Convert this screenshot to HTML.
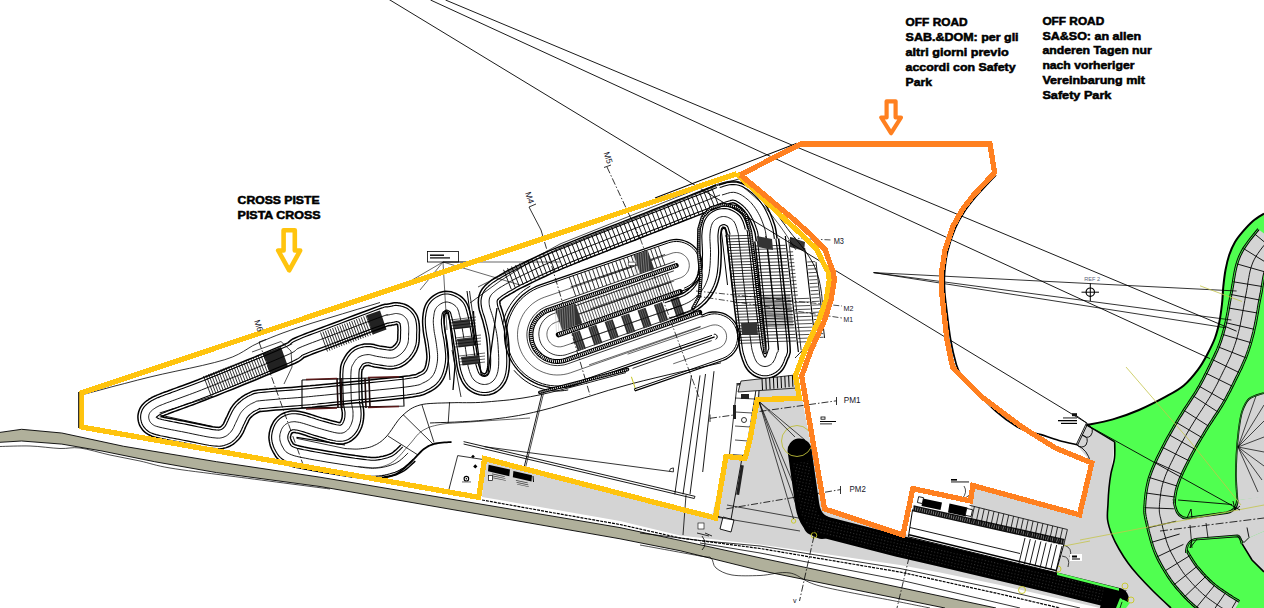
<!DOCTYPE html>
<html><head><meta charset="utf-8"><title>Safety Park - Cross / Off Road</title>
<style>
html,body{margin:0;padding:0;background:#fff;}
body{width:1264px;height:608px;overflow:hidden;position:relative;font-family:"Liberation Sans",sans-serif;}
svg{position:absolute;left:0;top:0;display:block}
.t{position:absolute;font-family:"Liberation Sans",sans-serif;font-weight:bold;color:#000;white-space:nowrap;transform-origin:0 0;line-height:15px;}
</style></head><body>
<svg width="1264" height="608" viewBox="0 0 1264 608">
<polygon points="0.0,432.4 21.6,429.3 61.8,433.0 123.7,446.3 216.5,461.7 320.0,477.2 560.0,517.4 620.0,527.6 680.0,540.4 760.0,557.8 940.0,596.0 996.0,608.0 945.0,608.0 940.0,607.0 760.0,570.5 680.0,550.7 620.0,538.8 560.0,528.3 320.0,486.5 216.5,472.6 154.6,461.7 102.0,451.0 61.8,444.1 21.6,441.0 0.0,442.3" fill="#B0B09B"/>
<polyline points="0.0,432.4 21.6,429.3 61.8,433.0 123.7,446.3 216.5,461.7 320.0,477.2 560.0,517.4 620.0,527.6 680.0,540.4 760.0,557.8 940.0,596.0 996.0,608.0" fill="none" stroke="#000" stroke-width="0.9"/>
<polyline points="945.0,608.0 940.0,607.0 760.0,570.5 680.0,550.7 620.0,538.8 560.0,528.3 320.0,486.5 216.5,472.6 154.6,461.7 102.0,451.0 61.8,444.1 21.6,441.0 0.0,442.3" fill="none" stroke="#000" stroke-width="0.9"/>
<path d="M0.0,446.5C5.0,446.4 20.0,445.7 30.0,446.0C40.0,446.3 51.7,448.2 60.0,448.5C68.3,448.8 71.7,446.9 80.0,448.0C88.3,449.1 100.0,452.8 110.0,455.0C120.0,457.2 130.0,458.8 140.0,461.0C150.0,463.2 155.0,465.5 170.0,468.0C185.0,470.5 203.3,472.5 230.0,476.0C256.7,479.5 313.3,486.8 330.0,489.0" fill="none" stroke="#000" stroke-width="0.7"/>
<path d="M640.0,545.0C650.0,546.8 688.2,553.8 700.0,556.0C711.8,558.2 708.3,556.0 711.0,558.0C713.7,560.0 712.5,565.2 716.0,568.0C719.5,570.8 724.7,573.8 732.0,575.0C739.3,576.2 750.3,575.8 760.0,575.5C769.7,575.2 780.0,571.2 790.0,573.0C800.0,574.8 801.7,581.2 820.0,586.0C838.3,590.8 881.7,598.3 900.0,602.0C918.3,605.7 925.0,607.0 930.0,608.0" fill="none" stroke="#000" stroke-width="0.7"/>
<polygon points="484.6,460.0 712.0,516.0 726.0,457.0 745.0,458.0 757.0,400.0 759.0,381.0 798.0,376.0 802.0,398.0 823.0,508.0 905.0,534.0 1119.0,589.5 1118.0,608.0 1100.0,608.0 1000.0,585.0 940.0,572.5 900.0,565.0 760.0,544.5 680.0,535.5 620.0,521.0 560.0,510.5 482.0,497.0" fill="#D4D4D4"/>
<polygon points="1076.5,444.7 1087.0,423.2 1114.7,441.9 1110.9,473.8 1108.0,503.8 1107.6,520.0 1119.0,549.0 1137.8,575.0 1171.0,608.0 1118.0,608.0 1119.0,589.5 1055.8,572.6 1064.2,543.2 969.5,522.0 972.6,485.3 1074.7,514.7 1079.0,514.5 1091.8,463.0" fill="#D4D4D4"/>
<path d="M1086.5,425.0C1090.9,424.1 1104.0,421.9 1112.8,419.4C1121.5,416.9 1130.2,413.8 1139.0,410.0C1147.8,406.2 1157.8,401.0 1165.3,396.9C1172.8,392.8 1178.3,390.1 1183.8,385.5C1189.2,380.9 1194.0,374.9 1198.0,369.6C1202.0,364.4 1204.7,359.3 1207.5,354.0C1210.3,348.7 1213.0,343.3 1215.0,338.0C1217.0,332.7 1218.1,328.0 1219.3,322.3C1220.5,316.6 1221.3,309.9 1222.0,304.0C1222.7,298.1 1222.7,292.4 1223.3,286.7C1223.9,281.0 1224.5,275.3 1225.5,270.0C1226.5,264.7 1227.6,259.7 1229.2,255.0C1230.8,250.3 1232.7,245.9 1235.0,242.0C1237.3,238.1 1240.0,234.9 1243.0,231.4C1246.0,227.9 1249.5,224.0 1253.0,221.0C1256.5,218.0 1262.2,214.8 1264.0,213.6 L1264,608 L1171,608 L1171.0,608.0C1168.0,605.2 1158.5,596.5 1153.0,591.0C1147.5,585.5 1142.0,579.7 1137.8,575.0C1133.6,570.3 1131.1,567.3 1128.0,563.0C1124.9,558.7 1121.7,553.7 1119.0,549.0C1116.3,544.3 1113.9,539.8 1112.0,535.0C1110.1,530.2 1108.3,525.2 1107.6,520.0C1106.9,514.8 1107.8,509.1 1108.0,503.8C1108.2,498.5 1108.5,493.0 1109.0,488.0C1109.5,483.0 1110.0,478.8 1110.9,473.8C1111.8,468.8 1113.9,463.3 1114.5,458.0C1115.1,452.7 1114.7,444.6 1114.7,441.9 Z" fill="#50FF50"/>
<path d="M1086.5,425.0C1090.9,424.1 1104.0,421.9 1112.8,419.4C1121.5,416.9 1130.2,413.8 1139.0,410.0C1147.8,406.2 1157.8,401.0 1165.3,396.9C1172.8,392.8 1178.3,390.1 1183.8,385.5C1189.2,380.9 1194.0,374.9 1198.0,369.6C1202.0,364.4 1204.7,359.3 1207.5,354.0C1210.3,348.7 1213.0,343.3 1215.0,338.0C1217.0,332.7 1218.1,328.0 1219.3,322.3C1220.5,316.6 1221.3,309.9 1222.0,304.0C1222.7,298.1 1222.7,292.4 1223.3,286.7C1223.9,281.0 1224.5,275.3 1225.5,270.0C1226.5,264.7 1227.6,259.7 1229.2,255.0C1230.8,250.3 1232.7,245.9 1235.0,242.0C1237.3,238.1 1240.0,234.9 1243.0,231.4C1246.0,227.9 1249.5,224.0 1253.0,221.0C1256.5,218.0 1262.2,214.8 1264.0,213.6" fill="none" stroke="#000" stroke-width="2"/>
<path d="M1171.0,608.0C1168.0,605.2 1158.5,596.5 1153.0,591.0C1147.5,585.5 1142.0,579.7 1137.8,575.0C1133.6,570.3 1131.1,567.3 1128.0,563.0C1124.9,558.7 1121.7,553.7 1119.0,549.0C1116.3,544.3 1113.9,539.8 1112.0,535.0C1110.1,530.2 1108.3,525.2 1107.6,520.0C1106.9,514.8 1107.8,509.1 1108.0,503.8C1108.2,498.5 1108.5,493.0 1109.0,488.0C1109.5,483.0 1110.0,478.8 1110.9,473.8C1111.8,468.8 1113.9,463.3 1114.5,458.0C1115.1,452.7 1114.7,444.6 1114.7,441.9" fill="none" stroke="#000" stroke-width="1.6"/>
<line x1="1114.7" y1="441.9" x2="1086.5" y2="425" stroke="#000" stroke-width="1.3"/>
<polygon points="1258.4,229.2 1257.5,230.4 1256.2,231.9 1254.6,233.9 1252.6,236.3 1250.4,239.0 1248.2,242.0 1245.9,245.2 1243.6,248.6 1241.5,252.3 1239.6,256.2 1238.1,260.1 1236.9,263.9 1235.9,267.6 1235.1,271.3 1234.4,274.9 1233.8,278.4 1233.3,281.8 1232.8,285.1 1232.2,288.2 1231.7,291.2 1231.0,294.5 1230.4,297.9 1229.8,301.3 1229.2,304.7 1228.6,308.0 1228.1,311.2 1227.5,314.3 1226.9,317.3 1226.4,320.1 1225.8,322.7 1225.2,325.3 1224.6,327.8 1224.0,330.1 1223.4,332.4 1222.8,334.5 1222.1,336.6 1221.5,338.7 1220.8,340.7 1220.1,342.8 1219.3,344.9 1218.5,347.0 1217.7,349.0 1216.8,351.1 1215.8,353.2 1214.8,355.4 1213.8,357.5 1212.7,359.7 1211.6,362.0 1210.5,364.3 1209.4,366.6 1208.3,368.9 1207.2,371.1 1206.1,373.3 1205.0,375.4 1204.0,377.5 1202.9,379.7 1201.7,381.8 1200.5,384.0 1199.3,386.3 1197.9,388.6 1196.5,391.0 1195.0,393.4 1193.3,396.0 1191.5,398.7 1189.7,401.5 1187.8,404.4 1185.9,407.3 1183.9,410.3 1182.0,413.4 1180.1,416.4 1178.3,419.4 1176.5,422.5 1174.7,425.5 1172.9,428.6 1171.1,431.8 1169.3,434.9 1167.5,438.0 1165.8,441.2 1164.2,444.3 1162.6,447.4 1161.1,450.3 1159.6,453.3 1158.2,456.2 1156.7,459.2 1155.4,462.2 1154.0,465.2 1152.7,468.2 1151.5,471.3 1150.4,474.4 1149.3,477.5 1148.4,480.7 1147.7,483.9 1147.0,487.0 1146.5,490.1 1146.0,493.0 1145.7,495.9 1145.4,498.6 1145.1,501.1 1145.0,503.5 1144.8,505.7 1144.7,507.7 1144.7,509.6 1144.7,511.6 1144.8,513.5 1145.1,515.3 1145.4,517.0 1145.7,518.5 1146.0,520.0 1146.4,521.5 1146.8,523.2 1147.2,525.3 1147.8,527.8 1148.4,530.5 1149.1,533.3 1149.9,536.2 1150.7,539.3 1151.6,542.3 1152.5,545.4 1153.5,548.4 1154.6,551.3 1155.8,554.1 1157.0,556.9 1158.3,559.5 1159.6,562.0 1160.9,564.4 1162.2,566.7 1163.5,568.9 1164.8,571.0 1166.0,572.9 1167.1,574.8 1168.3,576.6 1169.5,578.4 1170.6,580.0 1171.8,581.6 1172.9,583.2 1174.1,584.7 1175.3,586.1 1176.4,587.5 1177.7,589.0 1178.9,590.4 1180.3,591.9 1181.7,593.5 1183.1,595.1 1184.6,596.7 1186.2,598.3 1187.8,599.9 1189.4,601.4 1191.1,603.0 1192.8,604.6 1194.5,606.1 1196.4,607.6 1198.3,609.1 1200.1,610.6 1202.0,611.9 1203.9,613.3 1205.7,614.5 1207.5,615.7 1209.1,616.9 1210.7,617.9 1212.2,618.9 1213.7,619.9 1215.3,621.0 1216.8,621.9 1218.3,622.8 1219.7,623.7 1220.9,624.4 1222.1,625.1 1223.1,625.7 1223.8,626.1 1224.5,626.5 1239.5,601.5 1238.8,601.1 1237.9,600.5 1236.9,599.9 1235.8,599.3 1234.7,598.6 1233.5,597.9 1232.2,597.1 1231.0,596.3 1229.7,595.5 1228.4,594.7 1227.0,593.7 1225.5,592.7 1223.9,591.6 1222.3,590.5 1220.7,589.4 1219.1,588.3 1217.6,587.2 1216.1,586.0 1214.8,585.0 1213.5,583.9 1212.2,582.8 1210.9,581.6 1209.6,580.4 1208.3,579.1 1207.0,577.8 1205.7,576.5 1204.5,575.1 1203.2,573.8 1202.0,572.5 1200.9,571.2 1199.8,569.9 1198.8,568.7 1197.8,567.6 1196.9,566.5 1196.1,565.5 1195.3,564.4 1194.5,563.3 1193.7,562.1 1192.8,560.7 1191.9,559.2 1190.8,557.5 1189.7,555.7 1188.6,553.9 1187.5,552.0 1186.4,550.1 1185.3,548.2 1184.4,546.3 1183.4,544.4 1182.6,542.5 1181.8,540.7 1181.1,538.7 1180.3,536.5 1179.6,534.0 1178.8,531.4 1178.1,528.8 1177.4,526.2 1176.8,523.6 1176.2,521.2 1175.7,518.9 1175.2,516.8 1174.8,514.9 1174.5,513.4 1174.2,512.2 1174.0,511.5 1173.9,511.0 1173.9,510.7 1173.9,510.4 1173.9,509.8 1173.9,508.8 1174.0,507.3 1174.1,505.5 1174.2,503.5 1174.4,501.4 1174.7,499.3 1174.9,497.0 1175.3,494.8 1175.7,492.5 1176.1,490.3 1176.7,488.2 1177.3,486.1 1178.0,483.9 1178.8,481.7 1179.7,479.3 1180.8,476.8 1181.9,474.3 1183.1,471.7 1184.4,469.0 1185.8,466.2 1187.2,463.4 1188.6,460.6 1190.0,457.9 1191.5,455.0 1193.1,452.1 1194.7,449.2 1196.4,446.3 1198.1,443.3 1199.9,440.3 1201.6,437.4 1203.4,434.4 1205.1,431.6 1206.8,428.8 1208.5,426.1 1210.3,423.3 1212.2,420.4 1214.0,417.6 1215.9,414.8 1217.8,411.9 1219.6,409.1 1221.4,406.2 1223.1,403.4 1224.6,400.7 1226.1,398.1 1227.4,395.6 1228.7,393.2 1230.0,390.8 1231.1,388.5 1232.3,386.2 1233.4,384.0 1234.5,381.7 1235.6,379.4 1236.7,377.1 1237.9,374.8 1239.0,372.5 1240.1,370.2 1241.3,367.8 1242.4,365.3 1243.5,362.8 1244.6,360.3 1245.7,357.7 1246.7,355.1 1247.6,352.6 1248.5,350.1 1249.3,347.6 1250.1,345.1 1250.8,342.6 1251.5,340.1 1252.2,337.5 1252.9,334.9 1253.6,332.1 1254.2,329.3 1254.9,326.2 1255.6,322.9 1256.2,319.7 1256.8,316.3 1257.4,313.0 1258.0,309.7 1258.5,306.4 1259.1,303.1 1259.7,300.0 1260.3,296.8 1261.0,293.4 1261.6,289.9 1262.1,286.5 1262.7,283.2 1263.2,280.1 1263.7,277.1 1264.3,274.4 1265.0,271.9 1265.7,269.7 1266.4,267.8 1267.3,266.0 1268.5,264.0 1269.9,261.7 1271.6,259.4 1273.4,257.0 1275.3,254.7 1277.1,252.5 1278.8,250.4 1280.4,248.4 1281.6,246.8" fill="#D4D4D4"/>
<polygon points="1174.0,499.0 1175.6,511.0 1182.0,517.0 1186.5,518.3 1226.6,512.7 1235.0,509.6 1237.4,500.3 1264.0,496.3 1264.0,531.2 1249.8,537.4 1242.0,543.6 1237.4,535.9 1197.3,539.0 1188.0,543.6 1186.4,552.9 1170.0,530.0" fill="#D4D4D4"/>
<polygon points="1264.0,393.0 1249.0,399.0 1242.0,412.0 1238.5,432.0 1236.5,455.0 1236.0,478.0 1237.4,500.3 1264.0,497.0" fill="#D4D4D4"/>
<path d="M1264.0,393.0C1261.5,394.0 1252.7,395.8 1249.0,399.0C1245.3,402.2 1243.8,406.5 1242.0,412.0C1240.2,417.5 1239.4,424.8 1238.5,432.0C1237.6,439.2 1236.9,447.3 1236.5,455.0C1236.1,462.7 1235.8,470.4 1236.0,478.0C1236.2,485.6 1237.2,496.6 1237.4,500.3" fill="none" stroke="#000" stroke-width="1.8"/>
<path d="M1264.0,393.0C1261.5,394.0 1252.7,395.8 1249.0,399.0C1245.3,402.2 1243.8,406.5 1242.0,412.0C1240.2,417.5 1239.4,424.8 1238.5,432.0C1237.6,439.2 1236.9,447.3 1236.5,455.0C1236.1,462.7 1235.8,470.4 1236.0,478.0C1236.2,485.6 1237.2,496.6 1237.4,500.3" fill="none" stroke="#50FF50" stroke-width="0.5"/>
<line x1="1238" y1="447" x2="1264" y2="405" stroke="#000" stroke-width="0.7"/>
<line x1="1238" y1="447" x2="1264" y2="421" stroke="#000" stroke-width="0.7"/>
<line x1="1238" y1="447" x2="1264" y2="437" stroke="#000" stroke-width="0.7"/>
<line x1="1238" y1="447" x2="1264" y2="452" stroke="#000" stroke-width="0.7"/>
<line x1="1238" y1="447" x2="1264" y2="466" stroke="#000" stroke-width="0.7"/>
<line x1="1238" y1="447" x2="1262" y2="480" stroke="#000" stroke-width="0.7"/>
<line x1="1238" y1="447" x2="1256" y2="396" stroke="#000" stroke-width="0.7"/>
<line x1="1238" y1="447" x2="1258" y2="492" stroke="#000" stroke-width="0.7"/>
<polygon points="1264.0,531.2 1249.8,537.4 1242.0,543.6 1252.0,560.0 1264.0,572.0" fill="#D4D4D4"/>
<polyline points="1242.0,543.6 1252.0,560.0 1264.0,572.0" fill="none" stroke="#000" stroke-width="1.6"/>
<polyline points="1258.4,229.2 1257.5,230.4 1256.2,231.9 1254.6,233.9 1252.6,236.3 1250.4,239.0 1248.2,242.0 1245.9,245.2 1243.6,248.6 1241.5,252.3 1239.6,256.2 1238.1,260.1 1236.9,263.9 1235.9,267.6 1235.1,271.3 1234.4,274.9 1233.8,278.4 1233.3,281.8 1232.8,285.1 1232.2,288.2 1231.7,291.2 1231.0,294.5 1230.4,297.9 1229.8,301.3 1229.2,304.7 1228.6,308.0 1228.1,311.2 1227.5,314.3 1226.9,317.3 1226.4,320.1 1225.8,322.7 1225.2,325.3 1224.6,327.8 1224.0,330.1 1223.4,332.4 1222.8,334.5 1222.1,336.6 1221.5,338.7 1220.8,340.7 1220.1,342.8 1219.3,344.9 1218.5,347.0 1217.7,349.0 1216.8,351.1 1215.8,353.2 1214.8,355.4 1213.8,357.5 1212.7,359.7 1211.6,362.0 1210.5,364.3 1209.4,366.6 1208.3,368.9 1207.2,371.1 1206.1,373.3 1205.0,375.4 1204.0,377.5 1202.9,379.7 1201.7,381.8 1200.5,384.0 1199.3,386.3 1197.9,388.6 1196.5,391.0 1195.0,393.4 1193.3,396.0 1191.5,398.7 1189.7,401.5 1187.8,404.4 1185.9,407.3 1183.9,410.3 1182.0,413.4 1180.1,416.4 1178.3,419.4 1176.5,422.5 1174.7,425.5 1172.9,428.6 1171.1,431.8 1169.3,434.9 1167.5,438.0 1165.8,441.2 1164.2,444.3 1162.6,447.4 1161.1,450.3 1159.6,453.3 1158.2,456.2 1156.7,459.2 1155.4,462.2 1154.0,465.2 1152.7,468.2 1151.5,471.3 1150.4,474.4 1149.3,477.5 1148.4,480.7 1147.7,483.9 1147.0,487.0 1146.5,490.1 1146.0,493.0 1145.7,495.9 1145.4,498.6 1145.1,501.1 1145.0,503.5 1144.8,505.7 1144.7,507.7 1144.7,509.6 1144.7,511.6 1144.8,513.5 1145.1,515.3 1145.4,517.0 1145.7,518.5 1146.0,520.0 1146.4,521.5 1146.8,523.2 1147.2,525.3 1147.8,527.8 1148.4,530.5 1149.1,533.3 1149.9,536.2 1150.7,539.3 1151.6,542.3 1152.5,545.4 1153.5,548.4 1154.6,551.3 1155.8,554.1 1157.0,556.9 1158.3,559.5 1159.6,562.0 1160.9,564.4 1162.2,566.7 1163.5,568.9 1164.8,571.0 1166.0,572.9 1167.1,574.8 1168.3,576.6 1169.5,578.4 1170.6,580.0 1171.8,581.6 1172.9,583.2 1174.1,584.7 1175.3,586.1 1176.4,587.5 1177.7,589.0 1178.9,590.4 1180.3,591.9 1181.7,593.5 1183.1,595.1 1184.6,596.7 1186.2,598.3 1187.8,599.9 1189.4,601.4 1191.1,603.0 1192.8,604.6 1194.5,606.1 1196.4,607.6 1198.3,609.1 1200.1,610.6 1202.0,611.9 1203.9,613.3 1205.7,614.5 1207.5,615.7 1209.1,616.9 1210.7,617.9 1212.2,618.9 1213.7,619.9 1215.3,621.0 1216.8,621.9 1218.3,622.8 1219.7,623.7 1220.9,624.4 1222.1,625.1 1223.1,625.7 1223.8,626.1 1224.5,626.5" fill="none" stroke="#000" stroke-width="2.8"/>
<polyline points="1258.4,229.2 1257.5,230.4 1256.2,231.9 1254.6,233.9 1252.6,236.3 1250.4,239.0 1248.2,242.0 1245.9,245.2 1243.6,248.6 1241.5,252.3 1239.6,256.2 1238.1,260.1 1236.9,263.9 1235.9,267.6 1235.1,271.3 1234.4,274.9 1233.8,278.4 1233.3,281.8 1232.8,285.1 1232.2,288.2 1231.7,291.2 1231.0,294.5 1230.4,297.9 1229.8,301.3 1229.2,304.7 1228.6,308.0 1228.1,311.2 1227.5,314.3 1226.9,317.3 1226.4,320.1 1225.8,322.7 1225.2,325.3 1224.6,327.8 1224.0,330.1 1223.4,332.4 1222.8,334.5 1222.1,336.6 1221.5,338.7 1220.8,340.7 1220.1,342.8 1219.3,344.9 1218.5,347.0 1217.7,349.0 1216.8,351.1 1215.8,353.2 1214.8,355.4 1213.8,357.5 1212.7,359.7 1211.6,362.0 1210.5,364.3 1209.4,366.6 1208.3,368.9 1207.2,371.1 1206.1,373.3 1205.0,375.4 1204.0,377.5 1202.9,379.7 1201.7,381.8 1200.5,384.0 1199.3,386.3 1197.9,388.6 1196.5,391.0 1195.0,393.4 1193.3,396.0 1191.5,398.7 1189.7,401.5 1187.8,404.4 1185.9,407.3 1183.9,410.3 1182.0,413.4 1180.1,416.4 1178.3,419.4 1176.5,422.5 1174.7,425.5 1172.9,428.6 1171.1,431.8 1169.3,434.9 1167.5,438.0 1165.8,441.2 1164.2,444.3 1162.6,447.4 1161.1,450.3 1159.6,453.3 1158.2,456.2 1156.7,459.2 1155.4,462.2 1154.0,465.2 1152.7,468.2 1151.5,471.3 1150.4,474.4 1149.3,477.5 1148.4,480.7 1147.7,483.9 1147.0,487.0 1146.5,490.1 1146.0,493.0 1145.7,495.9 1145.4,498.6 1145.1,501.1 1145.0,503.5 1144.8,505.7 1144.7,507.7 1144.7,509.6 1144.7,511.6 1144.8,513.5 1145.1,515.3 1145.4,517.0 1145.7,518.5 1146.0,520.0 1146.4,521.5 1146.8,523.2 1147.2,525.3 1147.8,527.8 1148.4,530.5 1149.1,533.3 1149.9,536.2 1150.7,539.3 1151.6,542.3 1152.5,545.4 1153.5,548.4 1154.6,551.3 1155.8,554.1 1157.0,556.9 1158.3,559.5 1159.6,562.0 1160.9,564.4 1162.2,566.7 1163.5,568.9 1164.8,571.0 1166.0,572.9 1167.1,574.8 1168.3,576.6 1169.5,578.4 1170.6,580.0 1171.8,581.6 1172.9,583.2 1174.1,584.7 1175.3,586.1 1176.4,587.5 1177.7,589.0 1178.9,590.4 1180.3,591.9 1181.7,593.5 1183.1,595.1 1184.6,596.7 1186.2,598.3 1187.8,599.9 1189.4,601.4 1191.1,603.0 1192.8,604.6 1194.5,606.1 1196.4,607.6 1198.3,609.1 1200.1,610.6 1202.0,611.9 1203.9,613.3 1205.7,614.5 1207.5,615.7 1209.1,616.9 1210.7,617.9 1212.2,618.9 1213.7,619.9 1215.3,621.0 1216.8,621.9 1218.3,622.8 1219.7,623.7 1220.9,624.4 1222.1,625.1 1223.1,625.7 1223.8,626.1 1224.5,626.5" fill="none" stroke="#50FF50" stroke-width="0.9"/>
<polyline points="1281.6,246.8 1280.4,248.4 1278.8,250.4 1277.1,252.5 1275.3,254.7 1273.4,257.0 1271.6,259.4 1269.9,261.7 1268.5,264.0 1267.3,266.0 1266.4,267.8 1265.7,269.7 1265.0,271.9 1264.3,274.4 1263.7,277.1 1263.2,280.1 1262.7,283.2 1262.1,286.5 1261.6,289.9 1261.0,293.4 1260.3,296.8 1259.7,300.0 1259.1,303.1 1258.5,306.4 1258.0,309.7 1257.4,313.0 1256.8,316.3 1256.2,319.7 1255.6,322.9 1254.9,326.2 1254.2,329.3 1253.6,332.1 1252.9,334.9 1252.2,337.5 1251.5,340.1 1250.8,342.6 1250.1,345.1 1249.3,347.6 1248.5,350.1 1247.6,352.6 1246.7,355.1 1245.7,357.7 1244.6,360.3 1243.5,362.8 1242.4,365.3 1241.3,367.8 1240.1,370.2 1239.0,372.5 1237.9,374.8 1236.7,377.1 1235.6,379.4 1234.5,381.7 1233.4,384.0 1232.3,386.2 1231.1,388.5 1230.0,390.8 1228.7,393.2 1227.4,395.6 1226.1,398.1 1224.6,400.7 1223.1,403.4 1221.4,406.2 1219.6,409.1 1217.8,411.9 1215.9,414.8 1214.0,417.6 1212.2,420.4 1210.3,423.3 1208.5,426.1 1206.8,428.8 1205.1,431.6 1203.4,434.4 1201.6,437.4 1199.9,440.3 1198.1,443.3 1196.4,446.3 1194.7,449.2 1193.1,452.1 1191.5,455.0 1190.0,457.9 1188.6,460.6 1187.2,463.4 1185.8,466.2 1184.4,469.0 1183.1,471.7 1181.9,474.3 1180.8,476.8 1179.7,479.3 1178.8,481.7 1178.0,483.9 1177.3,486.1 1176.7,488.2 1176.1,490.3 1175.7,492.5 1175.3,494.8 1174.9,497.0 1174.7,499.3 1174.4,501.4 1174.2,503.5" fill="none" stroke="#000" stroke-width="2.8"/>
<polyline points="1281.6,246.8 1280.4,248.4 1278.8,250.4 1277.1,252.5 1275.3,254.7 1273.4,257.0 1271.6,259.4 1269.9,261.7 1268.5,264.0 1267.3,266.0 1266.4,267.8 1265.7,269.7 1265.0,271.9 1264.3,274.4 1263.7,277.1 1263.2,280.1 1262.7,283.2 1262.1,286.5 1261.6,289.9 1261.0,293.4 1260.3,296.8 1259.7,300.0 1259.1,303.1 1258.5,306.4 1258.0,309.7 1257.4,313.0 1256.8,316.3 1256.2,319.7 1255.6,322.9 1254.9,326.2 1254.2,329.3 1253.6,332.1 1252.9,334.9 1252.2,337.5 1251.5,340.1 1250.8,342.6 1250.1,345.1 1249.3,347.6 1248.5,350.1 1247.6,352.6 1246.7,355.1 1245.7,357.7 1244.6,360.3 1243.5,362.8 1242.4,365.3 1241.3,367.8 1240.1,370.2 1239.0,372.5 1237.9,374.8 1236.7,377.1 1235.6,379.4 1234.5,381.7 1233.4,384.0 1232.3,386.2 1231.1,388.5 1230.0,390.8 1228.7,393.2 1227.4,395.6 1226.1,398.1 1224.6,400.7 1223.1,403.4 1221.4,406.2 1219.6,409.1 1217.8,411.9 1215.9,414.8 1214.0,417.6 1212.2,420.4 1210.3,423.3 1208.5,426.1 1206.8,428.8 1205.1,431.6 1203.4,434.4 1201.6,437.4 1199.9,440.3 1198.1,443.3 1196.4,446.3 1194.7,449.2 1193.1,452.1 1191.5,455.0 1190.0,457.9 1188.6,460.6 1187.2,463.4 1185.8,466.2 1184.4,469.0 1183.1,471.7 1181.9,474.3 1180.8,476.8 1179.7,479.3 1178.8,481.7 1178.0,483.9 1177.3,486.1 1176.7,488.2 1176.1,490.3 1175.7,492.5 1175.3,494.8 1174.9,497.0 1174.7,499.3 1174.4,501.4 1174.2,503.5" fill="none" stroke="#50FF50" stroke-width="0.9"/>
<polyline points="1186.4,550.1 1187.5,552.0 1188.6,553.9 1189.7,555.7 1190.8,557.5 1191.9,559.2 1192.8,560.7 1193.7,562.1 1194.5,563.3 1195.3,564.4 1196.1,565.5 1196.9,566.5 1197.8,567.6 1198.8,568.7 1199.8,569.9 1200.9,571.2 1202.0,572.5 1203.2,573.8 1204.5,575.1 1205.7,576.5 1207.0,577.8 1208.3,579.1 1209.6,580.4 1210.9,581.6 1212.2,582.8 1213.5,583.9 1214.8,585.0 1216.1,586.0 1217.6,587.2 1219.1,588.3 1220.7,589.4 1222.3,590.5 1223.9,591.6 1225.5,592.7 1227.0,593.7 1228.4,594.7 1229.7,595.5 1231.0,596.3 1232.2,597.1 1233.5,597.9 1234.7,598.6 1235.8,599.3 1236.9,599.9 1237.9,600.5 1238.8,601.1 1239.5,601.5" fill="none" stroke="#000" stroke-width="2.8"/>
<polyline points="1186.4,550.1 1187.5,552.0 1188.6,553.9 1189.7,555.7 1190.8,557.5 1191.9,559.2 1192.8,560.7 1193.7,562.1 1194.5,563.3 1195.3,564.4 1196.1,565.5 1196.9,566.5 1197.8,567.6 1198.8,568.7 1199.8,569.9 1200.9,571.2 1202.0,572.5 1203.2,573.8 1204.5,575.1 1205.7,576.5 1207.0,577.8 1208.3,579.1 1209.6,580.4 1210.9,581.6 1212.2,582.8 1213.5,583.9 1214.8,585.0 1216.1,586.0 1217.6,587.2 1219.1,588.3 1220.7,589.4 1222.3,590.5 1223.9,591.6 1225.5,592.7 1227.0,593.7 1228.4,594.7 1229.7,595.5 1231.0,596.3 1232.2,597.1 1233.5,597.9 1234.7,598.6 1235.8,599.3 1236.9,599.9 1237.9,600.5 1238.8,601.1 1239.5,601.5" fill="none" stroke="#50FF50" stroke-width="0.9"/>
<path d="M1174,499 C1174.5,508 1177,517.5 1186.5,518.3 L1226.6,512.7 C1233,511.5 1237,507 1237.4,500.3" fill="none" stroke="#000" stroke-width="2.6"/><path d="M1174,499 C1174.5,508 1177,517.5 1186.5,518.3 L1226.6,512.7 C1233,511.5 1237,507 1237.4,500.3" fill="none" stroke="#50FF50" stroke-width="0.8"/>
<path d="M1186.4,552.9 C1186,545 1190,539.5 1197.3,539 L1237.4,535.9 C1240,536 1241,540 1242,543.6" fill="none" stroke="#000" stroke-width="2.6"/><path d="M1186.4,552.9 C1186,545 1190,539.5 1197.3,539 L1237.4,535.9 C1240,536 1241,540 1242,543.6" fill="none" stroke="#50FF50" stroke-width="0.8"/>
<path d="M1178,500 L1232,504.5" fill="none" stroke="#000" stroke-width="0.9"/>
<path d="M1187,518 l4,-9 l1,9 M1237,535.5 l7,7 l5,-5 l-2,-10 M1233,501 l2,9 l5,-4 M1197,539 l-7,9 l2,-9" fill="none" stroke="#000" stroke-width="0.9"/>
<polyline points="1270.0,238.0 1268.9,239.4 1267.5,241.1 1265.8,243.2 1263.9,245.5 1261.9,248.0 1259.9,250.7 1257.9,253.5 1256.0,256.3 1254.4,259.2 1253.0,262.0 1251.9,264.9 1250.9,267.9 1250.1,271.0 1249.4,274.2 1248.8,277.5 1248.2,280.8 1247.7,284.1 1247.2,287.5 1246.6,290.8 1246.0,294.0 1245.4,297.2 1244.8,300.5 1244.2,303.9 1243.6,307.2 1243.0,310.5 1242.4,313.8 1241.8,317.0 1241.2,320.1 1240.6,323.1 1240.0,326.0 1239.4,328.7 1238.7,331.3 1238.1,333.8 1237.4,336.2 1236.8,338.6 1236.1,340.9 1235.4,343.1 1234.6,345.4 1233.8,347.7 1233.0,350.0 1232.1,352.3 1231.1,354.7 1230.2,357.0 1229.1,359.3 1228.1,361.6 1227.0,363.8 1225.9,366.1 1224.8,368.4 1223.6,370.7 1222.5,373.0 1221.4,375.3 1220.3,377.5 1219.2,379.7 1218.1,382.0 1217.0,384.2 1215.8,386.4 1214.6,388.7 1213.3,391.1 1211.9,393.5 1210.5,396.0 1208.9,398.6 1207.3,401.2 1205.5,404.0 1203.7,406.7 1201.9,409.6 1200.0,412.4 1198.1,415.3 1196.2,418.2 1194.4,421.1 1192.6,424.0 1190.8,426.9 1189.1,429.9 1187.3,432.9 1185.5,436.0 1183.8,439.0 1182.0,442.1 1180.3,445.1 1178.7,448.1 1177.1,451.1 1175.6,454.0 1174.1,456.9 1172.7,459.8 1171.3,462.6 1169.9,465.4 1168.6,468.2 1167.4,471.0 1166.2,473.8 1165.1,476.5 1164.2,479.2 1163.3,481.8 1162.5,484.4 1161.9,487.1 1161.3,489.8 1160.9,492.4 1160.5,495.0 1160.2,497.6 1159.9,500.0 1159.7,502.3 1159.5,504.5 1159.4,506.5 1159.3,508.2 1159.3,509.7 1159.3,511.0 1159.4,512.1 1159.5,513.2 1159.7,514.2 1159.9,515.4 1160.2,516.7 1160.6,518.2 1161.0,520.0 1161.5,522.1 1162.0,524.5 1162.6,527.0 1163.3,529.7 1164.0,532.5 1164.8,535.4 1165.6,538.2 1166.4,540.9 1167.3,543.5 1168.2,546.0 1169.2,548.3 1170.2,550.6 1171.3,552.9 1172.5,555.1 1173.7,557.3 1174.8,559.4 1176.0,561.4 1177.2,563.3 1178.4,565.2 1179.5,567.0 1180.6,568.7 1181.6,570.2 1182.6,571.7 1183.5,573.0 1184.5,574.3 1185.5,575.6 1186.5,576.9 1187.6,578.1 1188.7,579.4 1189.9,580.8 1191.2,582.2 1192.4,583.7 1193.8,585.1 1195.2,586.6 1196.6,588.0 1198.0,589.5 1199.5,590.9 1201.0,592.3 1202.5,593.7 1204.0,595.0 1205.6,596.3 1207.2,597.6 1208.9,598.9 1210.6,600.1 1212.3,601.3 1214.0,602.5 1215.7,603.7 1217.3,604.8 1218.8,605.8 1220.3,606.8 1221.7,607.7 1223.1,608.6 1224.5,609.5 1225.9,610.4 1227.2,611.1 1228.4,611.9 1229.5,612.5 1230.5,613.1 1231.3,613.6 1232.0,614.0" fill="none" stroke="#000" stroke-width="0.9"/>
<line x1="1254.6" y1="233.9" x2="1277.1" y2="252.5" stroke="#000" stroke-width="0.9"/>
<line x1="1243.6" y1="248.6" x2="1268.5" y2="264.0" stroke="#000" stroke-width="0.9"/>
<line x1="1236.9" y1="263.9" x2="1265.0" y2="271.9" stroke="#000" stroke-width="0.9"/>
<line x1="1233.3" y1="281.8" x2="1262.1" y2="286.5" stroke="#000" stroke-width="0.9"/>
<line x1="1231.0" y1="294.5" x2="1259.7" y2="300.0" stroke="#000" stroke-width="0.9"/>
<line x1="1228.6" y1="308.0" x2="1257.4" y2="313.0" stroke="#000" stroke-width="0.9"/>
<line x1="1225.8" y1="322.7" x2="1254.2" y2="329.3" stroke="#000" stroke-width="0.9"/>
<line x1="1222.8" y1="334.5" x2="1250.8" y2="342.6" stroke="#000" stroke-width="0.9"/>
<line x1="1218.5" y1="347.0" x2="1245.7" y2="357.7" stroke="#000" stroke-width="0.9"/>
<line x1="1212.7" y1="359.7" x2="1239.0" y2="372.5" stroke="#000" stroke-width="0.9"/>
<line x1="1206.1" y1="373.3" x2="1232.3" y2="386.2" stroke="#000" stroke-width="0.9"/>
<line x1="1199.3" y1="386.3" x2="1224.6" y2="400.7" stroke="#000" stroke-width="0.9"/>
<line x1="1193.3" y1="396.0" x2="1217.8" y2="411.9" stroke="#000" stroke-width="0.9"/>
<line x1="1183.9" y1="410.3" x2="1208.5" y2="426.1" stroke="#000" stroke-width="0.9"/>
<line x1="1176.5" y1="422.5" x2="1201.6" y2="437.4" stroke="#000" stroke-width="0.9"/>
<line x1="1169.3" y1="434.9" x2="1194.7" y2="449.2" stroke="#000" stroke-width="0.9"/>
<line x1="1162.6" y1="447.4" x2="1188.6" y2="460.6" stroke="#000" stroke-width="0.9"/>
<line x1="1155.4" y1="462.2" x2="1181.9" y2="474.3" stroke="#000" stroke-width="0.9"/>
<line x1="1149.3" y1="477.5" x2="1177.3" y2="486.1" stroke="#000" stroke-width="0.9"/>
<line x1="1146.0" y1="493.0" x2="1174.9" y2="497.0" stroke="#000" stroke-width="0.9"/>
<line x1="1144.7" y1="507.7" x2="1173.9" y2="508.8" stroke="#000" stroke-width="0.9"/>
<line x1="1147.8" y1="527.8" x2="1176.2" y2="521.2" stroke="#000" stroke-width="0.9"/>
<line x1="1151.6" y1="542.3" x2="1179.6" y2="534.0" stroke="#000" stroke-width="0.9"/>
<line x1="1157.0" y1="556.9" x2="1183.4" y2="544.4" stroke="#000" stroke-width="0.9"/>
<line x1="1164.8" y1="571.0" x2="1189.7" y2="555.7" stroke="#000" stroke-width="0.9"/>
<line x1="1174.1" y1="584.7" x2="1196.9" y2="566.5" stroke="#000" stroke-width="0.9"/>
<line x1="1184.6" y1="596.7" x2="1205.7" y2="576.5" stroke="#000" stroke-width="0.9"/>
<line x1="1196.4" y1="607.6" x2="1214.8" y2="585.0" stroke="#000" stroke-width="0.9"/>
<line x1="1209.1" y1="616.9" x2="1225.5" y2="592.7" stroke="#000" stroke-width="0.9"/>
<line x1="1222.1" y1="625.1" x2="1236.9" y2="599.9" stroke="#000" stroke-width="0.9"/>
<line x1="1160" y1="531" x2="1264" y2="518" stroke="#000" stroke-width="0.8" stroke-dasharray="8 2 2 2"/>
<line x1="1190" y1="525" x2="1192" y2="548" stroke="#000" stroke-width="0.8"/><line x1="1206" y1="523" x2="1208" y2="538" stroke="#000" stroke-width="0.8"/>
<path d="M799.6,450.5 L807.3,505 Q810,522 822,527" fill="none" stroke="#000" stroke-width="24" stroke-linecap="round" stroke-linejoin="round"/><path d="M814,524.5 L830,528.5 L900,546.5 L940,555.8 L1055.8,583.2 L1118,598.7" fill="none" stroke="#000" stroke-width="21.5" stroke-linecap="round" stroke-linejoin="round"/><defs><pattern id="dots" width="3.2" height="3.2" patternUnits="userSpaceOnUse" patternTransform="rotate(13)"><rect width="3.2" height="3.2" fill="#000"/><rect x="1" y="1" width="0.8" height="0.8" fill="#555"/></pattern></defs><path d="M801,462 L807.3,505 Q810,522 822,527 L830,528.5 L900,546.5 L940,555.8 L1055.8,583.2 L1112,597.2" fill="none" stroke="url(#dots)" stroke-width="16" stroke-linejoin="round"/>
<polygon points="1105,585 1122,589 1119,608 1100,608" fill="#000"/>
<circle cx="797" cy="441" r="15.5" fill="none" stroke="#BDBD3A" stroke-width="0.9"/>
<circle cx="793.6" cy="521" r="2.2" fill="none" stroke="#C8C820" stroke-width="0.9"/>
<circle cx="814" cy="535.3" r="2.8" fill="none" stroke="#C8C820" stroke-width="0.9"/>
<circle cx="1022" cy="590" r="3.5" fill="none" stroke="#C8C820" stroke-width="0.9"/>
<circle cx="1058" cy="569" r="3" fill="none" stroke="#C8C820" stroke-width="0.9"/>
<circle cx="1125" cy="586" r="3" fill="none" stroke="#C8C820" stroke-width="0.9"/>
<circle cx="1131" cy="600" r="3" fill="none" stroke="#C8C820" stroke-width="0.9"/>
<polygon points="1057,572.6 1119,588.3 1119,590.8 1057,575" fill="#50FF50"/>
<polygon points="1120,598 1130,603 1126,608 1116,608" fill="#50FF50"/>
<polygon points="912.6,509.5 1064.2,543.2 1055.8,572.6 908.4,536.8" fill="#fff" stroke="#000" stroke-width="1"/>
<line x1="910" y1="527.5" x2="1020" y2="553.5" stroke="#000" stroke-width="0.9"/>
<line x1="909" y1="534.8" x2="1056" y2="570.5" stroke="#000" stroke-width="1.4"/>
<polygon points="912.6,488.4 971,500 969.5,522 912.6,509.5" fill="#fff"/>
<polygon points="923,498.5 942,502.5 940.5,510 921.5,506" fill="#000"/><polygon points="949.5,503.5 967.4,507.5 966,516.5 948,512.5" fill="#000"/>
<rect x="918" y="497" width="5" height="6" fill="#fff" stroke="#000" stroke-width="0.8" transform="rotate(12 920 500)"/>
<rect x="966" y="509" width="6" height="7" fill="#fff" stroke="#000" stroke-width="0.8" transform="rotate(12 969 512)"/>
<line x1="913" y1="508.3" x2="1064" y2="542" stroke="#111" stroke-width="6.2"/>
<line x1="913" y1="508.3" x2="1064" y2="542" stroke="#fff" stroke-width="3.6" stroke-dasharray="0.7 1.6" opacity="0.55"/>
<line x1="969.5" y1="505.3" x2="1067.4" y2="529.5" stroke="#000" stroke-width="0.8"/>
<line x1="1067.4" y1="529.5" x2="1064.2" y2="543.2" stroke="#000" stroke-width="0.8"/>
<line x1="974.4" y1="506.5" x2="970.8" y2="522.8" stroke="#000" stroke-width="0.8"/>
<line x1="979.3" y1="507.7" x2="975.7" y2="524.0" stroke="#000" stroke-width="0.8"/>
<line x1="984.2" y1="508.9" x2="980.6" y2="525.2" stroke="#000" stroke-width="0.8"/>
<line x1="989.1" y1="510.1" x2="985.5" y2="526.4" stroke="#000" stroke-width="0.8"/>
<line x1="994.0" y1="511.4" x2="990.4" y2="527.6" stroke="#000" stroke-width="0.8"/>
<line x1="998.9" y1="512.6" x2="995.3" y2="528.9" stroke="#000" stroke-width="0.8"/>
<line x1="1003.8" y1="513.8" x2="1000.2" y2="530.1" stroke="#000" stroke-width="0.8"/>
<line x1="1008.7" y1="515.0" x2="1005.1" y2="531.3" stroke="#000" stroke-width="0.8"/>
<line x1="1013.6" y1="516.2" x2="1010.0" y2="532.5" stroke="#000" stroke-width="0.8"/>
<line x1="1018.5" y1="517.4" x2="1014.9" y2="533.7" stroke="#000" stroke-width="0.8"/>
<line x1="1023.3" y1="518.6" x2="1019.7" y2="534.9" stroke="#000" stroke-width="0.8"/>
<line x1="1028.2" y1="519.8" x2="1024.6" y2="536.1" stroke="#000" stroke-width="0.8"/>
<line x1="1033.1" y1="521.0" x2="1029.5" y2="537.3" stroke="#000" stroke-width="0.8"/>
<line x1="1038.0" y1="522.2" x2="1034.4" y2="538.5" stroke="#000" stroke-width="0.8"/>
<line x1="1042.9" y1="523.5" x2="1039.3" y2="539.8" stroke="#000" stroke-width="0.8"/>
<line x1="1047.8" y1="524.7" x2="1044.2" y2="541.0" stroke="#000" stroke-width="0.8"/>
<line x1="1052.7" y1="525.9" x2="1049.1" y2="542.2" stroke="#000" stroke-width="0.8"/>
<line x1="1057.6" y1="527.1" x2="1054.0" y2="543.4" stroke="#000" stroke-width="0.8"/>
<line x1="1062.5" y1="528.3" x2="1058.9" y2="544.6" stroke="#000" stroke-width="0.8"/>
<line x1="1025.0" y1="538.0" x2="1019.0" y2="563.0" stroke="#000" stroke-width="0.9"/>
<line x1="1030.3" y1="539.1" x2="1024.3" y2="564.1" stroke="#000" stroke-width="0.9"/>
<line x1="1035.6" y1="540.3" x2="1029.6" y2="565.3" stroke="#000" stroke-width="0.9"/>
<line x1="1040.9" y1="541.4" x2="1034.9" y2="566.4" stroke="#000" stroke-width="0.9"/>
<line x1="1046.1" y1="542.6" x2="1040.1" y2="567.6" stroke="#000" stroke-width="0.9"/>
<line x1="1051.4" y1="543.7" x2="1045.4" y2="568.7" stroke="#000" stroke-width="0.9"/>
<line x1="1056.7" y1="544.9" x2="1050.7" y2="569.9" stroke="#000" stroke-width="0.9"/>
<line x1="1062.0" y1="546.0" x2="1056.0" y2="571.0" stroke="#000" stroke-width="0.9"/>
<path d="M1064,545 q9,3 6,12 M1062,556 q9,1 6,11" fill="none" stroke="#000" stroke-width="0.7"/>
<path d="M964,486 q4,6 -2,13 q8,-2 10,-9" fill="none" stroke="#000" stroke-width="0.7"/>
<rect x="1070" y="554" width="12" height="7" fill="#fff"/><rect x="1072" y="555.5" width="5" height="2" fill="#000"/><rect x="1072" y="558.5" width="8" height="1" fill="#000"/>
<rect x="951" y="479" width="6" height="1.6" fill="#000"/><rect x="951" y="481.5" width="18" height="0.9" fill="#000"/>
<line x1="759.0" y1="401.5" x2="793.6" y2="519.0" stroke="#000" stroke-width="0.7" />
<line x1="759.0" y1="401.5" x2="803.0" y2="524.0" stroke="#000" stroke-width="0.7" />
<line x1="759.0" y1="401.5" x2="814.0" y2="533.0" stroke="#000" stroke-width="0.7" />
<line x1="759.0" y1="401.5" x2="795.0" y2="437.0" stroke="#000" stroke-width="0.7" />
<line x1="759.0" y1="401.5" x2="805.0" y2="440.0" stroke="#000" stroke-width="0.7" />
<line x1="710.0" y1="418.3" x2="836.5" y2="400.8" stroke="#000" stroke-width="0.8" stroke-dasharray="7 2 1.5 2"/>
<line x1="836.5" y1="397.0" x2="836.5" y2="405.0" stroke="#000" stroke-width="0.8" />
<line x1="710.0" y1="414.5" x2="710.0" y2="422.0" stroke="#000" stroke-width="0.8" />
<line x1="726.4" y1="508.8" x2="840.5" y2="489.6" stroke="#000" stroke-width="0.8" stroke-dasharray="7 2 1.5 2"/>
<line x1="840.5" y1="486.0" x2="840.5" y2="494.0" stroke="#000" stroke-width="0.8" />
<line x1="814.0" y1="536.0" x2="799.5" y2="601.0" stroke="#000" stroke-width="0.8" stroke-dasharray="7 2 1.5 2"/>
<line x1="912.0" y1="545.0" x2="897.0" y2="608.0" stroke="#000" stroke-width="0.8" stroke-dasharray="7 2 1.5 2"/>
<line x1="1126.0" y1="590.0" x2="1120.0" y2="608.0" stroke="#000" stroke-width="0.8" stroke-dasharray="7 2 1.5 2"/>
<polygon points="736.5,384 757,382 745,456 726,455 716,516 731,519.5 742,458 747,459 758.5,399 759.5,383" fill="none" stroke="#000" stroke-width="0.9"/>
<polygon points="737,385 757,383.5 745.5,455.5 729.5,454.5" fill="#fff" stroke="#000" stroke-width="0.8"/>
<line x1="735.0" y1="398.0" x2="754.3" y2="399.0" stroke="#000" stroke-width="0.7" />
<line x1="735.0" y1="412.0" x2="752.2" y2="413.0" stroke="#000" stroke-width="0.7" />
<line x1="735.0" y1="426.0" x2="750.1" y2="427.0" stroke="#000" stroke-width="0.7" />
<line x1="735.0" y1="440.0" x2="748.0" y2="441.0" stroke="#000" stroke-width="0.7" />
<rect x="741" y="394" width="8" height="5" fill="#222"/><circle cx="744" cy="420" r="2.5" fill="none" stroke="#000" stroke-width="0.8"/><rect x="733" y="405" width="3" height="14" fill="#222"/><rect x="738.5" y="465" width="3" height="30" fill="#222" transform="rotate(9 740 480)"/>
<polygon points="723,517 734,520 731,532 720,529" fill="#fff" stroke="#000" stroke-width="0.9"/>
<path d="M697,533 l12,3 M702,536 q6,8 0,14" fill="none" stroke="#000" stroke-width="0.8"/><rect x="698" y="523" width="6" height="6" fill="#fff" stroke="#000" stroke-width="0.6"/>
<line x1="686.0" y1="495.0" x2="683.0" y2="535.0" stroke="#000" stroke-width="0.8" />
<line x1="705.0" y1="533.0" x2="712.0" y2="536.0" stroke="#000" stroke-width="0.8" />
<polyline points="482.0,500.0 560.0,514.0 620.0,524.5 680.0,538.0 760.0,548.5 900.0,572.0 1000.0,594.0 1060.0,608.0" fill="none" stroke="#000" stroke-width="1.2" stroke-dasharray="3 1"/>
<polyline points="700.0,543.0 760.0,553.0 900.0,580.0 1020.0,608.0" fill="none" stroke="#000" stroke-width="0.8"/>
<polyline points="640.0,533.0 700.0,540.5 760.0,546.0 900.0,568.5 1000.0,589.5 1080.0,608.0" fill="none" stroke="#000" stroke-width="0.8"/>
<line x1="727.0" y1="505.0" x2="815.0" y2="521.0" stroke="#000" stroke-width="0.7" />
<line x1="716.0" y1="517.0" x2="800.0" y2="531.0" stroke="#000" stroke-width="0.7" />
<rect x="821" y="417" width="4" height="2.2" fill="none" stroke="#000" stroke-width="0.8"/><rect x="820" y="421" width="16" height="1" fill="#000"/><rect x="820" y="423.5" width="12" height="0.8" fill="#000"/>
<polyline points="83.0,394.5 90.2,392.6 100.1,390.0 111.8,386.8 124.6,383.5 137.6,380.1 150.0,377.0 162.5,374.1 175.9,371.2 189.5,368.3 202.6,365.4 214.6,362.5 224.8,359.7 232.7,356.9 238.7,354.1 243.6,351.3 248.1,348.5 252.7,345.7 258.3,343.0 264.3,340.4 270.2,337.9 276.2,335.5 283.0,332.9 290.7,330.2 300.0,327.0 312.0,323.1 326.8,318.6 342.6,313.8 357.8,309.2 370.9,305.3 380.0,302.5" fill="none" stroke="#000" stroke-width="0.8" />
<line x1="159.6" y1="415.0" x2="213.0" y2="426.5" stroke="#000" stroke-width="0.9" />
<line x1="159.6" y1="413.0" x2="213.0" y2="396.0" stroke="#000" stroke-width="0.9" />
<line x1="203.5" y1="376.0" x2="211.0" y2="395.5" stroke="#000" stroke-width="0.8" />
<line x1="206.0" y1="375.1" x2="213.5" y2="394.6" stroke="#000" stroke-width="0.8" />
<line x1="208.5" y1="374.1" x2="216.0" y2="393.6" stroke="#000" stroke-width="0.8" />
<line x1="210.9" y1="373.2" x2="218.4" y2="392.7" stroke="#000" stroke-width="0.8" />
<line x1="213.4" y1="372.2" x2="220.9" y2="391.8" stroke="#000" stroke-width="0.8" />
<line x1="215.9" y1="371.3" x2="223.4" y2="390.8" stroke="#000" stroke-width="0.8" />
<line x1="218.4" y1="370.4" x2="225.9" y2="389.9" stroke="#000" stroke-width="0.8" />
<line x1="220.9" y1="369.4" x2="228.4" y2="388.9" stroke="#000" stroke-width="0.8" />
<line x1="223.3" y1="368.5" x2="230.8" y2="388.0" stroke="#000" stroke-width="0.8" />
<line x1="225.8" y1="367.6" x2="233.3" y2="387.1" stroke="#000" stroke-width="0.8" />
<line x1="228.3" y1="366.6" x2="235.8" y2="386.1" stroke="#000" stroke-width="0.8" />
<line x1="230.8" y1="365.7" x2="238.3" y2="385.2" stroke="#000" stroke-width="0.8" />
<line x1="233.2" y1="364.8" x2="240.8" y2="384.2" stroke="#000" stroke-width="0.8" />
<line x1="235.7" y1="363.8" x2="243.2" y2="383.3" stroke="#000" stroke-width="0.8" />
<line x1="238.2" y1="362.9" x2="245.7" y2="382.4" stroke="#000" stroke-width="0.8" />
<line x1="240.7" y1="361.9" x2="248.2" y2="381.4" stroke="#000" stroke-width="0.8" />
<line x1="243.2" y1="361.0" x2="250.7" y2="380.5" stroke="#000" stroke-width="0.8" />
<line x1="245.6" y1="360.1" x2="253.1" y2="379.6" stroke="#000" stroke-width="0.8" />
<line x1="248.1" y1="359.1" x2="255.6" y2="378.6" stroke="#000" stroke-width="0.8" />
<line x1="250.6" y1="358.2" x2="258.1" y2="377.7" stroke="#000" stroke-width="0.8" />
<line x1="253.1" y1="357.2" x2="260.6" y2="376.8" stroke="#000" stroke-width="0.8" />
<line x1="255.6" y1="356.3" x2="263.1" y2="375.8" stroke="#000" stroke-width="0.8" />
<line x1="258.0" y1="355.4" x2="265.5" y2="374.9" stroke="#000" stroke-width="0.8" />
<line x1="260.5" y1="354.4" x2="268.0" y2="373.9" stroke="#000" stroke-width="0.8" />
<line x1="263.0" y1="353.5" x2="270.5" y2="373.0" stroke="#000" stroke-width="0.8" />
<polygon points="263.5,353.5 281,347 288,366.5 270.5,373" fill="#222"/>
<line x1="320.5" y1="332.5" x2="327.5" y2="351.5" stroke="#000" stroke-width="0.8" />
<line x1="322.9" y1="331.6" x2="329.9" y2="350.6" stroke="#000" stroke-width="0.8" />
<line x1="325.3" y1="330.7" x2="332.3" y2="349.7" stroke="#000" stroke-width="0.8" />
<line x1="327.7" y1="329.8" x2="334.7" y2="348.8" stroke="#000" stroke-width="0.8" />
<line x1="330.1" y1="328.9" x2="337.1" y2="347.9" stroke="#000" stroke-width="0.8" />
<line x1="332.5" y1="328.0" x2="339.5" y2="347.0" stroke="#000" stroke-width="0.8" />
<line x1="334.9" y1="327.1" x2="341.9" y2="346.1" stroke="#000" stroke-width="0.8" />
<line x1="337.3" y1="326.2" x2="344.3" y2="345.2" stroke="#000" stroke-width="0.8" />
<line x1="339.7" y1="325.3" x2="346.7" y2="344.3" stroke="#000" stroke-width="0.8" />
<line x1="342.1" y1="324.4" x2="349.1" y2="343.4" stroke="#000" stroke-width="0.8" />
<line x1="344.4" y1="323.6" x2="351.4" y2="342.6" stroke="#000" stroke-width="0.8" />
<line x1="346.8" y1="322.7" x2="353.8" y2="341.7" stroke="#000" stroke-width="0.8" />
<line x1="349.2" y1="321.8" x2="356.2" y2="340.8" stroke="#000" stroke-width="0.8" />
<line x1="351.6" y1="320.9" x2="358.6" y2="339.9" stroke="#000" stroke-width="0.8" />
<line x1="354.0" y1="320.0" x2="361.0" y2="339.0" stroke="#000" stroke-width="0.8" />
<line x1="356.4" y1="319.1" x2="363.4" y2="338.1" stroke="#000" stroke-width="0.8" />
<line x1="358.8" y1="318.2" x2="365.8" y2="337.2" stroke="#000" stroke-width="0.8" />
<line x1="361.2" y1="317.3" x2="368.2" y2="336.3" stroke="#000" stroke-width="0.8" />
<line x1="363.6" y1="316.4" x2="370.6" y2="335.4" stroke="#000" stroke-width="0.8" />
<line x1="366.0" y1="315.5" x2="373.0" y2="334.5" stroke="#000" stroke-width="0.8" />
<polygon points="366.5,315.3 380,310.5 386.5,329.5 373,334.5" fill="#222"/>
<polyline points="252.0,352.0 281.0,341.5 291.0,351.0 292.0,367.0 284.0,384.0" fill="none" stroke="#000" stroke-width="0.7" />
<line x1="259.0" y1="342.0" x2="305.0" y2="470.0" stroke="#000" stroke-width="0.8" stroke-dasharray="7 2 1.5 2"/>
<line x1="259.0" y1="342.0" x2="266.0" y2="339.5" stroke="#000" stroke-width="0.8" />
<polyline points="415.3,461.0 414.6,461.6 413.6,462.6 412.2,463.9 410.5,465.5 408.6,467.3 406.4,469.1 403.9,470.9 401.2,472.4 398.6,473.6 396.1,474.7 393.4,475.6 390.8,476.4 388.0,477.1 385.3,477.7 382.5,478.2 379.7,478.6 377.2,478.8 374.8,479.0 372.4,479.0 370.0,478.9 367.4,478.8 364.6,478.5 361.3,478.1 357.3,477.6 352.2,476.9 346.2,476.0 339.4,474.9 332.3,473.8 325.3,472.7 318.5,471.5 312.5,470.5 307.5,469.6 303.4,468.8 299.9,468.1 296.9,467.5 294.3,466.9 291.8,466.2 289.5,465.5 287.3,464.7 285.1,463.8 282.8,462.6 280.6,461.2 278.6,459.6 277.0,457.9 275.6,456.2 274.7,454.7 274.0,453.5 273.3,452.4 272.6,451.0 271.7,449.3 271.0,447.5 270.3,445.7 269.8,443.7 269.4,441.7 269.1,439.6 268.9,437.3 269.1,435.1 269.3,432.9 269.8,430.9 270.3,428.9 271.0,426.9 271.8,425.1 272.7,423.3 273.7,421.5 275.0,419.8 276.4,418.2 277.9,416.8 279.5,415.5 281.1,414.4 282.9,413.5 284.7,412.7 286.4,412.1 288.1,411.7 289.8,411.3 291.7,411.1 293.6,411.0 295.6,411.0 297.5,411.2 299.5,411.5 301.7,411.9 304.2,412.5 306.8,413.2 309.4,414.0 312.1,414.9 314.7,415.8 317.3,416.6 319.8,417.4 322.1,418.1 324.7,418.8 327.4,419.5 330.0,420.3 332.6,421.0 334.9,421.6 337.0,422.1 338.6,422.4 339.7,422.5 340.2,422.5 340.3,422.5 340.0,422.5 339.7,422.7 339.4,422.8 339.4,422.8 339.8,422.4 340.2,422.1 340.4,422.0 340.4,421.9 340.5,421.7 340.7,421.4 341.0,420.9 341.2,420.3 341.5,419.6 341.7,418.9 341.9,418.3 342.0,417.7 342.1,417.1 342.2,416.3 342.2,415.4 342.3,414.5 342.3,413.4 342.3,412.5 342.2,411.9 342.1,411.4 342.0,410.6 341.7,409.3 341.4,407.7 341.0,405.7 340.1,381.8 340.1,377.9 340.1,374.4 340.3,371.4 340.5,368.9 340.7,366.7 341.2,364.6 341.9,362.6 342.7,360.8 343.4,359.5 343.8,358.9 344.1,358.2 344.7,357.2 345.5,355.9 346.4,354.5 347.5,353.1 348.7,351.7 350.0,350.4 351.6,349.0 353.4,347.8 355.2,346.8 357.0,346.0 358.8,345.4 360.6,344.9 362.4,344.4 364.2,344.1 366.0,343.9 368.0,343.9 370.2,343.9 372.3,344.2 374.1,344.6 375.5,345.0 376.7,345.3 377.7,345.6 378.6,345.8 379.7,346.0 381.3,346.2 383.2,346.5 385.0,346.8 386.8,347.1 388.5,347.3 389.9,347.4 390.8,347.4 391.3,347.4 391.6,347.3 391.9,347.2 392.2,347.1 392.5,346.9 392.9,346.6 393.4,346.2 394.0,345.7 394.6,345.2 395.0,344.8 395.4,344.3 395.8,343.8 396.2,343.2 396.6,342.6 396.9,341.9 397.2,341.3 397.4,340.8 397.5,340.5 397.6,340.0 397.7,339.4 397.7,338.5 397.8,337.4 397.8,336.2 397.8,334.9 397.9,333.6 397.9,332.4 397.9,331.4 398.0,330.5 398.0,329.6 397.9,328.7 397.9,328.0 397.9,327.3 397.8,326.7 397.7,326.0 397.7,325.5 397.6,325.1 397.5,324.8 397.5,324.7 397.5,324.7 397.5,324.8 397.6,324.9 397.6,324.9 397.6,324.8 397.5,324.7 397.4,324.6 397.3,324.5 397.2,324.4 397.1,324.4 397.2,324.5 397.4,324.5 397.4,324.6 397.2,324.5 397.0,324.4 396.6,324.4 396.2,324.3 395.9,324.2 395.7,324.2 396.0,324.2 396.5,324.2 396.9,324.1 397.0,324.1 396.8,324.2 396.3,324.3 395.4,324.6 394.4,324.8 393.6,324.9 393.0,325.0 392.3,325.1 391.6,325.2 391.0,325.4 390.4,325.5 389.8,325.6 388.8,325.8 388.5,325.6 385.7,326.6 381.3,328.2 375.5,330.4 368.7,332.9 361.3,335.7 353.7,338.5 346.3,341.3 339.6,343.9 333.8,346.1 328.8,347.9 324.3,349.6 320.2,351.1 316.4,352.5 313.0,353.8 309.8,355.1 307.0,356.2 304.4,357.3 303.0,358.0 303.2,357.9 303.9,357.2 303.2,358.1 301.0,359.8 298.5,361.5 295.1,363.2 290.3,365.3 283.6,368.2 275.1,371.8 265.2,375.8 254.7,380.2 244.0,384.5 233.8,388.7 224.5,392.4 216.9,395.5 210.7,397.9 205.3,400.0 200.6,401.8 196.6,403.4 193.0,404.7 189.7,405.9 186.7,407.0 183.7,408.1 181.0,409.1 178.5,410.0 176.4,410.8 174.6,411.4 173.0,412.0 171.6,412.5 170.3,413.0 168.9,413.5 167.5,414.1 166.2,414.6 165.1,415.0 164.2,415.4 163.4,415.8 162.7,416.1 162.1,416.4 161.5,416.7 162.6,416.9 164.6,417.4 167.2,417.9 170.1,418.5 173.3,419.1 176.7,419.8 180.2,420.4 183.7,421.1 187.1,421.8 190.6,422.5 194.4,423.2 198.2,424.0 202.0,424.8 205.6,425.6 209.0,426.2 211.9,426.7 214.3,427.0 216.1,427.2 217.5,427.3 218.4,427.4 218.8,427.3 219.0,427.3 219.2,427.3 219.6,427.2 220.2,427.0 220.5,426.8 220.7,426.7 220.9,426.6 221.2,426.3 221.6,426.0 222.0,425.6 222.5,425.0 222.9,424.5 223.2,424.1 223.6,423.5 224.0,422.7 224.5,421.7 225.0,420.4 225.6,419.1 226.3,417.6 227.0,416.3 227.5,415.2 228.0,414.1 228.5,413.0 229.0,411.9 229.7,410.6 230.4,409.2 231.3,407.7 232.2,406.3 233.2,404.9 234.2,403.7 235.3,402.6 236.3,401.5 237.4,400.6 238.4,399.6 239.4,398.8 240.5,398.0 241.6,397.2 242.7,396.4 243.9,395.6 245.0,394.9 246.3,394.3 247.5,393.6 248.7,393.1 249.7,392.7 249.8,392.6 249.4,392.8 250.2,392.3 252.2,391.4 254.2,390.8 256.0,390.4 258.1,390.1 260.9,389.8 264.6,389.4 269.1,389.1 274.3,388.6 279.8,388.2 285.5,387.8 291.1,387.4 296.3,387.0 300.9,386.6 304.6,386.3 307.6,386.0 310.1,385.8 312.6,385.5 315.4,385.3 318.8,384.9 323.2,384.5 329.0,383.9 336.6,383.2 367.5,380.2 378.5,379.1 388.8,378.1 397.7,377.2 404.6,376.3 409.5,375.7 412.9,375.1 415.0,374.7 416.0,374.5 416.2,374.4 416.6,374.2 417.7,373.6 419.3,372.8 420.7,372.2 421.6,371.7 422.3,371.2 422.7,370.9 423.1,370.5 423.5,370.1 423.8,369.6 424.2,369.1 424.6,368.4 425.0,367.5 425.4,366.3 425.8,365.0 426.1,363.5 426.4,362.0 426.6,360.4 426.8,359.0 426.9,357.7 426.9,356.4 426.8,355.0 426.7,353.4 426.5,351.7 426.3,349.9 426.1,348.0 425.8,346.2 425.6,344.5 425.3,342.8 425.0,341.1 424.7,339.2 424.3,337.3 423.9,335.3 423.6,333.3 423.3,331.3 423.1,329.5 423.0,327.8 422.8,326.1 422.7,324.3 422.6,322.5 422.6,320.7 422.7,318.8 422.8,316.9 423.0,315.3 423.2,313.6 423.5,311.8 423.9,309.8 424.5,307.7 425.3,305.5 426.5,303.2 428.0,300.9 429.7,299.0 431.4,297.4 433.3,295.9 435.3,294.6 437.5,293.4 439.8,292.4 442.5,291.7 445.4,291.3 448.4,291.4 451.1,291.8 453.6,292.6 455.8,293.5 458.0,294.6 460.1,295.9 462.0,297.4 463.9,299.2 465.7,301.5 467.0,303.8 468.0,306.0 468.7,308.0 469.2,309.8 469.7,311.4 470.0,312.9 470.4,314.3 470.8,315.9 471.2,317.6 471.6,319.2 471.9,320.9 472.2,322.5 472.4,324.3 472.8,326.2 473.1,328.2 473.5,330.6 473.9,333.3 474.4,336.2 474.9,339.1 475.3,342.1 475.8,345.1 476.2,347.8 476.6,350.4 477.0,352.8 477.3,355.2 477.6,357.3 477.8,359.3 478.0,361.0 478.3,362.5 478.5,363.9 478.9,365.2 479.3,366.6 479.8,368.1 480.2,369.4 480.6,370.5 481.1,371.4 481.4,372.1 481.6,372.4 481.8,372.6 481.9,372.7 482.2,372.9 482.6,373.1 483.1,373.4 483.6,373.6 484.1,373.7 484.4,373.7 484.4,373.8 484.5,373.7 484.7,373.7 484.9,373.6 485.2,373.5 485.4,373.4 485.5,373.3 485.6,373.3 485.7,373.2 486.0,372.8 486.3,372.3 486.5,371.8 486.8,371.2 487.1,370.3 487.3,369.2 487.6,367.7 487.8,365.9 487.9,363.6 488.0,360.7 487.9,357.4 487.8,353.9 487.6,350.2 487.4,346.7 487.1,343.3 486.8,340.4 486.5,337.8 486.1,335.4 485.7,333.0 485.2,330.7 484.7,328.5 484.1,326.3 483.6,324.1 483.1,322.1 482.6,320.3 482.1,318.7 481.6,317.2 481.1,315.5 480.5,313.8 479.9,311.9 479.3,309.9 478.9,307.8 478.6,306.0 478.5,304.3 478.3,302.6 478.4,300.7 478.5,298.7 478.8,296.7 479.4,294.7 480.2,292.6 481.2,290.6 482.4,288.8 483.7,287.2 485.0,285.8 486.2,284.6 487.5,283.5 488.7,282.5 489.9,281.5 491.3,280.4 492.8,279.4 494.3,278.4 495.8,277.5 497.3,276.7 498.8,275.8 500.2,275.0 501.6,274.2 502.8,273.5 503.9,272.8 505.0,272.2 506.4,271.4 508.0,270.5 509.9,269.5 512.3,268.3 515.3,266.8 518.7,265.2 522.4,263.3 526.6,261.3 531.2,259.1 536.4,256.6 542.2,254.0 548.6,251.1 555.9,248.1 564.2,244.7 573.7,240.9 584.0,236.8 594.8,232.5 605.8,228.3 616.6,224.1 626.8,220.1 636.1,216.5 644.8,213.1 653.4,209.7 661.8,206.4 669.8,203.3 677.4,200.3 684.4,197.6 690.6,195.1 696.1,193.0 700.6,191.2 704.3,189.7 707.3,188.5 709.7,187.6 711.7,186.8 713.3,186.1 714.7,185.5 716.0,185.0" fill="none" stroke="#000" stroke-width="1.5" />
<polyline points="413.5,459.0 412.8,459.6 411.7,460.6 410.4,462.0 408.7,463.6 406.8,465.2 404.7,466.9 402.4,468.6 399.9,470.0 397.5,471.2 395.1,472.2 392.6,473.0 390.0,473.8 387.4,474.5 384.8,475.1 382.1,475.6 379.4,475.9 377.0,476.1 374.7,476.3 372.5,476.3 370.1,476.2 367.7,476.1 364.9,475.8 361.6,475.4 357.6,474.9 352.6,474.2 346.6,473.3 339.8,472.3 332.8,471.1 325.7,470.0 319.0,468.9 313.0,467.8 307.9,466.9 303.9,466.2 300.5,465.5 297.5,464.9 294.9,464.2 292.6,463.6 290.4,462.9 288.3,462.2 286.2,461.3 284.2,460.3 282.2,459.0 280.5,457.6 279.0,456.1 277.9,454.6 277.0,453.3 276.3,452.2 275.7,451.1 275.0,449.7 274.2,448.2 273.5,446.5 272.9,444.8 272.4,443.1 272.0,441.2 271.7,439.3 271.6,437.3 271.7,435.3 272.0,433.4 272.4,431.5 272.9,429.7 273.5,427.9 274.2,426.2 275.0,424.5 276.0,423.0 277.1,421.5 278.3,420.1 279.6,418.8 281.0,417.7 282.5,416.8 284.1,415.9 285.7,415.2 287.2,414.7 288.7,414.3 290.3,414.0 291.9,413.8 293.6,413.7 295.4,413.7 297.2,413.9 299.1,414.1 301.2,414.5 303.5,415.1 306.0,415.8 308.6,416.6 311.2,417.5 313.9,418.3 316.5,419.2 319.0,420.0 321.4,420.7 323.9,421.4 326.6,422.1 329.3,422.9 331.9,423.6 334.3,424.2 336.5,424.7 338.2,425.0 339.5,425.2 340.3,425.2 340.7,425.1 340.8,425.1 340.8,425.1 340.8,425.1 341.1,424.9 341.5,424.5 342.1,424.1 342.4,423.8 342.6,423.5 342.8,423.2 343.1,422.6 343.4,422.0 343.7,421.3 344.0,420.5 344.3,419.7 344.5,419.0 344.6,418.2 344.8,417.4 344.9,416.5 344.9,415.6 345.0,414.5 345.0,413.4 345.0,412.4 344.9,411.6 344.8,410.9 344.6,410.0 344.4,408.8 344.0,407.2 343.7,405.3 343.4,403.0 343.3,400.4 342.8,385.9 342.8,381.8 342.8,377.9 342.8,374.5 343.0,371.5 343.1,369.2 343.4,367.2 343.8,365.3 344.4,363.5 345.1,362.0 345.7,360.9 346.1,360.2 346.5,359.6 347.1,358.5 347.8,357.3 348.6,356.1 349.6,354.8 350.6,353.6 351.9,352.4 353.3,351.2 354.8,350.1 356.4,349.3 358.0,348.5 359.6,348.0 361.3,347.5 362.9,347.1 364.6,346.8 366.3,346.6 368.0,346.6 370.0,346.6 371.8,346.9 373.4,347.2 374.8,347.6 376.0,347.9 377.1,348.2 378.1,348.5 379.3,348.7 380.9,348.9 382.8,349.2 384.6,349.5 386.5,349.8 388.2,350.0 389.7,350.1 390.9,350.1 391.7,350.0 392.2,349.9 392.8,349.7 393.3,349.5 393.9,349.2 394.5,348.8 395.1,348.4 395.8,347.8 396.4,347.2 397.0,346.6 397.5,346.0 398.0,345.4 398.5,344.6 399.0,343.9 399.4,343.1 399.7,342.3 400.0,341.6 400.1,341.1 400.2,340.5 400.3,339.6 400.4,338.6 400.5,337.5 400.5,336.3 400.5,335.0 400.6,333.7 400.6,332.5 400.6,331.5 400.7,330.5 400.7,329.5 400.6,328.6 400.6,327.8 400.6,327.1 400.5,326.4 400.4,325.7 400.3,325.1 400.2,324.5 400.2,324.2 400.1,323.9 400.0,323.7 400.0,323.6 399.9,323.5 399.8,323.4 399.7,323.2 399.5,322.9 399.3,322.7 399.1,322.5 398.8,322.3 398.6,322.2 398.5,322.1 398.5,322.1 398.3,322.0 398.0,321.9 397.6,321.8 397.1,321.7 396.7,321.6 396.2,321.6 395.9,321.5 396.0,321.5 396.2,321.5 396.4,321.5 396.4,321.5 396.1,321.6 395.6,321.7 394.8,321.9 393.9,322.1 393.2,322.2 392.5,322.4 391.8,322.5 391.2,322.6 390.5,322.7 389.9,322.8 389.3,322.9 388.3,323.1 387.6,323.1 384.8,324.1 380.4,325.7 374.6,327.8 367.8,330.4 360.4,333.1 352.8,336.0 345.4,338.8 338.6,341.4 332.8,343.5 327.9,345.4 323.4,347.1 319.2,348.6 315.4,350.0 312.0,351.3 308.8,352.5 305.9,353.7 303.3,354.8 301.7,355.6 301.6,355.7 302.0,355.4 301.3,356.1 299.5,357.6 297.2,359.1 293.9,360.7 289.2,362.9 282.5,365.7 274.0,369.3 264.2,373.4 253.7,377.7 243.0,382.0 232.8,386.2 223.5,389.9 215.9,393.0 209.7,395.4 204.3,397.5 199.7,399.3 195.6,400.8 192.0,402.2 188.8,403.3 185.8,404.4 182.8,405.5 180.0,406.6 177.6,407.5 175.5,408.2 173.7,408.9 172.1,409.4 170.7,410.0 169.3,410.5 167.9,411.0 166.5,411.6 165.2,412.1 164.1,412.5 163.1,412.9 162.2,413.3 161.5,413.7 160.8,414.0 160.1,414.4 159.4,414.9 158.7,415.3 158.1,415.8 157.6,416.1 157.2,416.5 156.9,416.7 156.7,416.9 156.7,416.9 156.8,416.9 156.8,416.9 156.7,416.9 156.7,416.9 156.7,417.0 156.7,417.1 156.7,417.1 156.7,417.1 156.8,417.2 156.8,417.3 156.8,417.4 156.9,417.5 156.9,417.6 156.9,417.6 157.0,417.7 157.1,417.8 157.5,418.0 157.7,418.2 157.7,418.2 157.8,418.3 158.2,418.4 159.0,418.7 160.3,419.0 161.9,419.5 164.1,420.0 166.6,420.5 169.6,421.1 172.8,421.8 176.2,422.4 179.7,423.1 183.1,423.7 186.6,424.4 190.1,425.1 193.8,425.9 197.6,426.7 201.4,427.5 205.1,428.2 208.5,428.8 211.5,429.4 213.9,429.7 215.9,429.9 217.4,430.0 218.4,430.1 219.1,430.0 219.5,430.0 219.8,429.9 220.4,429.7 221.1,429.5 221.7,429.3 222.1,429.0 222.5,428.8 223.0,428.4 223.5,428.0 224.0,427.4 224.6,426.8 225.1,426.1 225.5,425.6 225.9,424.8 226.4,423.9 226.9,422.8 227.5,421.5 228.1,420.2 228.7,418.8 229.4,417.4 229.9,416.3 230.4,415.3 230.9,414.2 231.5,413.0 232.1,411.8 232.8,410.5 233.6,409.2 234.4,407.8 235.4,406.6 236.3,405.5 237.2,404.4 238.2,403.5 239.2,402.5 240.2,401.7 241.1,400.9 242.1,400.1 243.1,399.3 244.2,398.6 245.3,397.9 246.4,397.3 247.5,396.6 248.7,396.1 249.8,395.5 250.8,395.1 251.0,395.0 250.9,395.1 251.5,394.7 253.2,393.9 254.8,393.4 256.5,393.1 258.5,392.8 261.2,392.5 264.8,392.1 269.3,391.7 274.5,391.3 280.0,390.9 285.7,390.5 291.3,390.1 296.5,389.7 301.1,389.3 304.8,389.0 307.8,388.7 310.4,388.5 312.9,388.2 315.6,387.9 319.1,387.6 323.5,387.2 329.2,386.6 336.8,385.9 367.8,382.9 378.8,381.8 389.0,380.8 398.0,379.8 404.9,379.0 409.8,378.3 413.3,377.8 415.6,377.4 416.8,377.1 417.3,376.9 417.8,376.6 418.9,376.0 420.5,375.3 421.9,374.6 423.0,374.0 423.8,373.5 424.5,373.0 425.0,372.4 425.5,371.9 426.1,371.2 426.6,370.4 427.0,369.5 427.5,368.5 427.9,367.1 428.4,365.7 428.7,364.1 429.0,362.5 429.3,360.8 429.5,359.3 429.6,357.8 429.6,356.4 429.5,354.8 429.4,353.2 429.2,351.4 429.0,349.6 428.7,347.7 428.5,345.8 428.3,344.1 428.0,342.4 427.7,340.6 427.3,338.7 426.9,336.8 426.6,334.9 426.3,332.9 426.0,331.0 425.8,329.2 425.6,327.6 425.5,325.9 425.4,324.2 425.3,322.5 425.3,320.7 425.3,318.9 425.5,317.2 425.7,315.6 425.9,314.0 426.2,312.3 426.6,310.4 427.1,308.5 427.8,306.6 428.8,304.5 430.1,302.6 431.6,300.9 433.2,299.4 434.9,298.1 436.7,296.9 438.6,295.9 440.7,295.0 443.0,294.3 445.6,294.0 448.1,294.0 450.5,294.5 452.7,295.1 454.7,295.9 456.7,296.9 458.5,298.1 460.3,299.5 461.9,301.1 463.5,303.0 464.6,305.0 465.5,306.9 466.1,308.8 466.6,310.5 467.0,312.1 467.4,313.5 467.8,315.0 468.2,316.5 468.6,318.1 468.9,319.7 469.2,321.4 469.5,323.0 469.8,324.7 470.1,326.6 470.4,328.7 470.8,331.0 471.3,333.7 471.7,336.6 472.2,339.6 472.7,342.6 473.1,345.5 473.6,348.2 474.0,350.8 474.3,353.2 474.6,355.5 474.9,357.6 475.1,359.6 475.3,361.4 475.6,363.0 475.9,364.4 476.3,365.9 476.7,367.4 477.2,368.9 477.7,370.3 478.2,371.6 478.6,372.6 479.1,373.5 479.5,374.0 479.8,374.4 480.2,374.8 480.7,375.1 481.4,375.5 482.1,375.9 482.8,376.1 483.5,376.3 484.1,376.4 484.4,376.5 484.8,376.4 485.2,376.3 485.8,376.2 486.3,376.0 486.7,375.8 487.1,375.5 487.5,375.2 487.8,374.9 488.2,374.3 488.6,373.6 489.0,372.9 489.3,372.1 489.7,371.1 490.0,369.7 490.3,368.1 490.5,366.1 490.6,363.7 490.7,360.7 490.6,357.4 490.5,353.8 490.3,350.1 490.1,346.5 489.8,343.1 489.5,340.1 489.2,337.4 488.8,334.9 488.3,332.5 487.8,330.2 487.3,327.9 486.8,325.6 486.2,323.5 485.7,321.4 485.2,319.6 484.7,317.9 484.2,316.3 483.6,314.6 483.0,312.9 482.5,311.2 482.0,309.3 481.6,307.4 481.3,305.7 481.1,304.1 481.0,302.5 481.0,300.8 481.2,299.1 481.5,297.3 482.0,295.5 482.6,293.7 483.5,292.0 484.6,290.4 485.7,288.9 486.9,287.7 488.1,286.6 489.2,285.5 490.4,284.6 491.6,283.6 492.9,282.6 494.3,281.7 495.8,280.7 497.2,279.8 498.7,279.0 500.1,278.2 501.6,277.3 503.0,276.5 504.2,275.8 505.3,275.2 506.4,274.5 507.7,273.7 509.2,272.9 511.1,271.9 513.5,270.7 516.5,269.3 519.9,267.6 523.6,265.8 527.7,263.7 532.4,261.5 537.5,259.1 543.3,256.5 549.7,253.6 556.9,250.6 565.2,247.2 574.7,243.4 585.0,239.3 595.8,235.1 606.8,230.8 617.6,226.6 627.8,222.6 637.1,219.0 645.8,215.6 654.4,212.2 662.8,208.9 670.8,205.8 678.4,202.8 685.3,200.1 691.6,197.6 697.1,195.5 701.6,193.7 705.3,192.2 708.3,191.0 710.7,190.1 712.7,189.3 714.3,188.6 715.7,188.0 717.0,187.5" fill="none" stroke="#000" stroke-width="1.125" />
<polyline points="400.9,445.0 399.8,446.0 398.6,447.2 397.3,448.5 396.0,449.7 394.6,450.9 393.3,452.0 392.2,452.8 391.2,453.4 390.0,454.0 388.4,454.6 386.7,455.2 384.9,455.7 383.1,456.2 381.1,456.6 379.2,457.0 377.3,457.2 375.5,457.4 373.9,457.5 372.6,457.5 371.2,457.5 369.3,457.3 367.0,457.1 363.9,456.7 360.1,456.2 355.3,455.6 349.4,454.7 342.7,453.7 335.8,452.6 328.8,451.4 322.1,450.3 316.2,449.3 311.3,448.4 307.5,447.7 304.2,447.1 301.6,446.5 299.4,446.0 297.8,445.6 296.4,445.1 295.2,444.7 294.1,444.2 293.3,443.9 293.1,443.7 293.2,443.8 293.2,443.8 293.2,443.8 293.0,443.4 292.6,442.7 292.1,441.8 291.6,441.1 291.3,440.4 291.1,439.8 290.8,439.1 290.6,438.5 290.5,438.0 290.5,437.5 290.4,437.3 290.5,437.0 290.5,436.5 290.7,435.9 290.9,435.2 291.1,434.6 291.3,434.0 291.5,433.6 291.7,433.3 291.7,433.3 291.8,433.2 291.9,433.1 292.0,433.0 292.1,432.9 292.3,432.9 292.4,432.8 292.8,432.7 293.2,432.6 293.5,432.5 293.7,432.5 293.9,432.5 294.3,432.5 295.0,432.5 296.0,432.7 297.3,432.9 298.8,433.3 300.7,433.8 302.9,434.5 305.4,435.3 308.0,436.2 310.8,437.1 313.6,438.0 316.3,438.7 318.8,439.5 321.5,440.2 324.2,441.0 327.0,441.8 329.9,442.5 332.7,443.1 335.5,443.6 338.3,443.9 341.1,444.0 343.7,443.7 346.4,443.1 348.8,442.1 350.8,441.0 352.4,439.9 353.6,438.9 354.8,437.9 356.2,436.5 357.6,434.8 358.7,433.2 359.7,431.5 360.5,429.8 361.2,428.2 361.8,426.7 362.3,425.1 362.8,423.4 363.1,421.6 363.4,419.9 363.6,418.2 363.7,416.5 363.8,414.9 363.8,413.3 363.7,411.5 363.6,409.6 363.3,407.7 363.0,406.1 362.8,404.9 362.5,403.8 362.3,402.7 362.2,401.3 361.6,381.7 361.6,378.1 361.6,375.0 361.7,372.6 361.9,371.1 362.0,370.2 362.0,370.0 361.9,370.3 361.8,370.6 361.8,370.5 362.3,369.8 362.9,368.8 363.3,368.0 363.6,367.4 363.9,367.0 364.2,366.6 364.4,366.4 364.6,366.2 364.6,366.2 364.6,366.2 364.7,366.1 365.0,366.0 365.4,365.8 366.0,365.7 366.5,365.5 367.2,365.4 367.8,365.4 368.2,365.3 368.3,365.4 368.5,365.4 369.0,365.5 369.8,365.7 371.1,366.1 372.6,366.5 374.4,366.9 376.3,367.2 378.0,367.5 379.8,367.8 381.8,368.1 384.1,368.4 386.4,368.7 388.9,368.9 391.5,368.9 394.3,368.6 396.9,368.1 399.3,367.4 401.5,366.5 403.4,365.4 405.2,364.3 406.8,363.1 408.1,362.0 409.4,360.8 410.8,359.4 412.1,357.9 413.3,356.3 414.4,354.7 415.4,353.0 416.3,351.3 417.1,349.5 417.8,347.6 418.4,345.5 418.8,343.4 419.1,341.4 419.2,339.7 419.3,338.1 419.3,336.7 419.3,335.5 419.3,334.4 419.4,333.2 419.4,332.0 419.5,330.7 419.5,329.4 419.4,328.1 419.4,326.9 419.3,325.6 419.2,324.3 419.0,323.2 418.9,322.1 418.7,320.9 418.4,319.7 418.0,318.4 417.6,317.0 417.0,315.5 416.2,314.1 415.4,312.8 414.5,311.6 413.6,310.5 412.6,309.4 411.5,308.4 410.4,307.5 409.2,306.6 407.8,305.7 406.3,305.0 404.7,304.3 403.3,303.9 402.0,303.5 400.7,303.3 399.6,303.1 398.5,302.9 397.3,302.8 395.8,302.7 394.3,302.8 392.9,303.0 391.8,303.3 391.1,303.5 390.7,303.6 390.5,303.6 390.4,303.6 389.9,303.7 389.3,303.8 388.6,304.0 387.9,304.1 387.1,304.2 384.9,304.2 383.2,304.7 381.3,305.3 378.3,306.4 373.9,308.0 368.0,310.2 361.2,312.8 353.8,315.5 346.2,318.4 338.8,321.2 332.0,323.8 326.2,325.9 321.3,327.8 316.8,329.4 312.7,331.0 308.9,332.4 305.3,333.8 301.9,335.1 298.7,336.4 295.6,337.7 292.8,339.0 290.4,340.6 288.4,342.4 288.2,342.6 288.7,342.2 288.1,342.6 285.8,343.8 281.7,345.7 275.2,348.4 266.8,351.9 257.1,356.0 246.6,360.3 235.9,364.6 225.7,368.8 216.5,372.5 208.9,375.5 202.8,377.9 197.6,380.0 193.0,381.7 189.1,383.2 185.6,384.5 182.3,385.7 179.3,386.8 176.3,387.9 173.5,388.9 171.2,389.8 169.2,390.5 167.4,391.2 165.8,391.7 164.2,392.3 162.6,392.9 161.1,393.5 159.6,394.1 158.3,394.6 157.0,395.1 155.7,395.7 154.4,396.2 153.1,396.8 151.8,397.5 150.5,398.3 149.3,399.0 148.2,399.8 147.0,400.6 145.8,401.5 144.6,402.5 143.4,403.7 142.2,405.0 141.0,406.6 140.0,408.3 139.3,410.0 138.7,411.8 138.3,413.5 138.0,415.2 137.9,416.9 138.0,418.6 138.2,420.3 138.5,421.9 139.0,423.5 139.6,425.1 140.4,426.6 141.4,428.2 142.5,429.7 143.8,431.1 145.2,432.3 146.2,433.1 147.4,433.9 148.8,434.8 150.4,435.5 152.0,436.2 153.6,436.7 155.4,437.2 157.4,437.7 159.9,438.3 162.8,438.9 165.9,439.6 169.2,440.2 172.7,440.9 176.1,441.5 179.6,442.2 182.9,442.8 186.3,443.5 190.0,444.3 193.8,445.1 197.7,445.9 201.5,446.7 205.1,447.3 208.5,447.9 211.5,448.4 214.1,448.6 216.4,448.8 218.5,448.9 220.6,448.8 222.7,448.5 224.6,448.1 226.2,447.6 227.8,447.0 229.7,446.2 231.7,445.2 233.4,444.1 235.0,442.8 236.4,441.5 237.7,440.2 238.9,438.9 240.1,437.5 241.3,435.8 242.4,434.0 243.3,432.3 244.0,430.7 244.7,429.2 245.2,427.9 245.7,426.8 246.2,425.7 246.8,424.5 247.4,423.3 248.0,422.1 248.4,421.1 248.8,420.3 249.2,419.6 249.5,419.1 249.8,418.7 250.1,418.3 250.5,417.8 250.9,417.4 251.4,416.9 251.9,416.4 252.4,416.0 253.0,415.5 253.5,415.0 254.1,414.6 254.6,414.3 255.2,413.9 255.7,413.6 256.3,413.3 256.8,413.0 257.4,412.7 258.3,412.3 259.7,411.7 259.7,411.5 259.0,411.7 259.4,411.7 260.8,411.5 263.1,411.2 266.5,410.9 270.9,410.5 275.9,410.1 281.4,409.7 287.1,409.2 292.7,408.8 298.0,408.4 302.7,408.0 306.5,407.7 309.5,407.4 312.1,407.2 314.7,406.9 317.5,406.6 320.9,406.3 325.3,405.9 331.0,405.3 338.6,404.6 369.6,401.6 380.6,400.5 391.0,399.5 400.0,398.5 407.2,397.7 412.5,397.0 416.5,396.3 419.6,395.7 422.2,395.1 424.5,394.2 426.3,393.4 427.4,392.8 428.7,392.2 430.6,391.3 432.6,390.1 434.6,388.8 436.5,387.4 438.3,385.7 440.0,383.9 441.4,382.0 442.8,379.9 444.0,377.6 445.0,375.2 445.9,372.8 446.6,370.4 447.1,368.0 447.6,365.7 447.9,363.3 448.2,361.0 448.4,358.5 448.4,356.0 448.3,353.7 448.1,351.4 447.9,349.3 447.6,347.3 447.4,345.4 447.2,343.4 446.9,341.3 446.5,339.2 446.1,337.1 445.8,335.2 445.4,333.3 445.1,331.6 444.9,330.1 444.7,328.7 444.5,327.2 444.4,325.7 444.2,324.4 444.1,323.1 444.1,322.0 444.1,321.0 444.1,320.0 444.2,319.1 444.3,317.9 444.5,316.7 444.7,315.7 444.8,314.9 445.0,314.3 445.1,314.0 445.1,313.9 445.0,314.1 445.1,314.0 445.4,313.7 445.8,313.4 446.3,313.0 446.8,312.8 446.6,312.7 446.4,312.8 446.8,313.0 447.3,313.3 447.8,313.5 448.1,313.8 448.1,313.8 447.9,313.5 447.9,313.5 448.0,313.8 448.2,314.5 448.5,315.5 448.8,316.7 449.2,318.2 449.6,319.7 449.9,321.0 450.2,322.2 450.5,323.4 450.7,324.7 451.0,326.2 451.2,327.8 451.5,329.7 451.9,331.8 452.3,334.1 452.7,336.7 453.2,339.5 453.6,342.5 454.1,345.5 454.6,348.4 455.0,351.1 455.4,353.6 455.7,355.8 456.0,357.9 456.2,359.9 456.5,362.0 456.8,364.1 457.1,366.3 457.6,368.6 458.1,370.8 458.7,372.9 459.3,374.8 460.0,376.9 460.9,378.9 461.8,381.0 463.0,383.2 464.5,385.3 466.2,387.4 468.3,389.3 470.4,390.8 472.5,392.1 474.8,393.2 477.0,394.0 479.4,394.7 481.8,395.1 484.4,395.2 486.9,395.1 489.3,394.7 491.7,394.1 494.0,393.2 496.2,392.0 498.4,390.5 500.5,388.8 502.3,386.8 503.7,384.9 504.9,383.0 506.1,380.8 507.0,378.5 507.8,376.0 508.4,373.4 508.9,370.7 509.2,367.7 509.4,364.4 509.5,360.7 509.4,356.9 509.3,353.0 509.1,349.0 508.8,345.1 508.5,341.4 508.2,338.0 507.8,334.8 507.3,331.7 506.8,328.8 506.2,326.1 505.6,323.5 505.0,321.1 504.5,318.9 503.9,316.7 503.3,314.5 502.6,312.2 502.0,310.3 501.4,308.5 500.9,307.1 500.5,305.8 500.2,304.9 500.1,304.2 500.0,303.3 499.9,302.5 499.8,301.9 499.8,301.5 499.8,301.3 499.9,301.3 499.8,301.3 499.8,301.4 499.8,301.4 499.8,301.4 500.0,301.2 500.3,300.9 500.8,300.4 501.4,299.8 502.2,299.2 503.1,298.5 503.9,297.9 504.7,297.3 505.7,296.7 506.9,296.0 508.1,295.3 509.4,294.5 510.9,293.7 512.4,292.8 513.8,292.0 515.0,291.3 516.0,290.7 516.9,290.1 518.1,289.5 519.7,288.6 521.8,287.6 524.7,286.2 528.2,284.5 531.9,282.6 536.0,280.6 540.4,278.5 545.4,276.2 550.9,273.6 557.2,270.9 564.1,267.9 572.3,264.6 581.6,260.8 591.9,256.8 602.7,252.6 613.6,248.3 624.4,244.1 634.6,240.2 643.9,236.5 652.7,233.1 661.3,229.7 669.6,226.4 677.7,223.3 685.2,220.3 692.2,217.6 698.5,215.1 703.9,213.0 708.5,211.2 712.3,209.7 715.3,208.5 717.8,207.5 719.8,206.7 721.4,206.0 722.8,205.5 724.0,205.0" fill="none" stroke="#000" stroke-width="1.5" />
<polyline points="402.7,447.0 401.7,447.9 400.5,449.1 399.2,450.4 397.8,451.7 396.4,453.0 395.0,454.1 393.7,455.1 392.5,455.8 391.1,456.4 389.4,457.1 387.6,457.8 385.7,458.3 383.7,458.8 381.7,459.3 379.6,459.6 377.6,459.9 375.7,460.1 374.1,460.2 372.6,460.2 371.0,460.2 369.1,460.0 366.7,459.8 363.6,459.4 359.8,458.9 354.9,458.3 349.0,457.4 342.3,456.4 335.3,455.3 328.3,454.1 321.7,453.0 315.8,452.0 310.9,451.1 306.9,450.3 303.7,449.7 301.0,449.1 298.8,448.6 297.0,448.2 295.5,447.7 294.2,447.2 293.0,446.7 292.0,446.2 291.6,445.9 291.3,445.7 291.2,445.6 291.0,445.3 290.7,444.9 290.2,444.1 289.7,443.1 289.2,442.3 288.9,441.5 288.5,440.7 288.2,439.9 288.0,439.1 287.9,438.4 287.8,437.8 287.8,437.3 287.8,436.8 287.9,436.1 288.0,435.3 288.3,434.4 288.6,433.6 288.9,432.9 289.2,432.3 289.4,431.8 289.6,431.6 289.9,431.3 290.1,431.1 290.4,430.8 290.7,430.6 291.1,430.4 291.5,430.3 292.0,430.1 292.5,429.9 293.0,429.8 293.4,429.8 293.9,429.8 294.5,429.8 295.3,429.9 296.4,430.0 297.8,430.3 299.5,430.7 301.4,431.2 303.7,431.9 306.2,432.7 308.9,433.6 311.6,434.5 314.3,435.4 317.0,436.1 319.6,436.9 322.2,437.6 325.0,438.4 327.7,439.2 330.5,439.9 333.2,440.5 335.9,441.0 338.5,441.2 341.0,441.3 343.3,441.0 345.6,440.5 347.6,439.7 349.4,438.7 350.8,437.7 351.9,436.9 352.9,435.9 354.2,434.7 355.4,433.2 356.5,431.7 357.3,430.2 358.1,428.7 358.7,427.2 359.2,425.8 359.7,424.3 360.1,422.8 360.5,421.2 360.7,419.6 360.9,418.0 361.0,416.4 361.1,414.8 361.1,413.3 361.0,411.6 360.9,409.8 360.7,408.1 360.4,406.7 360.1,405.5 359.9,404.3 359.7,403.1 359.5,401.5 359.3,399.6 358.9,381.7 358.9,378.1 358.9,374.9 359.0,372.5 359.2,370.8 359.3,369.8 359.4,369.3 359.4,369.3 359.4,369.4 359.5,369.1 360.0,368.4 360.5,367.4 361.0,366.6 361.4,366.0 361.7,365.4 362.1,364.9 362.4,364.5 362.7,364.2 363.0,364.0 363.2,363.9 363.5,363.7 364.0,363.5 364.6,363.3 365.3,363.1 366.0,362.9 366.8,362.8 367.5,362.7 368.2,362.6 368.6,362.7 369.0,362.7 369.6,362.9 370.6,363.1 371.8,363.5 373.2,363.9 375.0,364.2 376.7,364.5 378.4,364.8 380.2,365.1 382.2,365.4 384.4,365.7 386.7,366.0 389.0,366.2 391.5,366.2 393.9,366.0 396.2,365.5 398.4,364.8 400.3,364.0 402.1,363.1 403.7,362.0 405.1,361.0 406.3,359.9 407.6,358.8 408.8,357.6 410.0,356.2 411.1,354.7 412.1,353.2 413.0,351.7 413.9,350.1 414.6,348.5 415.2,346.8 415.8,344.9 416.2,343.0 416.4,341.2 416.5,339.5 416.6,338.0 416.6,336.6 416.6,335.4 416.6,334.3 416.7,333.1 416.7,331.9 416.8,330.7 416.8,329.4 416.7,328.2 416.7,327.0 416.6,325.8 416.5,324.6 416.4,323.6 416.2,322.5 416.0,321.4 415.8,320.3 415.5,319.1 415.0,317.9 414.5,316.7 413.9,315.5 413.2,314.3 412.4,313.3 411.6,312.3 410.7,311.3 409.7,310.4 408.7,309.6 407.7,308.8 406.5,308.1 405.1,307.4 403.8,306.9 402.6,306.5 401.4,306.2 400.2,305.9 399.2,305.7 398.2,305.6 397.1,305.5 395.9,305.4 394.5,305.5 393.4,305.7 392.5,305.9 391.8,306.1 391.4,306.2 391.1,306.2 390.9,306.3 390.4,306.4 389.8,306.5 389.1,306.6 388.3,306.7 387.6,306.9 385.5,306.8 384.0,307.2 382.2,307.9 379.2,308.9 374.8,310.6 369.0,312.7 362.2,315.3 354.7,318.1 347.1,320.9 339.7,323.7 332.9,326.3 327.2,328.5 322.3,330.3 317.8,332.0 313.6,333.5 309.8,334.9 306.2,336.3 302.9,337.6 299.7,338.9 296.7,340.2 294.1,341.4 292.0,342.8 290.4,344.2 290.1,344.5 290.3,344.5 289.4,345.0 287.0,346.2 282.8,348.1 276.3,350.9 267.8,354.4 258.1,358.5 247.6,362.8 236.9,367.1 226.7,371.3 217.5,375.0 209.9,378.0 203.8,380.5 198.5,382.5 194.0,384.2 190.0,385.7 186.5,387.0 183.3,388.2 180.2,389.3 177.2,390.5 174.4,391.5 172.1,392.3 170.1,393.1 168.3,393.7 166.7,394.3 165.1,394.8 163.6,395.4 162.1,396.0 160.6,396.6 159.3,397.1 158.0,397.6 156.8,398.1 155.5,398.7 154.3,399.3 153.1,399.9 151.9,400.6 150.8,401.3 149.7,402.0 148.6,402.8 147.5,403.6 146.4,404.5 145.3,405.6 144.3,406.7 143.3,408.1 142.4,409.5 141.8,411.0 141.3,412.5 140.9,414.0 140.7,415.5 140.6,417.0 140.7,418.4 140.9,419.9 141.2,421.2 141.6,422.6 142.1,424.0 142.8,425.3 143.6,426.7 144.6,427.9 145.7,429.2 146.9,430.2 147.9,431.0 148.9,431.7 150.1,432.4 151.4,433.1 152.9,433.6 154.4,434.1 156.1,434.6 158.1,435.1 160.5,435.7 163.3,436.3 166.4,436.9 169.7,437.6 173.2,438.2 176.6,438.9 180.1,439.5 183.4,440.2 186.9,440.9 190.5,441.6 194.3,442.4 198.2,443.2 202.0,444.0 205.6,444.7 208.9,445.3 211.9,445.7 214.4,446.0 216.5,446.1 218.5,446.2 220.4,446.1 222.2,445.9 223.9,445.5 225.4,445.0 226.9,444.5 228.6,443.8 230.3,442.9 231.9,441.9 233.3,440.8 234.6,439.6 235.8,438.4 236.8,437.2 237.9,435.9 239.0,434.3 240.0,432.7 240.8,431.1 241.6,429.5 242.2,428.1 242.8,426.8 243.3,425.6 243.8,424.6 244.4,423.4 245.0,422.1 245.5,421.0 246.0,420.0 246.4,419.1 246.8,418.3 247.2,417.7 247.6,417.2 248.0,416.6 248.4,416.1 248.9,415.5 249.5,415.0 250.0,414.4 250.6,413.9 251.3,413.4 251.9,412.9 252.5,412.4 253.1,412.0 253.7,411.6 254.4,411.2 255.0,410.9 255.7,410.6 256.3,410.3 257.2,409.9 258.4,409.3 259.5,408.7 259.5,408.6 258.7,409.0 258.4,409.1 259.0,409.0 260.5,408.8 262.8,408.5 266.3,408.2 270.6,407.8 275.7,407.4 281.2,407.0 286.9,406.5 292.5,406.1 297.8,405.7 302.5,405.3 306.3,405.0 309.3,404.7 311.9,404.5 314.4,404.2 317.2,404.0 320.7,403.6 325.1,403.2 330.8,402.6 338.4,401.9 369.4,398.9 380.4,397.8 390.7,396.8 399.7,395.8 406.9,395.0 412.1,394.3 416.0,393.7 419.0,393.1 421.4,392.5 423.5,391.7 425.1,391.0 426.2,390.4 427.5,389.7 429.3,388.9 431.2,387.8 433.1,386.6 434.8,385.3 436.4,383.8 437.9,382.2 439.2,380.5 440.4,378.6 441.6,376.5 442.5,374.2 443.3,372.0 443.9,369.7 444.5,367.4 444.9,365.2 445.3,363.0 445.5,360.7 445.7,358.4 445.7,356.1 445.6,353.8 445.4,351.7 445.2,349.6 445.0,347.6 444.7,345.7 444.5,343.8 444.2,341.7 443.9,339.6 443.5,337.6 443.1,335.7 442.8,333.8 442.4,332.1 442.2,330.5 442.0,329.0 441.8,327.5 441.7,326.0 441.5,324.6 441.4,323.3 441.4,322.1 441.4,320.9 441.4,319.9 441.5,318.8 441.7,317.6 441.8,316.3 442.0,315.2 442.2,314.2 442.4,313.5 442.6,312.9 442.8,312.6 442.9,312.4 443.1,312.1 443.6,311.7 444.3,311.2 444.9,310.7 445.6,310.4 446.1,310.1 446.4,310.0 446.4,310.0 446.4,310.0 446.7,310.1 447.3,310.3 448.0,310.6 448.7,310.9 449.3,311.3 449.8,311.7 450.1,311.9 450.1,312.0 450.3,312.3 450.5,312.8 450.8,313.7 451.1,314.7 451.4,316.0 451.8,317.5 452.2,319.0 452.6,320.4 452.8,321.6 453.1,322.9 453.4,324.2 453.6,325.7 453.9,327.4 454.2,329.3 454.6,331.3 455.0,333.7 455.4,336.3 455.8,339.1 456.3,342.1 456.8,345.0 457.2,348.0 457.7,350.7 458.0,353.2 458.4,355.4 458.6,357.5 458.9,359.6 459.1,361.7 459.4,363.7 459.8,365.9 460.2,368.0 460.7,370.1 461.3,372.1 461.9,374.0 462.6,375.9 463.3,377.9 464.2,379.8 465.3,381.8 466.6,383.7 468.2,385.6 470.0,387.2 471.8,388.6 473.8,389.7 475.8,390.7 477.9,391.5 480.0,392.0 482.2,392.4 484.4,392.5 486.6,392.4 488.7,392.1 490.8,391.5 492.9,390.7 494.9,389.7 496.8,388.4 498.6,386.8 500.2,385.1 501.5,383.4 502.6,381.7 503.6,379.7 504.5,377.6 505.2,375.3 505.8,372.9 506.2,370.3 506.5,367.5 506.7,364.3 506.8,360.7 506.7,357.0 506.6,353.1 506.4,349.1 506.1,345.3 505.8,341.7 505.5,338.3 505.1,335.2 504.6,332.2 504.1,329.4 503.5,326.7 503.0,324.2 502.4,321.8 501.8,319.6 501.3,317.4 500.7,315.2 500.1,313.1 499.4,311.1 498.8,309.4 498.3,307.9 497.9,306.6 497.6,305.6 497.4,304.6 497.3,303.6 497.2,302.7 497.1,302.0 497.1,301.4 497.2,301.0 497.2,300.7 497.3,300.5 497.4,300.3 497.5,300.1 497.6,299.8 497.9,299.5 498.4,299.0 498.9,298.4 499.7,297.8 500.5,297.1 501.4,296.4 502.3,295.7 503.2,295.1 504.3,294.4 505.5,293.7 506.7,292.9 508.1,292.1 509.5,291.3 511.0,290.5 512.4,289.7 513.6,289.0 514.6,288.4 515.6,287.8 516.8,287.1 518.5,286.2 520.6,285.1 523.5,283.7 527.0,282.1 530.7,280.2 534.8,278.2 539.3,276.0 544.3,273.7 549.8,271.2 556.1,268.4 563.1,265.4 571.2,262.1 580.6,258.3 590.9,254.3 601.7,250.1 612.6,245.8 623.4,241.6 633.6,237.6 642.9,234.0 651.7,230.6 660.3,227.2 668.7,223.9 676.7,220.8 684.2,217.8 691.2,215.1 697.5,212.6 702.9,210.5 707.5,208.7 711.3,207.2 714.3,206.0 716.8,205.0 718.7,204.2 720.4,203.5 721.7,203.0 723.0,202.5" fill="none" stroke="#000" stroke-width="1.125" />
<polyline points="408.1,453.0 407.2,453.8 406.1,454.9 404.8,456.2 403.3,457.6 401.6,459.1 399.9,460.5 398.0,461.8 396.2,462.9 394.3,463.8 392.2,464.6 390.1,465.4 387.8,466.1 385.5,466.7 383.2,467.2 380.9,467.6 378.5,467.9 376.3,468.1 374.4,468.2 372.5,468.3 370.6,468.2 368.4,468.0 365.8,467.8 362.6,467.4 358.7,466.9 353.7,466.2 347.8,465.3 341.1,464.3 334.0,463.2 327.0,462.1 320.3,460.9 314.4,459.9 309.4,459.0 305.4,458.2 302.1,457.6 299.2,457.0 296.8,456.4 294.8,455.9 293.0,455.3 291.3,454.7 289.6,454.0 288.1,453.2 286.9,452.5 285.9,451.7 285.1,450.8 284.4,450.0 283.8,449.1 283.3,448.1 282.7,447.1 282.1,446.0 281.5,444.9 281.0,443.6 280.6,442.4 280.2,441.1 279.9,439.8 279.8,438.5 279.7,437.3 279.8,436.0 279.9,434.7 280.2,433.4 280.6,432.1 281.0,430.8 281.5,429.5 282.1,428.4 282.7,427.4 283.4,426.5 284.1,425.7 284.9,424.9 285.7,424.3 286.6,423.7 287.6,423.2 288.6,422.8 289.6,422.4 290.6,422.1 291.6,421.9 292.7,421.8 293.8,421.7 294.9,421.7 296.3,421.9 297.8,422.1 299.5,422.4 301.5,422.9 303.7,423.5 306.2,424.3 308.7,425.1 311.4,426.0 314.0,426.8 316.7,427.7 319.2,428.4 321.7,429.1 324.4,429.9 327.1,430.6 329.8,431.4 332.4,432.0 334.8,432.6 337.1,433.0 339.0,433.2 340.6,433.2 342.0,433.1 343.2,432.8 344.2,432.4 345.1,431.9 345.9,431.3 346.7,430.7 347.5,430.0 348.3,429.2 349.0,428.4 349.6,427.4 350.2,426.4 350.7,425.4 351.2,424.3 351.6,423.1 352.0,422.0 352.3,420.9 352.6,419.7 352.8,418.5 352.9,417.2 353.0,416.0 353.0,414.7 353.0,413.4 353.0,412.0 352.9,410.7 352.7,409.5 352.5,408.3 352.2,407.1 352.0,405.8 351.7,404.2 351.5,402.3 351.3,400.0 351.2,397.1 351.1,393.7 351.0,389.8 350.9,385.8 350.8,381.8 350.8,378.0 350.9,374.7 351.0,372.0 351.2,370.0 351.4,368.5 351.6,367.3 351.9,366.4 352.2,365.7 352.6,365.0 353.0,364.3 353.5,363.5 354.0,362.6 354.6,361.6 355.2,360.7 355.8,359.9 356.5,359.0 357.3,358.3 358.1,357.6 359.0,357.0 360.0,356.5 361.0,356.0 362.1,355.6 363.3,355.3 364.5,355.0 365.7,354.8 366.9,354.7 368.1,354.6 369.3,354.6 370.4,354.8 371.5,355.1 372.7,355.4 373.9,355.7 375.2,356.0 376.5,356.3 378.0,356.6 379.7,356.8 381.5,357.1 383.4,357.5 385.4,357.7 387.4,358.0 389.4,358.1 391.2,358.1 392.8,358.0 394.2,357.7 395.6,357.3 396.8,356.8 398.0,356.1 399.1,355.4 400.1,354.7 401.1,353.9 402.0,353.0 402.9,352.1 403.8,351.1 404.6,350.0 405.3,348.9 406.0,347.8 406.6,346.6 407.1,345.4 407.6,344.2 408.0,343.0 408.2,341.7 408.4,340.4 408.5,339.1 408.5,337.8 408.5,336.5 408.6,335.2 408.6,334.0 408.7,332.8 408.7,331.7 408.7,330.6 408.7,329.5 408.7,328.4 408.7,327.4 408.6,326.4 408.5,325.5 408.4,324.6 408.3,323.8 408.1,323.0 408.0,322.2 407.8,321.5 407.5,320.8 407.2,320.2 406.9,319.5 406.5,318.9 406.0,318.2 405.5,317.6 405.0,317.0 404.4,316.5 403.8,316.0 403.1,315.5 402.5,315.1 401.8,314.8 401.1,314.4 400.3,314.2 399.5,314.0 398.7,313.8 397.9,313.7 397.2,313.6 396.5,313.5 395.9,313.5 395.4,313.5 394.9,313.6 394.4,313.7 393.9,313.8 393.5,313.9 393.0,314.1 392.4,314.2 391.8,314.3 391.1,314.4 390.5,314.5 389.8,314.7 389.1,314.8 388.4,314.9 387.7,315.1 387.0,315.2 386.7,315.2 386.8,315.1 387.2,314.9 387.4,314.7 387.3,314.7 386.5,314.9 384.9,315.5 382.0,316.5 377.6,318.1 371.8,320.3 365.0,322.8 357.6,325.6 350.0,328.5 342.6,331.3 335.8,333.8 330.0,336.0 325.1,337.8 320.6,339.5 316.4,341.1 312.6,342.5 309.1,343.8 305.9,345.1 302.8,346.3 300.0,347.5 297.9,348.5 296.8,349.2 296.2,349.8 295.7,350.3 294.9,351.0 293.3,352.0 290.5,353.5 286.0,355.5 279.4,358.3 270.9,361.9 261.1,365.9 250.6,370.2 240.0,374.6 229.7,378.7 220.5,382.4 212.9,385.5 206.7,387.9 201.4,390.0 196.8,391.8 192.8,393.3 189.3,394.6 186.0,395.8 183.0,396.9 180.0,398.0 177.2,399.0 174.9,399.9 172.8,400.6 171.0,401.3 169.4,401.9 167.9,402.4 166.5,402.9 165.0,403.5 163.6,404.1 162.3,404.6 161.1,405.1 159.9,405.5 158.9,406.0 157.9,406.5 156.9,407.0 156.0,407.5 155.1,408.1 154.2,408.7 153.3,409.3 152.5,409.9 151.8,410.5 151.1,411.2 150.5,411.8 150.0,412.5 149.6,413.2 149.3,413.9 149.0,414.7 148.8,415.5 148.7,416.2 148.7,417.0 148.7,417.8 148.8,418.5 149.0,419.2 149.2,420.0 149.5,420.7 149.8,421.4 150.3,422.1 150.8,422.8 151.3,423.4 152.0,424.0 152.7,424.5 153.3,424.9 153.9,425.3 154.6,425.7 155.5,426.0 156.7,426.4 158.2,426.8 160.0,427.3 162.3,427.8 165.0,428.4 168.0,429.0 171.3,429.7 174.7,430.3 178.1,431.0 181.6,431.6 185.0,432.3 188.5,433.0 192.2,433.8 196.0,434.6 199.8,435.4 203.5,436.1 207.0,436.8 210.2,437.3 212.9,437.7 215.1,437.9 216.9,438.1 218.5,438.1 219.7,438.1 220.8,437.9 221.9,437.7 222.9,437.4 224.0,437.0 225.1,436.5 226.2,436.0 227.2,435.3 228.1,434.6 229.0,433.8 229.9,432.9 230.7,432.0 231.5,431.0 232.3,429.9 233.0,428.7 233.6,427.5 234.2,426.2 234.8,424.8 235.4,423.5 236.0,422.2 236.6,421.0 237.2,419.8 237.7,418.7 238.2,417.6 238.7,416.5 239.3,415.4 239.8,414.4 240.4,413.4 241.0,412.5 241.7,411.6 242.4,410.8 243.1,410.0 243.8,409.2 244.6,408.5 245.4,407.8 246.2,407.1 247.0,406.5 247.8,405.9 248.7,405.3 249.5,404.8 250.4,404.2 251.3,403.8 252.2,403.3 253.1,402.9 254.0,402.5 254.7,402.2 255.2,401.9 255.5,401.7 256.0,401.4 256.6,401.2 257.7,401.0 259.5,400.8 262.0,400.5 265.5,400.2 270.0,399.8 275.1,399.4 280.6,398.9 286.3,398.5 291.9,398.1 297.2,397.7 301.8,397.3 305.6,397.0 308.5,396.7 311.1,396.5 313.6,396.2 316.4,395.9 319.9,395.6 324.3,395.2 330.0,394.6 337.6,393.9 347.0,393.0 357.5,392.0 368.6,390.9 379.6,389.8 389.9,388.8 398.9,387.8 405.9,387.0 411.0,386.3 414.7,385.7 417.3,385.2 419.1,384.8 420.4,384.3 421.4,383.8 422.5,383.2 424.0,382.5 425.6,381.7 427.1,380.9 428.4,380.0 429.6,379.1 430.7,378.1 431.7,377.0 432.6,375.8 433.5,374.5 434.3,373.0 435.0,371.3 435.6,369.6 436.2,367.7 436.6,365.8 437.0,363.8 437.3,361.9 437.5,360.0 437.6,358.1 437.6,356.2 437.6,354.3 437.4,352.4 437.2,350.5 437.0,348.6 436.7,346.7 436.5,344.8 436.2,342.9 435.9,341.0 435.6,339.1 435.2,337.2 434.9,335.3 434.5,333.5 434.2,331.7 434.0,330.0 433.8,328.4 433.7,326.8 433.5,325.2 433.4,323.7 433.3,322.3 433.3,320.8 433.4,319.4 433.5,318.0 433.7,316.6 433.9,315.2 434.1,313.7 434.4,312.3 434.7,311.0 435.2,309.7 435.8,308.6 436.5,307.5 437.4,306.5 438.4,305.5 439.6,304.6 440.8,303.8 442.1,303.1 443.4,302.6 444.7,302.2 446.0,302.0 447.3,302.0 448.6,302.3 450.0,302.7 451.3,303.2 452.7,303.9 453.9,304.7 455.0,305.6 456.0,306.5 456.8,307.5 457.5,308.6 458.0,309.9 458.5,311.2 458.9,312.6 459.2,314.1 459.6,315.5 460.0,317.0 460.4,318.4 460.7,319.9 461.0,321.3 461.3,322.8 461.6,324.4 461.8,326.1 462.1,327.9 462.5,330.0 462.9,332.4 463.3,335.0 463.8,337.9 464.2,340.8 464.7,343.8 465.2,346.7 465.6,349.5 466.0,352.0 466.3,354.3 466.6,356.5 466.9,358.6 467.1,360.6 467.4,362.6 467.7,364.4 468.1,366.2 468.5,368.0 469.0,369.7 469.5,371.5 470.1,373.1 470.8,374.7 471.4,376.2 472.2,377.6 473.1,378.9 474.0,380.0 475.1,381.0 476.3,381.9 477.6,382.6 478.9,383.3 480.3,383.8 481.7,384.2 483.1,384.4 484.4,384.5 485.7,384.4 487.0,384.2 488.3,383.9 489.6,383.4 490.8,382.7 492.0,381.9 493.0,381.0 494.0,380.0 494.8,378.9 495.6,377.6 496.3,376.3 496.9,374.8 497.4,373.2 497.9,371.3 498.2,369.2 498.5,366.8 498.7,364.0 498.7,360.7 498.7,357.2 498.5,353.4 498.3,349.6 498.1,345.9 497.8,342.4 497.5,339.2 497.1,336.3 496.7,333.6 496.2,330.9 495.7,328.4 495.1,326.0 494.6,323.7 494.0,321.5 493.5,319.4 493.0,317.4 492.4,315.5 491.8,313.7 491.2,312.0 490.7,310.4 490.2,308.9 489.8,307.4 489.5,306.0 489.3,304.7 489.2,303.4 489.1,302.2 489.1,301.1 489.2,300.0 489.3,299.0 489.6,298.0 490.0,297.0 490.5,296.0 491.1,295.1 491.8,294.2 492.6,293.3 493.5,292.5 494.5,291.7 495.5,290.8 496.5,290.0 497.6,289.2 498.8,288.4 500.0,287.5 501.3,286.8 502.7,286.0 504.1,285.1 505.5,284.3 507.0,283.5 508.3,282.7 509.4,282.1 510.5,281.4 511.7,280.8 513.0,280.0 514.8,279.1 517.1,277.9 520.0,276.5 523.4,274.8 527.2,273.0 531.3,271.0 535.8,268.8 540.9,266.4 546.6,263.8 552.9,261.0 560.0,258.0 568.2,254.6 577.7,250.9 587.9,246.8 598.8,242.6 609.7,238.3 620.5,234.1 630.7,230.1 640.0,226.5 648.7,223.1 657.3,219.7 665.7,216.4 673.8,213.3 681.3,210.3 688.3,207.6 694.6,205.1 700.0,203.0 704.6,201.2 708.3,199.7 711.3,198.5 713.8,197.5 715.7,196.7 717.3,196.1 718.7,195.5 720.0,195.0" fill="none" stroke="#000" stroke-width="0.9" />
<line x1="296.5" y1="437.3" x2="345.0" y2="445.0" stroke="#000" stroke-width="1.2" />
<line x1="296.5" y1="438.3" x2="345.0" y2="448.5" stroke="#000" stroke-width="0.8" />
<polyline points="345.0,448.5 346.1,448.6 347.4,448.7 349.1,448.8 351.0,448.9 352.9,449.0 354.9,449.1 356.9,449.1 358.7,449.0 360.5,448.8 362.3,448.6 364.1,448.4 365.9,448.1 367.7,447.7 369.5,447.3 371.3,446.7 373.0,446.0 374.7,445.2 376.3,444.5 377.8,443.6 379.4,442.6 381.0,441.5 382.6,440.2 384.2,438.7 386.0,437.0 387.8,434.9 389.7,432.4 391.7,429.6 393.7,426.6 395.7,423.7 397.8,420.8 399.9,418.2 402.0,416.0 404.1,414.1 406.1,412.3 408.1,410.8 410.1,409.3 412.3,408.0 414.6,406.9 417.2,405.9 420.0,405.0 423.1,404.3 426.5,403.8 430.1,403.5 433.9,403.3 437.8,403.1 441.8,403.0 445.9,402.9 450.0,402.8 454.1,402.7 458.2,402.6 462.3,402.7 466.6,402.7 471.0,402.7 475.7,402.6 480.6,402.4 486.0,402.0 491.6,401.5 497.3,401.0 503.1,400.5 509.3,399.9 515.9,399.0 523.0,398.0 530.6,396.7 539.0,395.0 548.8,392.8 560.4,390.0 573.0,386.7 585.8,383.4 598.3,380.0 609.6,377.0 619.1,374.4 626.0,372.6" fill="none" stroke="#000" stroke-width="0.9" />
<polyline points="378.5,478.0 379.9,477.7 381.7,477.4 383.9,477.1 386.4,476.7 388.9,476.2 391.5,475.6 393.9,474.9 396.0,474.0 397.9,473.0 399.7,471.8 401.5,470.5 403.2,469.1 404.9,467.7 406.6,466.1 408.3,464.6 410.0,463.0 411.8,461.3 413.5,459.5 415.3,457.6 417.1,455.7 418.8,453.8 420.6,452.0 422.2,450.4 423.9,449.0 425.5,447.9 427.0,446.9 428.4,446.1 429.8,445.5 431.3,444.9 432.8,444.4 434.3,443.9 436.0,443.5 437.9,443.1 440.0,442.8 442.2,442.6 444.5,442.4 446.7,442.3 448.6,442.2 450.3,442.1 451.5,442.0" fill="none" stroke="#000" stroke-width="1.8" />
<polyline points="358.0,466.5 359.6,466.6 361.7,466.9 364.2,467.1 367.0,467.4 369.9,467.6 372.8,467.8 375.6,467.7 378.0,467.5 380.2,467.1 382.3,466.6 384.3,466.0 386.3,465.3 388.2,464.5 390.2,463.5 392.1,462.3 394.0,461.0 395.9,459.4 397.9,457.6 399.8,455.6 401.7,453.5 403.6,451.3 405.4,449.1 407.2,447.0 409.0,445.0 410.7,443.1 412.3,441.2 413.8,439.3 415.3,437.4 416.8,435.6 418.4,433.9 420.1,432.4 422.0,431.0 423.9,429.8 425.9,428.8 427.9,427.8 429.9,427.0 432.2,426.3 434.5,425.7 437.1,425.1 440.0,424.5 443.0,424.0 446.0,423.6 449.1,423.3 452.4,423.1 456.0,422.9 460.1,422.6 464.7,422.4 470.0,422.0 476.5,421.5 484.3,421.0 492.9,420.4 501.9,419.8 510.6,419.3 518.5,418.8 525.2,418.3 530.0,418.0" fill="none" stroke="#000" stroke-width="0.6" />
<line x1="388.0" y1="436.0" x2="418.0" y2="455.0" stroke="#000" stroke-width="0.8" />
<line x1="403.0" y1="414.5" x2="433.0" y2="444.0" stroke="#000" stroke-width="0.8" />
<line x1="422.0" y1="405.0" x2="434.0" y2="442.5" stroke="#000" stroke-width="0.8" />
<line x1="449.6" y1="402.0" x2="448.2" y2="423.0" stroke="#000" stroke-width="0.8" />
<polyline points="302.0,380.0 403.0,377.0 404.0,406.0 302.0,408.0 302.0,380.0" fill="none" stroke="#000" stroke-width="1.1" />
<line x1="337.0" y1="378.0" x2="338.0" y2="408.0" stroke="#1a0808" stroke-width="1.6" />
<line x1="341.0" y1="378.0" x2="342.0" y2="408.0" stroke="#1a0808" stroke-width="1.6" />
<line x1="365.0" y1="378.0" x2="366.0" y2="408.0" stroke="#1a0808" stroke-width="1.6" />
<line x1="369.0" y1="378.0" x2="370.0" y2="408.0" stroke="#1a0808" stroke-width="1.6" />
<line x1="306.0" y1="379.5" x2="337.0" y2="378.5" stroke="#5a1a1a" stroke-width="1.6" />
<line x1="306.0" y1="409.0" x2="337.0" y2="408.0" stroke="#5a1a1a" stroke-width="1.6" />
<line x1="368.0" y1="377.5" x2="399.0" y2="376.8" stroke="#5a1a1a" stroke-width="1.6" />
<line x1="368.0" y1="407.5" x2="399.0" y2="406.5" stroke="#5a1a1a" stroke-width="1.6" />
<line x1="463.6" y1="444.0" x2="694.3" y2="498.5" stroke="#000" stroke-width="0.9" />
<line x1="463.6" y1="441.6" x2="694.8" y2="496.3" stroke="#000" stroke-width="0.9" />
<line x1="694.3" y1="498.5" x2="695.0" y2="496.0" stroke="#000" stroke-width="0.8" />
<line x1="484.5" y1="446.7" x2="673.4" y2="471.9" stroke="#000" stroke-width="0.8" />
<path d="M673.4,471.9 l0,-4 q-4,0 -4,3.5" fill="none" stroke="#000" stroke-width="0.8"/>
<polyline points="430.0,423.0 434.3,422.8 440.1,422.6 446.9,422.4 454.5,422.1 462.5,421.7 470.7,421.3 478.6,420.7 486.0,420.0 492.8,419.2 499.2,418.4 505.5,417.6 511.9,416.6 518.6,415.5 525.7,414.1 533.4,412.4 542.0,410.3 551.6,407.8 562.0,404.7 573.1,401.4 584.6,397.8 596.4,394.1 608.3,390.4 620.0,387.0 631.4,383.8 643.2,380.8 655.9,377.7 668.9,374.6 681.8,371.6 694.0,368.9 704.9,366.4 714.1,364.4 721.0,362.8" fill="none" stroke="#000" stroke-width="0.9" />
<line x1="631.4" y1="376.8" x2="635.6" y2="389.4" stroke="#C4C420" stroke-width="1.0" />
<line x1="542.0" y1="393.5" x2="523.7" y2="469.0" stroke="#000" stroke-width="0.9" />
<line x1="543.5" y1="393.5" x2="525.2" y2="469.0" stroke="#000" stroke-width="0.7" />
<polyline points="483.0,459.5 457.7,455.6 448.4,491.5" fill="none" stroke="#000" stroke-width="0.8" />
<circle cx="466.4" cy="478.7" r="2.3" fill="none" stroke="#000" stroke-width="1.1"/><circle cx="466.4" cy="478.7" r="0.8" fill="#000"/><rect x="473.8" y="464.9" width="3" height="3" fill="#000" transform="rotate(45 475.3 466.4)"/><rect x="471.7" y="455.2" width="2.6" height="2.6" fill="#000" transform="rotate(45 473 456.5)"/><rect x="462" y="481.5" width="9" height="0.9" fill="#555"/>
<polygon points="488.6,464.8 510,469.5 509.3,476.3 488,471.3" fill="#000"/><polygon points="513.4,471 532,475.3 531.5,481.5 512.8,477.2" fill="#000"/>
<rect x="488.5" y="475.5" width="4" height="5" fill="#fff" stroke="#000" stroke-width="0.7"/>
<rect x="492" y="473.5" width="13" height="0.7" fill="#444" transform="rotate(12 492 474)"/><rect x="516" y="480.0" width="12" height="0.7" fill="#444" transform="rotate(12 516 480)"/>
<rect x="493" y="475.3" width="13" height="0.7" fill="#444" transform="rotate(12 492 474)"/><rect x="517" y="481.8" width="12" height="0.7" fill="#444" transform="rotate(12 516 480)"/>
<rect x="494" y="477.1" width="13" height="0.7" fill="#444" transform="rotate(12 492 474)"/><rect x="518" y="483.6" width="12" height="0.7" fill="#444" transform="rotate(12 516 480)"/>
<line x1="533.0" y1="476.0" x2="533.5" y2="482.0" stroke="#000" stroke-width="1.0" />
<rect x="427.5" y="251.5" width="31" height="10.5" fill="#fff" stroke="#000" stroke-width="0.8"/><rect x="430" y="254.5" width="14" height="1.4" fill="#000"/><rect x="430" y="257.3" width="20" height="1.2" fill="#000"/>
<line x1="443.0" y1="262.0" x2="395.0" y2="290.0" stroke="#000" stroke-width="0.6" />
<line x1="443.0" y1="262.0" x2="420.0" y2="290.0" stroke="#000" stroke-width="0.6" />
<line x1="443.0" y1="262.0" x2="470.0" y2="262.0" stroke="#000" stroke-width="0.6" />
<line x1="443.0" y1="262.0" x2="520.0" y2="285.0" stroke="#000" stroke-width="0.6" />
<line x1="443.0" y1="262.0" x2="560.0" y2="262.0" stroke="#000" stroke-width="0.6" />
<line x1="443.0" y1="262.0" x2="447.0" y2="330.0" stroke="#000" stroke-width="0.6" />
<polyline points="443.5,316.0 444.0,312.5 446.0,311.0 448.5,312.5 449.0,316.0 455.0,366.0 453.0,390.0" fill="none" stroke="#000" stroke-width="1.3" />
<polyline points="443.5,316.0 449.0,366.0 450.0,380.0" fill="none" stroke="#000" stroke-width="1.0" />
<polyline points="480.5,369.0 481.0,374.0 484.4,376.0 488.0,374.0 488.5,369.0 497.0,308.0" fill="none" stroke="#000" stroke-width="1.3" />
<polyline points="480.5,369.0 474.0,320.0 473.5,311.0" fill="none" stroke="#000" stroke-width="1.2" />
<polygon points="452,321 469,319 470.5,327.5 453.5,329.5" fill="#3a3a3a"/>
<line x1="450.0" y1="320.0" x2="476.0" y2="317.0" stroke="#000" stroke-width="0.6" />
<line x1="450.0" y1="323.0" x2="476.0" y2="320.0" stroke="#000" stroke-width="0.6" />
<line x1="450.0" y1="326.0" x2="476.0" y2="323.0" stroke="#000" stroke-width="0.6" />
<line x1="450.0" y1="329.0" x2="476.0" y2="326.0" stroke="#000" stroke-width="0.6" />
<polygon points="457,339 474,337 475.5,345.5 458.5,347.5" fill="#3a3a3a"/>
<line x1="455.0" y1="338.0" x2="481.0" y2="335.0" stroke="#000" stroke-width="0.6" />
<line x1="455.0" y1="341.0" x2="481.0" y2="338.0" stroke="#000" stroke-width="0.6" />
<line x1="455.0" y1="344.0" x2="481.0" y2="341.0" stroke="#000" stroke-width="0.6" />
<line x1="455.0" y1="347.0" x2="481.0" y2="344.0" stroke="#000" stroke-width="0.6" />
<polygon points="461,357 478,355 479.5,363.5 462.5,365.5" fill="#3a3a3a"/>
<line x1="459.0" y1="356.0" x2="485.0" y2="353.0" stroke="#000" stroke-width="0.6" />
<line x1="459.0" y1="359.0" x2="485.0" y2="356.0" stroke="#000" stroke-width="0.6" />
<line x1="459.0" y1="362.0" x2="485.0" y2="359.0" stroke="#000" stroke-width="0.6" />
<line x1="459.0" y1="365.0" x2="485.0" y2="362.0" stroke="#000" stroke-width="0.6" />
<line x1="467.0" y1="291.0" x2="474.5" y2="345.0" stroke="#000" stroke-width="1.0" />
<line x1="469.5" y1="291.0" x2="477.0" y2="345.0" stroke="#000" stroke-width="0.8" />
<line x1="452.0" y1="350.0" x2="461.0" y2="397.0" stroke="#000" stroke-width="0.8" />
<line x1="529.0" y1="207.0" x2="541.0" y2="230.0" stroke="#000" stroke-width="0.8" />
<line x1="529.0" y1="207.0" x2="536.0" y2="204.0" stroke="#000" stroke-width="0.8" />
<line x1="541.0" y1="230.0" x2="590.0" y2="395.0" stroke="#000" stroke-width="0.8" stroke-dasharray="7 2 1.5 2"/>
<line x1="607.0" y1="167.0" x2="640.0" y2="238.0" stroke="#000" stroke-width="0.8" stroke-dasharray="7 2 1.5 2"/>
<line x1="604.0" y1="167.5" x2="611.0" y2="165.0" stroke="#000" stroke-width="0.8" />
<line x1="640.0" y1="238.0" x2="700.0" y2="400.0" stroke="#000" stroke-width="0.7" stroke-dasharray="7 2 1.5 2"/>
<polyline points="558.4,334.7 680.0,291.7" fill="none" stroke="#000" stroke-width="5.2" stroke-linecap="round" stroke-linejoin="round"/>
<polyline points="558.4,334.7 680.0,291.7" fill="none" stroke="#fff" stroke-width="3.2" stroke-dasharray="0.9 1.1" stroke-linejoin="round"/>
<polyline points="676.3,265.5 548.9,310.0 546.1,311.1 543.5,312.5 541.1,314.2 538.9,316.2 536.9,318.4 535.1,320.8 533.7,323.4 532.5,326.1 531.7,329.0 531.2,331.9 531.0,334.9 531.2,337.8 531.6,340.8 532.5,343.6 533.6,346.4 535.0,349.0 536.7,351.4 538.7,353.6 540.9,355.6 543.3,357.4 545.9,358.8 548.6,360.0 551.5,360.8 554.4,361.3 557.4,361.5 560.3,361.3 563.3,360.9 566.1,360.0 699.8,312.3" fill="none" stroke="#000" stroke-width="4.8" stroke-linecap="round" stroke-linejoin="round"/>
<polyline points="676.3,265.5 548.9,310.0 546.1,311.1 543.5,312.5 541.1,314.2 538.9,316.2 536.9,318.4 535.1,320.8 533.7,323.4 532.5,326.1 531.7,329.0 531.2,331.9 531.0,334.9 531.2,337.8 531.6,340.8 532.5,343.6 533.6,346.4 535.0,349.0 536.7,351.4 538.7,353.6 540.9,355.6 543.3,357.4 545.9,358.8 548.6,360.0 551.5,360.8 554.4,361.3 557.4,361.5 560.3,361.3 563.3,360.9 566.1,360.0 699.8,312.3" fill="none" stroke="#fff" stroke-width="2.8" stroke-dasharray="0.9 1.1" stroke-linejoin="round"/>
<polyline points="673.9,270.8 553.3,313.7 551.1,314.6 549.0,315.8 547.0,317.2 545.2,318.8 543.6,320.5 542.2,322.5 541.0,324.6 540.1,326.8 539.4,329.1 539.0,331.5 538.8,333.9 539.0,336.3 539.4,338.7 540.0,341.0 540.9,343.3 542.1,345.4 543.5,347.3 545.1,349.2 546.9,350.8 548.8,352.2 550.9,353.3 553.1,354.3 555.5,355.0 557.8,355.4 560.2,355.5 562.6,355.4 565.0,355.0 567.3,354.3 694.8,309.9" fill="none" stroke="#000" stroke-width="0.8" />
<polyline points="674.9,261.5 547.5,306.1 544.3,307.4 541.3,309.0 538.5,311.0 536.0,313.3 533.7,315.8 531.7,318.6 530.0,321.6 528.7,324.8 527.7,328.1 527.1,331.4 526.9,334.9 527.1,338.3 527.6,341.7 528.6,345.0 529.9,348.2 531.5,351.2 533.5,354.0 535.8,356.5 538.3,358.8 541.1,360.8 544.1,362.5 547.3,363.8 550.6,364.8 553.9,365.4 557.4,365.6 560.8,365.4 564.2,364.9 567.5,363.9 702.3,316.3" fill="none" stroke="#000" stroke-width="0.8" />
<polyline points="674.2,281.0 555.3,322.5 554.0,323.1 552.8,323.7 551.6,324.5 550.6,325.5 549.7,326.5 548.8,327.7 548.2,328.9 547.6,330.2 547.2,331.5 547.0,332.9 546.9,334.3 547.0,335.7 547.2,337.1 547.6,338.4 548.1,339.7 548.8,340.9 549.6,342.1 550.5,343.1 551.6,344.1 552.7,344.9 553.9,345.6 555.2,346.1 556.6,346.5 557.9,346.8 559.3,346.8 560.7,346.8 562.1,346.5 563.5,346.2 673.1,308.3" fill="none" stroke="#000" stroke-width="0.6" />
<polyline points="667.8,240.9 670.6,240.1 673.5,239.6 676.4,239.5 679.3,239.7 682.2,240.2 685.0,241.0 687.7,242.1 690.2,243.5 692.6,245.2 694.7,247.2 696.7,249.4 698.3,251.7 699.7,254.3 700.8,257.0 701.6,259.8 702.1,262.7 702.3,265.6 702.1,268.5 701.6,271.4 700.8,274.2 699.6,276.9 698.2,279.4 696.5,281.8 694.6,283.9 692.4,285.9 690.0,287.5 687.4,288.9 684.7,290.0 680.0,291.7" fill="none" stroke="#000" stroke-width="1.3" />
<polyline points="668.4,242.8 671.0,242.1 673.7,241.6 676.4,241.5 679.1,241.6 681.7,242.1 684.3,242.9 686.8,243.9 689.1,245.2 691.3,246.8 693.3,248.6 695.1,250.6 696.6,252.8 697.9,255.2 699.0,257.7 699.7,260.2 700.1,262.9 700.3,265.6 700.1,268.3 699.6,270.9 698.9,273.5 697.8,276.0 696.5,278.3 695.0,280.5 693.2,282.5 691.1,284.3 688.9,285.8 686.6,287.1 684.1,288.2" fill="none" stroke="#000" stroke-width="1.0" />
<polyline points="601.2,277.6 672.0,253.2 673.4,252.8 674.9,252.6 676.3,252.5 677.8,252.6 679.2,252.8 680.6,253.2 682.0,253.8 683.2,254.5 684.4,255.4 685.5,256.3 686.5,257.4 687.3,258.6 688.0,259.9 688.6,261.2 689.0,262.6 689.2,264.1 689.3,265.5 689.2,267.0 688.9,268.4 688.5,269.8 688.0,271.2 687.2,272.4 686.4,273.6 685.4,274.7 684.3,275.7 683.1,276.5 681.9,277.2 680.5,277.8 590.7,308.7" fill="none" stroke="#000" stroke-width="0.6" />
<polyline points="667.8,240.9 540.2,284.9 536.3,286.4 532.6,288.2 529.0,290.3 525.6,292.7 522.4,295.3 519.4,298.2 516.6,301.3 514.1,304.6 511.8,308.1 509.9,311.8 508.2,315.6 506.8,319.5 505.8,323.6 505.0,327.7 504.6,331.8 504.5,336.0 504.8,340.1 505.3,344.2 506.2,348.3 507.4,352.3 508.9,356.2 510.7,359.9 512.8,363.5 515.2,366.9 517.8,370.1 520.7,373.1 523.8,375.9 527.1,378.4 530.6,380.7 534.3,382.6 538.1,384.3 542.0,385.7 546.1,386.7 550.2,387.5 554.3,387.9 558.5,388.0 562.6,387.7 566.7,387.2 570.8,386.3 574.8,385.1 714.6,336.8" fill="none" stroke="#000" stroke-width="1.3" />
<polyline points="668.4,242.8 540.9,286.8 537.1,288.3 533.5,290.0 530.1,292.0 526.8,294.3 523.7,296.8 520.8,299.6 518.1,302.6 515.7,305.8 513.6,309.1 511.7,312.7 510.1,316.3 508.7,320.1 507.7,324.0 507.0,327.9 506.6,331.9 506.5,335.9 506.8,339.9 507.3,343.9 508.1,347.8 509.3,351.6 510.8,355.4 512.5,359.0 514.5,362.4 516.8,365.7 519.3,368.8 522.1,371.7 525.1,374.4 528.3,376.8 531.6,378.9 535.2,380.8 538.8,382.4 542.6,383.8 546.5,384.8 550.4,385.5 554.4,385.9 558.4,386.0 562.4,385.7 566.4,385.2 570.3,384.4 574.1,383.2 712.0,335.3" fill="none" stroke="#000" stroke-width="1.0" />
<polyline points="711.7,340.6 632.5,368.4" fill="none" stroke="#000" stroke-width="0.8" />
<polyline points="713.8,334.4 714.8,334.2 715.8,334.5 716.6,335.1 717.1,336.0 717.2,337.0 717.0,338.0 716.4,338.8 715.5,339.3" fill="none" stroke="#000" stroke-width="1.0" />
<polyline points="653.1,259.7 544.5,297.2 541.2,298.5 538.1,300.0 535.1,301.9 532.3,303.9 529.7,306.3 527.3,308.8 525.1,311.5 523.2,314.4 521.6,317.5 520.2,320.7 519.1,324.0 518.2,327.4 517.7,330.8 517.5,334.3 517.6,337.8 518.0,341.3 518.7,344.7 519.7,348.0 521.0,351.3 522.5,354.4 524.4,357.4 526.4,360.2 528.8,362.8 531.3,365.2 534.0,367.4 536.9,369.3 540.0,370.9 543.2,372.3 546.5,373.4 549.9,374.3 553.3,374.8 556.8,375.0 560.3,374.9 563.8,374.5 567.2,373.8 570.5,372.8 700.6,326.9" fill="none" stroke="#000" stroke-width="0.6" />
<polyline points="700.5,314.2 702.5,315.0 705.6,313.5 708.9,312.5 712.3,312.0 715.8,311.9 719.2,312.3 722.6,313.1 725.7,314.4 728.7,316.2 731.4,318.3 733.8,320.8 735.8,323.6 737.5,326.7 738.6,329.9 739.4,333.3 739.6,336.7 739.4,340.2 738.7,343.5 737.6,346.8 736.0,349.9 734.0,352.7 731.6,355.2 728.9,357.3 726.0,359.1 722.8,360.5 634.9,390.8" fill="none" stroke="#000" stroke-width="1.3" />
<polyline points="701.5,317.1 705.3,315.8 708.2,314.8 711.2,314.1 714.3,313.8 717.4,314.0 720.4,314.6 723.3,315.6 726.1,316.9 728.7,318.6 731.0,320.7 733.0,323.0 734.7,325.6 736.0,328.4 737.0,331.3 737.5,334.4 737.6,337.5 737.3,340.6 736.6,343.6 735.5,346.5 734.0,349.2 732.2,351.7 730.1,353.9 727.6,355.8 725.0,357.4 722.1,358.6 634.3,388.9" fill="none" stroke="#000" stroke-width="1.0" />
<polyline points="634.9,390.8 634.3,388.9" fill="none" stroke="#000" stroke-width="0.8" />
<polyline points="673.2,363.8 718.6,348.2 720.7,347.2 722.6,345.8 724.2,344.1 725.4,342.1 726.2,339.9 726.6,337.6 726.5,335.2 726.0,332.9 725.0,330.8 723.6,328.9 721.9,327.3 719.9,326.1 717.7,325.2 715.4,324.9 713.0,325.0 710.7,325.5 627.6,354.2" fill="none" stroke="#000" stroke-width="0.6" />
<polyline points="530.3,286.1 526.8,288.2 523.5,290.5 520.4,293.1 517.4,295.9 514.7,298.9 512.2,302.1 509.9,305.5 507.9,309.0 506.1,312.7 504.7,316.5 503.5,320.4 502.5,324.4" fill="none" stroke="#000" stroke-width="1.0" />
<polyline points="514.0,370.3 516.5,373.1 519.2,375.8 522.0,378.3 525.0,380.6 528.2,382.7 531.5,384.6 534.9,386.2 538.4,387.6 542.0,388.8 545.7,389.7 549.4,390.4 553.1,390.8 556.9,391.0 560.7,390.9 564.5,390.5 568.2,389.9" fill="none" stroke="#000" stroke-width="1.0" />
<polyline points="539.7,392.4 627.6,369.5" fill="none" stroke="#000" stroke-width="3.4" stroke-linecap="round" stroke-linejoin="round"/>
<polyline points="539.7,392.4 627.6,369.5" fill="none" stroke="#fff" stroke-width="1.4" stroke-dasharray="0.9 1.1" stroke-linejoin="round"/>
<polygon points="571.7,333.3 579.7,330.5 585.9,348.5 577.9,351.2" fill="#2a2a2a"/>
<line x1="573.7" y1="332.6" x2="579.9" y2="350.5" stroke="#999" stroke-width="0.5" />
<line x1="575.7" y1="331.9" x2="581.9" y2="349.9" stroke="#999" stroke-width="0.5" />
<line x1="577.7" y1="331.2" x2="583.9" y2="349.2" stroke="#999" stroke-width="0.5" />
<polygon points="588.2,327.6 596.2,324.8 602.4,342.8 594.3,345.6" fill="#2a2a2a"/>
<line x1="590.1" y1="326.9" x2="596.3" y2="344.9" stroke="#999" stroke-width="0.5" />
<line x1="592.1" y1="326.2" x2="598.3" y2="344.2" stroke="#999" stroke-width="0.5" />
<line x1="594.1" y1="325.5" x2="600.3" y2="343.5" stroke="#999" stroke-width="0.5" />
<polygon points="604.6,321.9 612.6,319.2 618.8,337.1 610.8,339.9" fill="#2a2a2a"/>
<line x1="606.6" y1="321.2" x2="612.8" y2="339.2" stroke="#999" stroke-width="0.5" />
<line x1="608.6" y1="320.6" x2="614.8" y2="338.5" stroke="#999" stroke-width="0.5" />
<line x1="610.5" y1="319.9" x2="616.7" y2="337.8" stroke="#999" stroke-width="0.5" />
<polygon points="621.0,316.3 629.1,313.5 635.3,331.4 627.2,334.2" fill="#2a2a2a"/>
<line x1="623.0" y1="315.6" x2="629.2" y2="333.5" stroke="#999" stroke-width="0.5" />
<line x1="625.0" y1="314.9" x2="631.2" y2="332.8" stroke="#999" stroke-width="0.5" />
<line x1="627.0" y1="314.2" x2="633.2" y2="332.2" stroke="#999" stroke-width="0.5" />
<polygon points="637.5,310.6 645.5,307.8 651.7,325.8 643.7,328.5" fill="#2a2a2a"/>
<line x1="639.5" y1="309.9" x2="645.7" y2="327.9" stroke="#999" stroke-width="0.5" />
<line x1="641.4" y1="309.2" x2="647.6" y2="327.2" stroke="#999" stroke-width="0.5" />
<line x1="643.4" y1="308.5" x2="649.6" y2="326.5" stroke="#999" stroke-width="0.5" />
<polygon points="653.9,304.9 662.0,302.1 668.1,320.1 660.1,322.9" fill="#2a2a2a"/>
<line x1="655.9" y1="304.2" x2="662.1" y2="322.2" stroke="#999" stroke-width="0.5" />
<line x1="657.9" y1="303.5" x2="664.1" y2="321.5" stroke="#999" stroke-width="0.5" />
<line x1="659.9" y1="302.9" x2="666.1" y2="320.8" stroke="#999" stroke-width="0.5" />
<polygon points="670.4,299.2 678.4,296.5 684.6,314.4 676.6,317.2" fill="#2a2a2a"/>
<line x1="672.4" y1="298.6" x2="678.5" y2="316.5" stroke="#999" stroke-width="0.5" />
<line x1="674.3" y1="297.9" x2="680.5" y2="315.8" stroke="#999" stroke-width="0.5" />
<line x1="676.3" y1="297.2" x2="682.5" y2="315.1" stroke="#999" stroke-width="0.5" />
<line x1="571.0" y1="343.6" x2="682.5" y2="305.1" stroke="#000" stroke-width="0.6" />
<line x1="557.4" y1="310.2" x2="564.1" y2="329.6" stroke="#000" stroke-width="0.65" />
<line x1="560.0" y1="309.3" x2="566.6" y2="328.7" stroke="#000" stroke-width="0.65" />
<line x1="562.5" y1="308.4" x2="569.2" y2="327.8" stroke="#000" stroke-width="0.65" />
<line x1="565.1" y1="307.5" x2="571.7" y2="326.9" stroke="#000" stroke-width="0.65" />
<line x1="567.6" y1="306.7" x2="574.3" y2="326.0" stroke="#000" stroke-width="0.65" />
<line x1="570.2" y1="305.8" x2="576.8" y2="325.2" stroke="#000" stroke-width="0.65" />
<line x1="572.7" y1="304.9" x2="579.4" y2="324.3" stroke="#000" stroke-width="0.65" />
<line x1="575.3" y1="304.0" x2="581.9" y2="323.4" stroke="#000" stroke-width="0.65" />
<line x1="577.8" y1="303.1" x2="584.5" y2="322.5" stroke="#000" stroke-width="0.65" />
<line x1="580.4" y1="302.3" x2="587.0" y2="321.6" stroke="#000" stroke-width="0.65" />
<line x1="582.9" y1="301.4" x2="589.6" y2="320.8" stroke="#000" stroke-width="0.65" />
<line x1="585.5" y1="300.5" x2="592.1" y2="319.9" stroke="#000" stroke-width="0.65" />
<line x1="588.0" y1="299.6" x2="594.7" y2="319.0" stroke="#000" stroke-width="0.65" />
<line x1="590.6" y1="298.7" x2="597.3" y2="318.1" stroke="#000" stroke-width="0.65" />
<line x1="593.1" y1="297.9" x2="599.8" y2="317.2" stroke="#000" stroke-width="0.65" />
<line x1="595.7" y1="297.0" x2="602.4" y2="316.4" stroke="#000" stroke-width="0.65" />
<line x1="598.2" y1="296.1" x2="604.9" y2="315.5" stroke="#000" stroke-width="0.65" />
<line x1="600.8" y1="295.2" x2="607.5" y2="314.6" stroke="#000" stroke-width="0.65" />
<line x1="603.3" y1="294.3" x2="610.0" y2="313.7" stroke="#000" stroke-width="0.65" />
<line x1="605.9" y1="293.5" x2="612.6" y2="312.8" stroke="#000" stroke-width="0.65" />
<line x1="608.4" y1="292.6" x2="615.1" y2="312.0" stroke="#000" stroke-width="0.65" />
<line x1="611.0" y1="291.7" x2="617.7" y2="311.1" stroke="#000" stroke-width="0.65" />
<line x1="613.5" y1="290.8" x2="620.2" y2="310.2" stroke="#000" stroke-width="0.65" />
<line x1="616.1" y1="289.9" x2="622.8" y2="309.3" stroke="#000" stroke-width="0.65" />
<line x1="618.6" y1="289.1" x2="625.3" y2="308.4" stroke="#000" stroke-width="0.65" />
<line x1="621.2" y1="288.2" x2="627.9" y2="307.6" stroke="#000" stroke-width="0.65" />
<line x1="623.7" y1="287.3" x2="630.4" y2="306.7" stroke="#000" stroke-width="0.65" />
<line x1="626.3" y1="286.4" x2="633.0" y2="305.8" stroke="#000" stroke-width="0.65" />
<line x1="628.8" y1="285.5" x2="635.5" y2="304.9" stroke="#000" stroke-width="0.65" />
<line x1="631.4" y1="284.7" x2="638.1" y2="304.0" stroke="#000" stroke-width="0.65" />
<line x1="633.9" y1="283.8" x2="640.6" y2="303.2" stroke="#000" stroke-width="0.65" />
<line x1="636.5" y1="282.9" x2="643.2" y2="302.3" stroke="#000" stroke-width="0.65" />
<line x1="639.0" y1="282.0" x2="645.7" y2="301.4" stroke="#000" stroke-width="0.65" />
<line x1="641.6" y1="281.1" x2="648.3" y2="300.5" stroke="#000" stroke-width="0.65" />
<line x1="644.2" y1="280.3" x2="650.8" y2="299.6" stroke="#000" stroke-width="0.65" />
<line x1="646.7" y1="279.4" x2="653.4" y2="298.8" stroke="#000" stroke-width="0.65" />
<line x1="649.3" y1="278.5" x2="655.9" y2="297.9" stroke="#000" stroke-width="0.65" />
<line x1="651.8" y1="277.6" x2="658.5" y2="297.0" stroke="#000" stroke-width="0.65" />
<line x1="654.4" y1="276.7" x2="661.0" y2="296.1" stroke="#000" stroke-width="0.65" />
<line x1="656.9" y1="275.9" x2="663.6" y2="295.2" stroke="#000" stroke-width="0.65" />
<line x1="659.5" y1="275.0" x2="666.1" y2="294.3" stroke="#000" stroke-width="0.65" />
<line x1="662.0" y1="274.1" x2="668.7" y2="293.5" stroke="#000" stroke-width="0.65" />
<line x1="664.6" y1="273.2" x2="671.2" y2="292.6" stroke="#000" stroke-width="0.65" />
<line x1="667.1" y1="272.3" x2="673.8" y2="291.7" stroke="#000" stroke-width="0.65" />
<line x1="558.0" y1="321.1" x2="671.4" y2="282.0" stroke="#000" stroke-width="0.7" />
<polygon points="555.3,310.4 575.2,303.5 582.0,323.4 562.2,330.2" fill="#333"/>
<line x1="555.3" y1="310.4" x2="556.5" y2="332.2" stroke="#bbb" stroke-width="0.5" />
<line x1="557.6" y1="309.6" x2="558.8" y2="331.4" stroke="#bbb" stroke-width="0.5" />
<line x1="559.9" y1="308.8" x2="561.1" y2="330.6" stroke="#bbb" stroke-width="0.5" />
<line x1="562.2" y1="308.0" x2="563.3" y2="329.8" stroke="#bbb" stroke-width="0.5" />
<line x1="564.4" y1="307.2" x2="565.6" y2="329.0" stroke="#bbb" stroke-width="0.5" />
<line x1="566.7" y1="306.5" x2="567.9" y2="328.3" stroke="#bbb" stroke-width="0.5" />
<line x1="569.0" y1="305.7" x2="570.1" y2="327.5" stroke="#bbb" stroke-width="0.5" />
<line x1="571.2" y1="304.9" x2="572.4" y2="326.7" stroke="#bbb" stroke-width="0.5" />
<line x1="573.5" y1="304.1" x2="574.7" y2="325.9" stroke="#bbb" stroke-width="0.5" />
<line x1="569.2" y1="277.0" x2="575.7" y2="295.9" stroke="#000" stroke-width="0.8" />
<line x1="573.1" y1="275.7" x2="579.6" y2="294.6" stroke="#000" stroke-width="0.8" />
<line x1="577.0" y1="274.4" x2="583.5" y2="293.3" stroke="#000" stroke-width="0.8" />
<line x1="580.8" y1="273.0" x2="587.4" y2="291.9" stroke="#000" stroke-width="0.8" />
<line x1="584.7" y1="271.7" x2="591.2" y2="290.6" stroke="#000" stroke-width="0.8" />
<line x1="588.6" y1="270.3" x2="595.1" y2="289.2" stroke="#000" stroke-width="0.8" />
<line x1="592.5" y1="269.0" x2="599.0" y2="287.9" stroke="#000" stroke-width="0.8" />
<line x1="596.3" y1="267.7" x2="602.9" y2="286.6" stroke="#000" stroke-width="0.8" />
<line x1="600.2" y1="266.3" x2="606.7" y2="285.2" stroke="#000" stroke-width="0.8" />
<line x1="604.1" y1="265.0" x2="610.6" y2="283.9" stroke="#000" stroke-width="0.8" />
<line x1="608.0" y1="263.7" x2="614.5" y2="282.6" stroke="#000" stroke-width="0.8" />
<line x1="611.8" y1="262.3" x2="618.4" y2="281.2" stroke="#000" stroke-width="0.8" />
<line x1="615.7" y1="261.0" x2="622.2" y2="279.9" stroke="#000" stroke-width="0.8" />
<line x1="619.6" y1="259.6" x2="626.1" y2="278.5" stroke="#000" stroke-width="0.8" />
<line x1="623.5" y1="258.3" x2="630.0" y2="277.2" stroke="#000" stroke-width="0.8" />
<line x1="627.3" y1="257.0" x2="633.9" y2="275.9" stroke="#000" stroke-width="0.8" />
<line x1="631.2" y1="255.6" x2="637.7" y2="274.5" stroke="#000" stroke-width="0.8" />
<line x1="635.1" y1="254.3" x2="641.6" y2="273.2" stroke="#000" stroke-width="0.8" />
<line x1="639.0" y1="253.0" x2="645.5" y2="271.9" stroke="#000" stroke-width="0.8" />
<line x1="642.8" y1="251.6" x2="649.4" y2="270.5" stroke="#000" stroke-width="0.8" />
<line x1="646.7" y1="250.3" x2="653.2" y2="269.2" stroke="#000" stroke-width="0.8" />
<line x1="650.6" y1="249.0" x2="657.1" y2="267.9" stroke="#000" stroke-width="0.8" />
<line x1="654.5" y1="247.6" x2="661.0" y2="266.5" stroke="#000" stroke-width="0.8" />
<line x1="658.3" y1="246.3" x2="664.9" y2="265.2" stroke="#000" stroke-width="0.8" />
<line x1="570.6" y1="287.1" x2="665.1" y2="254.5" stroke="#000" stroke-width="0.8" />
<polygon points="633.6,255.3 647.8,250.4 654.2,268.9 640.0,273.8" fill="#333"/>
<line x1="633.6" y1="255.3" x2="635.3" y2="275.4" stroke="#bbb" stroke-width="0.5" />
<line x1="635.9" y1="254.5" x2="637.5" y2="274.6" stroke="#bbb" stroke-width="0.5" />
<line x1="638.2" y1="253.8" x2="639.8" y2="273.8" stroke="#bbb" stroke-width="0.5" />
<line x1="640.5" y1="253.0" x2="642.1" y2="273.0" stroke="#bbb" stroke-width="0.5" />
<line x1="642.7" y1="252.2" x2="644.4" y2="272.3" stroke="#bbb" stroke-width="0.5" />
<line x1="645.0" y1="251.4" x2="646.6" y2="271.5" stroke="#bbb" stroke-width="0.5" />
<line x1="647.3" y1="250.6" x2="648.9" y2="270.7" stroke="#bbb" stroke-width="0.5" />
<rect x="628.2" y="262.1" width="7" height="3.4" fill="#fff" stroke="#000" stroke-width="0.5"/>
<line x1="589.0" y1="364.9" x2="700.5" y2="326.4" stroke="#000" stroke-width="0.6" />
<line x1="503.6" y1="269.8" x2="511.3" y2="289.3" stroke="#000" stroke-width="0.9" />
<line x1="507.6" y1="268.2" x2="515.3" y2="287.8" stroke="#000" stroke-width="0.9" />
<line x1="511.6" y1="266.6" x2="519.3" y2="286.2" stroke="#000" stroke-width="0.9" />
<line x1="515.6" y1="265.1" x2="523.3" y2="284.6" stroke="#000" stroke-width="0.9" />
<line x1="519.6" y1="263.5" x2="527.3" y2="283.0" stroke="#000" stroke-width="0.9" />
<line x1="523.6" y1="261.9" x2="531.3" y2="281.5" stroke="#000" stroke-width="0.9" />
<line x1="527.6" y1="260.3" x2="535.3" y2="279.9" stroke="#000" stroke-width="0.9" />
<line x1="531.6" y1="258.8" x2="539.3" y2="278.3" stroke="#000" stroke-width="0.9" />
<line x1="535.6" y1="257.2" x2="543.3" y2="276.7" stroke="#000" stroke-width="0.9" />
<line x1="539.6" y1="255.6" x2="547.3" y2="275.1" stroke="#000" stroke-width="0.9" />
<line x1="543.6" y1="254.0" x2="551.3" y2="273.6" stroke="#000" stroke-width="0.9" />
<line x1="547.6" y1="252.5" x2="555.3" y2="272.0" stroke="#000" stroke-width="0.9" />
<line x1="551.6" y1="250.9" x2="559.3" y2="270.4" stroke="#000" stroke-width="0.9" />
<line x1="555.6" y1="249.3" x2="563.3" y2="268.8" stroke="#000" stroke-width="0.9" />
<line x1="559.6" y1="247.7" x2="567.3" y2="267.3" stroke="#000" stroke-width="0.9" />
<line x1="563.6" y1="246.1" x2="571.3" y2="265.7" stroke="#000" stroke-width="0.9" />
<line x1="567.6" y1="244.6" x2="575.3" y2="264.1" stroke="#000" stroke-width="0.9" />
<line x1="571.6" y1="243.0" x2="579.3" y2="262.5" stroke="#000" stroke-width="0.9" />
<line x1="575.6" y1="241.4" x2="583.3" y2="261.0" stroke="#000" stroke-width="0.9" />
<line x1="579.6" y1="239.8" x2="587.3" y2="259.4" stroke="#000" stroke-width="0.9" />
<line x1="583.6" y1="238.3" x2="591.3" y2="257.8" stroke="#000" stroke-width="0.9" />
<line x1="587.6" y1="236.7" x2="595.3" y2="256.2" stroke="#000" stroke-width="0.9" />
<line x1="591.6" y1="235.1" x2="599.3" y2="254.6" stroke="#000" stroke-width="0.9" />
<line x1="595.6" y1="233.5" x2="603.3" y2="253.1" stroke="#000" stroke-width="0.9" />
<line x1="599.6" y1="232.0" x2="607.3" y2="251.5" stroke="#000" stroke-width="0.9" />
<line x1="603.6" y1="230.4" x2="611.3" y2="249.9" stroke="#000" stroke-width="0.9" />
<line x1="607.6" y1="228.8" x2="615.3" y2="248.3" stroke="#000" stroke-width="0.9" />
<line x1="611.6" y1="227.2" x2="619.3" y2="246.8" stroke="#000" stroke-width="0.9" />
<line x1="615.6" y1="225.6" x2="623.3" y2="245.2" stroke="#000" stroke-width="0.9" />
<line x1="619.6" y1="224.1" x2="627.3" y2="243.6" stroke="#000" stroke-width="0.9" />
<line x1="623.6" y1="222.5" x2="631.3" y2="242.0" stroke="#000" stroke-width="0.9" />
<line x1="627.6" y1="220.9" x2="635.3" y2="240.5" stroke="#000" stroke-width="0.9" />
<line x1="631.6" y1="219.3" x2="639.3" y2="238.9" stroke="#000" stroke-width="0.9" />
<line x1="635.6" y1="217.8" x2="643.3" y2="237.3" stroke="#000" stroke-width="0.9" />
<line x1="639.6" y1="216.2" x2="647.3" y2="235.7" stroke="#000" stroke-width="0.9" />
<line x1="643.6" y1="214.6" x2="651.3" y2="234.1" stroke="#000" stroke-width="0.9" />
<line x1="647.6" y1="213.0" x2="655.3" y2="232.6" stroke="#000" stroke-width="0.9" />
<line x1="651.6" y1="211.5" x2="659.3" y2="231.0" stroke="#000" stroke-width="0.9" />
<line x1="655.6" y1="209.9" x2="663.3" y2="229.4" stroke="#000" stroke-width="0.9" />
<line x1="659.6" y1="208.3" x2="667.3" y2="227.8" stroke="#000" stroke-width="0.9" />
<line x1="663.6" y1="206.7" x2="671.3" y2="226.3" stroke="#000" stroke-width="0.9" />
<line x1="667.6" y1="205.2" x2="675.3" y2="224.7" stroke="#000" stroke-width="0.9" />
<line x1="671.6" y1="203.6" x2="679.3" y2="223.1" stroke="#000" stroke-width="0.9" />
<line x1="675.6" y1="202.0" x2="683.3" y2="221.5" stroke="#000" stroke-width="0.9" />
<line x1="679.6" y1="200.4" x2="687.3" y2="220.0" stroke="#000" stroke-width="0.9" />
<line x1="683.6" y1="198.8" x2="691.3" y2="218.4" stroke="#000" stroke-width="0.9" />
<line x1="687.6" y1="197.3" x2="695.3" y2="216.8" stroke="#000" stroke-width="0.9" />
<line x1="691.6" y1="195.7" x2="699.3" y2="215.2" stroke="#000" stroke-width="0.9" />
<line x1="695.6" y1="194.1" x2="703.3" y2="213.7" stroke="#000" stroke-width="0.9" />
<line x1="699.6" y1="192.5" x2="707.3" y2="212.1" stroke="#000" stroke-width="0.9" />
<line x1="703.6" y1="191.0" x2="711.3" y2="210.5" stroke="#000" stroke-width="0.9" />
<line x1="707.6" y1="189.4" x2="715.3" y2="208.9" stroke="#000" stroke-width="0.9" />
<line x1="711.6" y1="187.8" x2="719.3" y2="207.3" stroke="#000" stroke-width="0.9" />
<polyline points="470.0,303.0 500.0,281.0 530.0,262.0 560.0,248.0 720.0,184.5 742.0,178.0" fill="none" stroke="#000" stroke-width="0.8" />
<polyline points="478.0,287.0 520.0,266.0 560.0,244.0 716.0,181.5" fill="none" stroke="#000" stroke-width="0.7" />
<polyline points="664.1,300.1 664.7,299.9 665.4,299.7 666.1,299.4 666.9,299.2 667.8,298.9 668.8,298.5 669.9,298.1 671.2,297.6 672.9,297.0 674.7,296.4 676.6,295.7 678.5,295.0 680.2,294.3 681.9,293.7 683.2,293.0 684.4,292.3 685.5,291.6 686.8,290.7 687.9,289.8 689.1,288.8 690.1,287.8 691.1,286.8 692.0,285.8 692.8,284.7 693.7,283.4 694.5,282.2 695.2,280.9 695.9,279.5 696.5,278.1 697.1,276.7 697.6,275.1 698.1,273.4 698.4,271.7 698.8,269.7 699.0,267.4 699.3,265.0 699.4,262.5 699.6,259.9 699.7,257.3 699.8,254.7 699.8,252.4 699.7,250.0 699.6,247.3 699.4,244.6 699.3,241.8 699.2,238.9 699.1,236.0 699.3,233.2 699.5,230.8 699.8,228.5 700.2,226.3 700.7,224.1 701.4,221.8 702.3,219.5 703.5,217.2 705.0,214.9 706.9,212.8 709.0,211.0 711.2,209.5 713.4,208.3 715.7,207.3 718.1,206.5 720.6,206.0 723.3,205.8 726.0,205.9 728.6,206.3 731.0,207.1 733.3,208.0 735.5,209.1 737.6,210.4 739.5,211.9 741.6,213.9 743.5,216.5 744.8,219.1 745.8,221.4 746.5,223.5 747.1,225.4 747.5,227.0 747.8,228.0 748.0,228.7" fill="none" stroke="#000" stroke-width="1.5" />
<polyline points="664.9,302.7 665.5,302.5 666.2,302.2 666.9,302.0 667.8,301.7 668.7,301.4 669.7,301.1 670.8,300.7 672.2,300.2 673.8,299.6 675.6,298.9 677.5,298.2 679.4,297.6 681.3,296.8 683.0,296.1 684.5,295.4 685.8,294.6 687.1,293.8 688.4,292.8 689.7,291.9 690.9,290.8 692.0,289.7 693.1,288.6 694.1,287.5 695.0,286.2 695.9,284.9 696.8,283.6 697.6,282.2 698.3,280.7 699.0,279.2 699.6,277.6 700.2,275.9 700.7,274.1 701.1,272.2 701.4,270.0 701.7,267.7 701.9,265.2 702.1,262.7 702.3,260.0 702.4,257.4 702.5,254.8 702.5,252.4 702.4,249.9 702.3,247.2 702.1,244.4 702.0,241.6 701.9,238.8 701.8,236.0 702.0,233.4 702.2,231.1 702.5,228.9 702.8,226.8 703.3,224.7 703.9,222.6 704.7,220.6 705.8,218.5 707.2,216.5 708.8,214.7 710.6,213.1 712.6,211.8 714.6,210.7 716.6,209.8 718.8,209.1 721.0,208.7 723.3,208.5 725.7,208.6 728.0,209.0 730.1,209.6 732.2,210.4 734.1,211.4 736.0,212.6 737.8,214.0 739.6,215.7 741.2,217.9 742.4,220.2 743.3,222.3 743.9,224.3 744.5,226.2 744.9,227.7 745.2,228.8 745.4,229.5" fill="none" stroke="#000" stroke-width="1.125" />
<polyline points="670.8,320.5 671.2,320.4 671.8,320.2 672.6,319.9 673.6,319.6 674.7,319.2 676.0,318.8 677.4,318.3 678.8,317.8 680.2,317.2 681.9,316.6 683.9,316.0 686.0,315.2 688.4,314.3 690.8,313.2 693.3,312.0 695.6,310.7 697.7,309.3 699.7,307.9 701.6,306.4 703.4,304.8 705.3,303.1 707.0,301.3 708.6,299.3 710.2,297.3 711.6,295.3 712.9,293.2 714.1,291.1 715.3,288.8 716.4,286.4 717.3,283.9 718.2,281.3 718.9,278.6 719.6,275.7 720.1,272.7 720.4,269.7 720.7,266.7 720.9,263.8 721.0,260.9 721.1,258.1 721.2,255.3 721.3,252.2 721.2,249.1 721.1,246.2 720.9,243.4 720.7,240.7 720.6,238.4 720.6,236.4 720.7,234.8 720.9,233.2 721.1,231.7 721.3,230.4 721.5,229.4 721.7,228.8 721.9,228.3 722.0,228.1 722.0,228.1 722.0,228.1 722.1,228.0 722.4,227.8 722.8,227.6 723.2,227.4 723.6,227.3 723.8,227.2 723.7,227.2 723.6,227.2 723.7,227.3 724.0,227.4 724.4,227.5 724.9,227.8 725.3,228.0 725.5,228.2 725.4,228.1 725.2,227.8 725.3,228.0 725.6,228.9 726.0,230.0 726.4,231.4 726.8,232.8 727.2,234.2 727.6,235.3" fill="none" stroke="#000" stroke-width="1.5" />
<polyline points="669.9,317.9 670.4,317.8 671.0,317.6 671.8,317.3 672.8,317.0 673.9,316.7 675.1,316.3 676.4,315.8 677.8,315.2 679.3,314.7 681.0,314.1 682.9,313.4 685.1,312.6 687.3,311.8 689.7,310.8 692.0,309.6 694.2,308.4 696.2,307.1 698.1,305.7 699.9,304.3 701.6,302.8 703.3,301.2 705.0,299.5 706.5,297.6 708.0,295.8 709.3,293.8 710.6,291.9 711.8,289.8 712.9,287.6 713.9,285.4 714.8,283.0 715.6,280.5 716.3,277.9 716.9,275.2 717.4,272.3 717.7,269.4 718.0,266.5 718.2,263.6 718.3,260.8 718.4,258.0 718.5,255.2 718.6,252.3 718.5,249.2 718.4,246.3 718.2,243.5 718.0,240.9 718.0,238.5 717.9,236.4 718.0,234.6 718.2,232.9 718.4,231.3 718.6,229.9 718.9,228.8 719.1,227.9 719.4,227.2 719.6,226.8 719.8,226.5 720.1,226.2 720.4,225.9 721.0,225.5 721.6,225.2 722.3,224.9 722.9,224.7 723.4,224.6 723.7,224.5 723.9,224.6 724.3,224.6 724.9,224.8 725.5,225.1 726.2,225.4 726.8,225.8 727.3,226.2 727.4,226.3 727.5,226.4 727.8,226.9 728.2,227.9 728.6,229.2 729.0,230.6 729.4,232.0 729.8,233.4 730.2,234.5" fill="none" stroke="#000" stroke-width="1.125" />
<polyline points="667.4,310.3 667.9,310.1 668.6,309.9 669.4,309.7 670.3,309.4 671.3,309.1 672.4,308.7 673.6,308.2 675.0,307.7 676.5,307.1 678.3,306.5 680.2,305.8 682.3,305.1 684.3,304.3 686.3,303.4 688.2,302.5 690.0,301.5 691.6,300.4 693.2,299.3 694.8,298.1 696.2,296.8 697.7,295.5 699.0,294.0 700.3,292.6 701.5,291.0 702.6,289.4 703.7,287.7 704.7,286.0 705.6,284.2 706.4,282.3 707.2,280.3 707.9,278.2 708.5,276.0 709.0,273.7 709.4,271.2 709.7,268.6 710.0,265.9 710.2,263.1 710.3,260.4 710.4,257.7 710.5,255.0 710.5,252.3 710.5,249.6 710.3,246.8 710.2,244.0 710.0,241.3 709.9,238.7 709.9,236.2 710.0,234.0 710.2,232.0 710.4,230.1 710.7,228.4 711.1,226.8 711.5,225.3 712.1,223.9 712.7,222.6 713.5,221.5 714.4,220.5 715.5,219.5 716.8,218.7 718.1,217.9 719.5,217.3 720.8,216.9 722.2,216.6 723.5,216.5 724.8,216.6 726.1,216.8 727.5,217.2 728.9,217.8 730.2,218.4 731.4,219.2 732.5,220.1 733.5,221.0 734.3,222.1 735.1,223.6 735.7,225.1 736.3,226.8 736.8,228.4 737.2,229.9 737.5,231.1 737.8,232.0" fill="none" stroke="#000" stroke-width="0.9" />
<polyline points="749.4,229.0 749.7,230.2 750.0,231.4 750.3,232.7 750.4,234.0 750.5,235.1 750.7,236.5 750.9,238.6 751.2,241.6 751.7,245.8 752.3,250.8 752.9,256.5 753.6,262.7 754.3,269.2 755.1,275.9 755.8,282.4 756.5,288.6 757.3,295.0 758.1,301.8 758.9,308.8 759.7,315.7 760.5,322.4 761.2,328.6 761.9,334.0 762.5,338.4 762.9,341.8 763.3,344.2 763.5,345.8 763.7,346.7 763.8,347.1 763.9,347.5 764.1,348.3 764.5,349.5 764.9,350.8 764.8,351.6 765.2,350.6 765.7,349.0 765.9,345.9 765.6,341.4 765.0,335.6 764.3,328.8 763.6,321.4 762.8,313.6 761.9,305.8 761.1,298.2 760.4,291.3 759.7,284.5 758.9,277.6 758.2,270.6 757.4,263.8 756.7,257.3 756.0,251.3 755.4,246.0 754.8,241.5" fill="none" stroke="#000" stroke-width="1.5" />
<polyline points="746.8,229.6 747.1,230.8 747.4,231.9 747.6,233.1 747.7,234.3 747.8,235.4 748.0,236.8 748.2,238.9 748.5,241.9 749.0,246.1 749.6,251.1 750.2,256.8 750.9,263.0 751.6,269.5 752.4,276.2 753.1,282.7 753.8,288.9 754.6,295.3 755.4,302.1 756.2,309.1 757.0,316.0 757.8,322.7 758.6,328.9 759.2,334.3 759.8,338.8 760.3,342.2 760.6,344.6 760.9,346.3 761.0,347.2 761.1,347.8 761.3,348.2 761.5,349.1 761.9,350.3 762.3,351.6 762.7,352.9 763.1,354.0 763.5,355.0 763.9,355.8 764.2,356.4 764.4,356.7 764.5,356.8 764.5,356.9 764.6,357.0 764.7,357.0 764.9,357.1 765.0,357.2 765.1,357.2 765.1,357.2 765.0,357.2 764.9,357.2 764.9,357.2 765.0,357.2 765.1,357.1 765.3,357.0 765.4,357.0 765.5,356.9 765.5,356.9 765.5,356.8 765.8,356.4 766.2,355.7 766.6,354.7 767.0,353.6 767.4,352.5 767.8,351.4 768.2,349.9 768.8,348.8 768.6,345.7 768.2,341.2 767.7,335.3 767.0,328.5 766.3,321.1 765.4,313.3 764.6,305.5 763.8,297.9 763.1,291.0 762.3,284.3 761.6,277.3 760.8,270.3 760.1,263.5 759.4,257.0 758.7,251.0 758.1,245.7 757.5,241.2" fill="none" stroke="#000" stroke-width="1.1" />
<polyline points="726.2,235.0 726.5,236.1 726.6,236.4 726.5,236.4 726.6,236.5 726.6,237.4 726.8,238.9 727.0,241.2 727.4,244.4 727.9,248.5 728.4,253.5 729.1,259.2 729.7,265.4 730.5,271.9 731.2,278.5 732.0,285.1 732.7,291.4 733.4,297.8 734.2,304.6 735.0,311.6 735.9,318.5 736.7,325.3 737.4,331.5 738.1,337.0 738.7,341.6 739.2,345.0 739.5,347.6 739.8,349.6 740.1,351.3 740.4,352.8 740.8,354.2 741.1,355.3 741.5,356.5 742.0,358.1 742.5,359.7 743.2,361.5 743.9,363.3 744.7,365.1 745.7,367.0 747.0,369.0 748.5,370.9 750.3,372.7 752.1,374.2 754.1,375.5 756.1,376.5 758.2,377.3 760.4,378.0 762.6,378.4 765.0,378.5 767.4,378.4 769.6,378.0 771.8,377.3 773.9,376.5 775.9,375.5 777.9,374.2 779.7,372.7 781.5,370.9 783.2,368.8 784.4,366.7 785.4,364.8 786.2,362.9 786.9,361.1 787.6,359.4 788.1,357.8 788.6,357.6 790.2,352.4 790.2,350.0 790.1,347.5 789.9,344.1 789.5,339.3 788.9,333.3 788.2,326.4 787.4,318.9 786.6,311.1 785.8,303.2 785.0,295.7 784.2,288.7 783.5,282.0 782.8,275.1 782.0,268.1 781.3,261.2 780.5,254.6 779.8,248.5 779.2,243.1 778.6,238.5" fill="none" stroke="#000" stroke-width="1.5" />
<polyline points="728.8,234.4 729.1,235.4 729.2,235.9 729.2,235.9 729.2,236.2 729.3,237.1 729.5,238.6 729.7,240.9 730.1,244.1 730.5,248.2 731.1,253.2 731.7,258.9 732.4,265.1 733.2,271.6 733.9,278.2 734.6,284.8 735.4,291.1 736.1,297.4 736.9,304.2 737.7,311.2 738.5,318.2 739.3,324.9 740.1,331.2 740.8,336.7 741.4,341.2 741.8,344.7 742.2,347.2 742.5,349.2 742.8,350.8 743.1,352.2 743.4,353.4 743.7,354.5 744.1,355.7 744.6,357.2 745.1,358.9 745.7,360.5 746.4,362.2 747.1,363.9 748.1,365.7 749.2,367.4 750.5,369.2 752.1,370.7 753.7,372.0 755.4,373.1 757.2,374.1 759.1,374.8 761.0,375.3 762.9,375.7 765.0,375.8 767.1,375.7 769.0,375.3 770.9,374.8 772.8,374.1 774.6,373.1 776.3,372.0 777.9,370.7 779.5,369.1 780.9,367.3 782.1,365.4 783.0,363.6 783.8,361.9 784.4,360.1 785.0,358.5 785.5,357.0 786.2,356.3 787.5,352.2 787.5,350.0 787.4,347.7 787.2,344.3 786.8,339.5 786.2,333.5 785.5,326.7 784.8,319.2 783.9,311.3 783.1,303.5 782.3,296.0 781.5,289.0 780.8,282.3 780.1,275.3 779.3,268.3 778.6,261.5 777.9,254.9 777.2,248.8 776.5,243.4 775.9,238.8" fill="none" stroke="#000" stroke-width="1.1" />
<polyline points="737.8,232.0 738.1,233.1 738.3,233.9 738.4,234.5 738.5,235.2 738.6,236.2 738.7,237.7 738.9,239.9 739.3,243.0 739.8,247.1 740.3,252.1 741.0,257.9 741.7,264.1 742.4,270.6 743.1,277.2 743.9,283.7 744.6,290.0 745.3,296.4 746.1,303.2 747.0,310.2 747.8,317.1 748.6,323.8 749.3,330.0 750.0,335.5 750.6,340.0 751.1,343.4 751.4,345.9 751.7,347.7 751.9,349.0 752.1,350.0 752.3,350.8 752.6,351.8 753.0,353.0 753.4,354.4 753.9,355.9 754.4,357.3 754.9,358.6 755.5,359.9 756.1,361.0 756.8,362.1 757.5,363.0 758.3,363.8 759.2,364.5 760.1,365.1 761.1,365.6 762.1,366.0 763.1,366.3 764.0,366.4 765.0,366.5 766.0,366.4 766.9,366.3 767.9,366.0 768.9,365.6 769.9,365.1 770.8,364.5 771.7,363.8 772.5,363.0 773.2,362.0 773.9,360.9 774.6,359.6 775.2,358.3 775.7,356.9 776.2,355.5 776.6,354.2 777.0,353.0 777.3,352.2 777.6,352.0 777.9,351.9 778.1,351.8 778.2,351.4 778.2,350.3 778.1,348.2 777.9,345.0 777.5,340.3 777.0,334.4 776.3,327.6 775.5,320.1 774.7,312.3 773.9,304.5 773.0,297.0 772.3,290.0 771.6,283.3 770.8,276.3 770.1,269.3 769.4,262.5 768.6,256.0 767.9,249.9 767.3,244.5 766.7,240.0" fill="none" stroke="#000" stroke-width="0.9" />
<polyline points="756.3,241.4 755.8,237.9 755.4,235.4 755.2,233.7 754.9,232.6 754.8,232.0 754.5,231.2 754.1,230.1 753.6,228.5 753.0,226.7 752.3,225.1 751.6,223.4 750.9,221.7 750.1,220.0 749.3,218.4 748.4,217.0 747.6,215.6 746.8,214.3 745.9,213.1 745.0,211.9 744.1,210.8 743.2,209.8 742.3,208.8 741.3,207.9 740.3,207.1 739.2,206.2 738.1,205.4 737.0,204.6 736.0,204.0 735.0,203.5 734.3,203.2 733.7,203.0 733.3,202.9 733.0,202.8 732.7,202.8 732.3,202.9 731.6,203.1 730.5,203.3 729.0,203.8 727.2,204.4 725.1,205.0" fill="none" stroke="#000" stroke-width="1.5" />
<polyline points="759.0,241.1 758.5,237.5 758.1,235.0 757.8,233.2 757.6,232.0 757.4,231.2 757.1,230.4 756.7,229.2 756.1,227.6 755.5,225.8 754.8,224.1 754.1,222.3 753.3,220.5 752.5,218.8 751.6,217.2 750.8,215.6 749.9,214.2 749.0,212.8 748.1,211.5 747.1,210.2 746.1,209.1 745.2,207.9 744.1,206.9 743.1,205.9 742.0,205.0 740.9,204.1 739.7,203.2 738.5,202.4 737.3,201.7 736.2,201.1 735.3,200.6 734.4,200.4 733.7,200.2 733.1,200.1 732.5,200.1 731.9,200.2 731.0,200.4 729.8,200.8 728.2,201.2 726.4,201.8 724.3,202.5" fill="none" stroke="#000" stroke-width="1.1" />
<polyline points="777.1,238.6 776.6,235.0 776.2,232.2 775.8,229.9 775.4,228.0 775.0,226.2 774.5,224.6 774.0,223.2 773.4,221.5 772.7,219.4 771.8,217.3 770.9,215.0 769.9,212.8 768.9,210.7 767.8,208.5 766.6,206.4 765.4,204.4 764.1,202.5 762.8,200.6 761.5,198.9 760.0,197.1 758.5,195.5 757.0,193.9 755.3,192.3 753.7,190.9 752.0,189.6 750.3,188.3 748.5,187.0 746.5,185.8 744.3,184.7 742.0,183.6 739.4,182.7 736.7,182.1 734.0,181.9 731.3,181.9 728.9,182.2 726.7,182.6 724.7,183.2 722.8,183.8 720.9,184.3 718.9,185.0" fill="none" stroke="#000" stroke-width="1.5" />
<polyline points="774.4,238.9 773.9,235.4 773.5,232.6 773.2,230.4 772.8,228.6 772.4,227.0 771.9,225.5 771.4,224.1 770.9,222.4 770.1,220.4 769.3,218.3 768.4,216.1 767.5,214.0 766.5,211.9 765.4,209.8 764.3,207.8 763.1,205.8 761.9,204.0 760.6,202.2 759.3,200.5 758.0,198.9 756.6,197.3 755.1,195.8 753.5,194.3 752.0,193.0 750.4,191.7 748.7,190.5 747.0,189.3 745.1,188.2 743.1,187.1 741.0,186.1 738.7,185.3 736.3,184.8 733.8,184.6 731.5,184.6 729.3,184.8 727.3,185.3 725.4,185.8 723.6,186.3 721.7,186.9 719.7,187.5" fill="none" stroke="#000" stroke-width="1.1" />
<polyline points="766.7,240.0 766.2,236.5 765.8,233.8 765.5,231.8 765.2,230.3 764.9,229.1 764.5,227.9 764.1,226.6 763.5,225.0 762.8,223.1 762.1,221.2 761.3,219.2 760.4,217.2 759.5,215.3 758.5,213.5 757.5,211.7 756.5,210.0 755.4,208.4 754.4,206.9 753.2,205.4 752.1,204.0 750.9,202.6 749.6,201.3 748.3,200.1 747.0,199.0 745.6,197.9 744.2,196.8 742.7,195.8 741.2,194.9 739.7,194.1 738.1,193.4 736.6,192.9 735.0,192.5 733.5,192.3 732.0,192.4 730.6,192.5 729.1,192.8 727.6,193.3 725.9,193.8 724.1,194.4 722.0,195.0" fill="none" stroke="#000" stroke-width="0.9" />
<polyline points="721.5,232.0 722.0,229.5 723.7,228.0 725.5,229.5 726.0,232.0 733.0,292.0" fill="none" stroke="#000" stroke-width="1.2" />
<polyline points="721.5,232.0 727.5,285.0" fill="none" stroke="#000" stroke-width="1.0" />
<polyline points="765.0,352.5 755.5,270.0 750.5,232.0 746.0,215.0 737.0,207.0 724.0,204.5 711.0,208.0 702.5,217.0 699.0,229.0 698.5,253.0 701.0,275.0 699.5,296.0 693.0,308.0" fill="none" stroke="#000" stroke-width="3.6" stroke-linecap="round" stroke-linejoin="round"/>
<polyline points="765.0,352.5 755.5,270.0 750.5,232.0 746.0,215.0 737.0,207.0 724.0,204.5 711.0,208.0 702.5,217.0 699.0,229.0 698.5,253.0 701.0,275.0 699.5,296.0 693.0,308.0" fill="none" stroke="#fff" stroke-width="1.6" stroke-dasharray="0.9 1.1" stroke-linejoin="round"/>
<line x1="727.3" y1="236.0" x2="750.3" y2="235.4" stroke="#000" stroke-width="0.75" />
<line x1="727.6" y1="238.9" x2="750.6" y2="238.3" stroke="#000" stroke-width="0.75" />
<line x1="727.9" y1="241.8" x2="750.9" y2="241.2" stroke="#000" stroke-width="0.75" />
<line x1="728.2" y1="244.7" x2="751.2" y2="244.1" stroke="#000" stroke-width="0.75" />
<line x1="728.6" y1="247.6" x2="751.6" y2="247.0" stroke="#000" stroke-width="0.75" />
<line x1="728.9" y1="250.5" x2="751.9" y2="249.9" stroke="#000" stroke-width="0.75" />
<line x1="729.2" y1="253.4" x2="752.2" y2="252.8" stroke="#000" stroke-width="0.75" />
<line x1="729.5" y1="256.3" x2="752.5" y2="255.7" stroke="#000" stroke-width="0.75" />
<line x1="729.9" y1="259.2" x2="752.9" y2="258.6" stroke="#000" stroke-width="0.75" />
<line x1="730.2" y1="262.1" x2="753.2" y2="261.5" stroke="#000" stroke-width="0.75" />
<line x1="730.5" y1="265.0" x2="753.5" y2="264.4" stroke="#000" stroke-width="0.75" />
<line x1="730.9" y1="267.9" x2="753.9" y2="267.3" stroke="#000" stroke-width="0.75" />
<line x1="731.2" y1="270.8" x2="754.2" y2="270.2" stroke="#000" stroke-width="0.75" />
<line x1="731.5" y1="273.7" x2="754.5" y2="273.1" stroke="#000" stroke-width="0.75" />
<line x1="731.8" y1="276.6" x2="754.8" y2="276.0" stroke="#000" stroke-width="0.75" />
<line x1="732.2" y1="279.5" x2="755.2" y2="278.9" stroke="#000" stroke-width="0.75" />
<line x1="732.5" y1="282.4" x2="755.5" y2="281.8" stroke="#000" stroke-width="0.75" />
<line x1="732.8" y1="285.3" x2="755.8" y2="284.7" stroke="#000" stroke-width="0.75" />
<line x1="733.2" y1="288.2" x2="756.2" y2="287.6" stroke="#000" stroke-width="0.75" />
<line x1="733.5" y1="291.1" x2="756.5" y2="290.5" stroke="#000" stroke-width="0.75" />
<line x1="733.8" y1="294.0" x2="756.8" y2="293.4" stroke="#000" stroke-width="0.75" />
<line x1="734.1" y1="296.9" x2="757.1" y2="296.3" stroke="#000" stroke-width="0.75" />
<line x1="734.5" y1="299.8" x2="757.5" y2="299.2" stroke="#000" stroke-width="0.75" />
<line x1="734.8" y1="302.7" x2="757.8" y2="302.1" stroke="#000" stroke-width="0.75" />
<line x1="735.1" y1="305.6" x2="758.1" y2="305.0" stroke="#000" stroke-width="0.75" />
<line x1="735.4" y1="308.5" x2="758.4" y2="307.9" stroke="#000" stroke-width="0.75" />
<line x1="735.8" y1="311.4" x2="758.8" y2="310.8" stroke="#000" stroke-width="0.75" />
<line x1="736.1" y1="314.3" x2="759.1" y2="313.7" stroke="#000" stroke-width="0.75" />
<line x1="736.4" y1="317.2" x2="759.4" y2="316.6" stroke="#000" stroke-width="0.75" />
<line x1="736.8" y1="320.1" x2="759.8" y2="319.5" stroke="#000" stroke-width="0.75" />
<line x1="737.1" y1="323.0" x2="760.1" y2="322.4" stroke="#000" stroke-width="0.75" />
<line x1="737.4" y1="325.9" x2="760.4" y2="325.3" stroke="#000" stroke-width="0.75" />
<line x1="737.7" y1="328.8" x2="760.7" y2="328.2" stroke="#000" stroke-width="0.75" />
<line x1="738.1" y1="331.7" x2="761.1" y2="331.1" stroke="#000" stroke-width="0.75" />
<line x1="738.4" y1="334.6" x2="761.4" y2="334.0" stroke="#000" stroke-width="0.75" />
<line x1="738.7" y1="337.5" x2="761.7" y2="336.9" stroke="#000" stroke-width="0.75" />
<line x1="739.1" y1="340.4" x2="762.1" y2="339.8" stroke="#000" stroke-width="0.75" />
<line x1="739.4" y1="343.3" x2="762.4" y2="342.7" stroke="#000" stroke-width="0.75" />
<line x1="754.4" y1="246.0" x2="785.4" y2="245.3" stroke="#000" stroke-width="0.75" />
<line x1="754.8" y1="249.3" x2="785.8" y2="248.6" stroke="#000" stroke-width="0.75" />
<line x1="755.1" y1="252.6" x2="786.1" y2="251.9" stroke="#000" stroke-width="0.75" />
<line x1="755.5" y1="255.9" x2="786.5" y2="255.2" stroke="#000" stroke-width="0.75" />
<line x1="755.9" y1="259.2" x2="786.9" y2="258.5" stroke="#000" stroke-width="0.75" />
<line x1="756.2" y1="262.5" x2="787.2" y2="261.8" stroke="#000" stroke-width="0.75" />
<line x1="756.6" y1="265.8" x2="787.6" y2="265.1" stroke="#000" stroke-width="0.75" />
<line x1="757.0" y1="269.1" x2="788.0" y2="268.4" stroke="#000" stroke-width="0.75" />
<line x1="757.4" y1="272.4" x2="788.4" y2="271.7" stroke="#000" stroke-width="0.75" />
<line x1="757.7" y1="275.7" x2="788.7" y2="275.0" stroke="#000" stroke-width="0.75" />
<line x1="758.1" y1="279.0" x2="789.1" y2="278.3" stroke="#000" stroke-width="0.75" />
<line x1="758.5" y1="282.3" x2="789.5" y2="281.6" stroke="#000" stroke-width="0.75" />
<line x1="758.9" y1="285.6" x2="789.9" y2="284.9" stroke="#000" stroke-width="0.75" />
<line x1="759.2" y1="288.9" x2="790.2" y2="288.2" stroke="#000" stroke-width="0.75" />
<line x1="759.6" y1="292.2" x2="790.6" y2="291.5" stroke="#000" stroke-width="0.75" />
<line x1="760.0" y1="295.5" x2="791.0" y2="294.8" stroke="#000" stroke-width="0.75" />
<line x1="760.4" y1="298.8" x2="791.4" y2="298.1" stroke="#000" stroke-width="0.75" />
<line x1="760.7" y1="302.1" x2="791.7" y2="301.4" stroke="#000" stroke-width="0.75" />
<line x1="761.1" y1="305.4" x2="792.1" y2="304.7" stroke="#000" stroke-width="0.75" />
<line x1="761.5" y1="308.7" x2="792.5" y2="308.0" stroke="#000" stroke-width="0.75" />
<line x1="761.8" y1="312.0" x2="792.8" y2="311.3" stroke="#000" stroke-width="0.75" />
<line x1="762.2" y1="315.3" x2="793.2" y2="314.6" stroke="#000" stroke-width="0.75" />
<line x1="762.6" y1="318.6" x2="793.6" y2="317.9" stroke="#000" stroke-width="0.75" />
<line x1="763.0" y1="321.9" x2="794.0" y2="321.2" stroke="#000" stroke-width="0.75" />
<line x1="763.3" y1="325.2" x2="794.3" y2="324.5" stroke="#000" stroke-width="0.75" />
<line x1="763.7" y1="328.5" x2="794.7" y2="327.8" stroke="#000" stroke-width="0.75" />
<line x1="764.1" y1="331.8" x2="795.1" y2="331.1" stroke="#000" stroke-width="0.75" />
<line x1="764.5" y1="335.1" x2="795.5" y2="334.4" stroke="#000" stroke-width="0.75" />
<line x1="764.8" y1="338.4" x2="795.8" y2="337.7" stroke="#000" stroke-width="0.75" />
<line x1="765.2" y1="341.7" x2="796.2" y2="341.0" stroke="#000" stroke-width="0.75" />
<line x1="788.1" y1="252.0" x2="793.1" y2="251.8" stroke="#000" stroke-width="0.7" />
<line x1="788.5" y1="255.6" x2="793.5" y2="255.4" stroke="#000" stroke-width="0.7" />
<line x1="788.9" y1="259.2" x2="793.9" y2="259.0" stroke="#000" stroke-width="0.7" />
<line x1="789.3" y1="262.8" x2="794.3" y2="262.6" stroke="#000" stroke-width="0.7" />
<line x1="789.7" y1="266.4" x2="794.7" y2="266.2" stroke="#000" stroke-width="0.7" />
<line x1="790.1" y1="270.0" x2="795.1" y2="269.8" stroke="#000" stroke-width="0.7" />
<line x1="790.5" y1="273.6" x2="795.5" y2="273.4" stroke="#000" stroke-width="0.7" />
<line x1="790.9" y1="277.2" x2="795.9" y2="277.0" stroke="#000" stroke-width="0.7" />
<line x1="791.3" y1="280.8" x2="796.3" y2="280.6" stroke="#000" stroke-width="0.7" />
<line x1="791.7" y1="284.4" x2="796.7" y2="284.2" stroke="#000" stroke-width="0.7" />
<line x1="792.1" y1="288.0" x2="797.1" y2="287.8" stroke="#000" stroke-width="0.7" />
<line x1="792.5" y1="291.6" x2="797.5" y2="291.4" stroke="#000" stroke-width="0.7" />
<line x1="792.9" y1="295.2" x2="797.9" y2="295.0" stroke="#000" stroke-width="0.7" />
<line x1="793.4" y1="298.8" x2="809.4" y2="298.3" stroke="#000" stroke-width="0.7" />
<line x1="793.8" y1="302.4" x2="809.8" y2="301.9" stroke="#000" stroke-width="0.7" />
<line x1="794.2" y1="306.0" x2="810.2" y2="305.5" stroke="#000" stroke-width="0.7" />
<line x1="794.6" y1="309.6" x2="810.6" y2="309.1" stroke="#000" stroke-width="0.7" />
<line x1="795.0" y1="313.2" x2="811.0" y2="312.7" stroke="#000" stroke-width="0.7" />
<line x1="795.4" y1="316.8" x2="811.4" y2="316.3" stroke="#000" stroke-width="0.7" />
<line x1="795.8" y1="320.4" x2="811.8" y2="319.9" stroke="#000" stroke-width="0.7" />
<line x1="796.2" y1="324.0" x2="812.2" y2="323.5" stroke="#000" stroke-width="0.7" />
<line x1="796.6" y1="327.6" x2="812.6" y2="327.1" stroke="#000" stroke-width="0.7" />
<line x1="797.0" y1="331.2" x2="813.0" y2="330.7" stroke="#000" stroke-width="0.7" />
<line x1="797.4" y1="334.8" x2="813.4" y2="334.3" stroke="#000" stroke-width="0.7" />
<line x1="797.8" y1="338.4" x2="813.8" y2="337.9" stroke="#000" stroke-width="0.7" />
<line x1="798.2" y1="342.0" x2="814.2" y2="341.5" stroke="#000" stroke-width="0.7" />
<line x1="807.2" y1="262.0" x2="815.2" y2="261.6" stroke="#000" stroke-width="0.7" />
<line x1="807.6" y1="265.6" x2="815.6" y2="265.2" stroke="#000" stroke-width="0.7" />
<line x1="808.0" y1="269.2" x2="816.0" y2="268.8" stroke="#000" stroke-width="0.7" />
<line x1="808.4" y1="272.8" x2="816.4" y2="272.4" stroke="#000" stroke-width="0.7" />
<line x1="808.8" y1="276.4" x2="816.8" y2="276.0" stroke="#000" stroke-width="0.7" />
<line x1="809.2" y1="280.0" x2="817.2" y2="279.6" stroke="#000" stroke-width="0.7" />
<line x1="809.6" y1="283.6" x2="817.6" y2="283.2" stroke="#000" stroke-width="0.7" />
<line x1="810.0" y1="287.2" x2="818.0" y2="286.8" stroke="#000" stroke-width="0.7" />
<line x1="810.4" y1="290.8" x2="818.4" y2="290.4" stroke="#000" stroke-width="0.7" />
<line x1="810.9" y1="294.4" x2="818.9" y2="294.0" stroke="#000" stroke-width="0.7" />
<line x1="811.3" y1="298.0" x2="819.3" y2="297.6" stroke="#000" stroke-width="0.7" />
<line x1="811.7" y1="301.6" x2="819.7" y2="301.2" stroke="#000" stroke-width="0.7" />
<line x1="812.1" y1="305.2" x2="820.1" y2="304.8" stroke="#000" stroke-width="0.7" />
<line x1="812.5" y1="308.8" x2="820.5" y2="308.4" stroke="#000" stroke-width="0.7" />
<line x1="812.9" y1="312.4" x2="820.9" y2="312.0" stroke="#000" stroke-width="0.7" />
<line x1="813.3" y1="316.0" x2="821.3" y2="315.6" stroke="#000" stroke-width="0.7" />
<line x1="813.7" y1="319.6" x2="821.7" y2="319.2" stroke="#000" stroke-width="0.7" />
<line x1="814.1" y1="323.2" x2="822.1" y2="322.8" stroke="#000" stroke-width="0.7" />
<line x1="814.5" y1="326.8" x2="822.5" y2="326.4" stroke="#000" stroke-width="0.7" />
<line x1="814.9" y1="330.4" x2="822.9" y2="330.0" stroke="#000" stroke-width="0.7" />
<line x1="815.3" y1="334.0" x2="823.3" y2="333.6" stroke="#000" stroke-width="0.7" />
<line x1="815.7" y1="337.6" x2="823.7" y2="337.2" stroke="#000" stroke-width="0.7" />
<line x1="765.8" y1="236.0" x2="778.6" y2="350.0" stroke="#000" stroke-width="1.0" />
<line x1="785.3" y1="236.0" x2="798.4" y2="352.0" stroke="#000" stroke-width="1.2" />
<line x1="788.7" y1="240.0" x2="801.1" y2="350.0" stroke="#000" stroke-width="0.8" />
<line x1="804.6" y1="248.0" x2="815.7" y2="346.0" stroke="#000" stroke-width="1.1" />
<line x1="816.0" y1="262.0" x2="824.6" y2="338.0" stroke="#000" stroke-width="0.9" />
<polygon points="757,236 772,239 773,250 758,247" fill="#333"/><polygon points="790,237 805,242 804,251 790,247" fill="#333"/><polygon points="741,323 757,323 758,335 742,335" fill="#333"/>
<line x1="762.0" y1="296.0" x2="790.0" y2="295.4" stroke="#000" stroke-width="0.5" />
<line x1="762.2" y1="297.6" x2="790.2" y2="297.0" stroke="#000" stroke-width="0.5" />
<line x1="762.4" y1="299.2" x2="790.4" y2="298.6" stroke="#000" stroke-width="0.5" />
<line x1="762.6" y1="300.8" x2="790.6" y2="300.2" stroke="#000" stroke-width="0.5" />
<line x1="762.8" y1="302.4" x2="790.8" y2="301.8" stroke="#000" stroke-width="0.5" />
<line x1="762.9" y1="304.0" x2="790.9" y2="303.4" stroke="#000" stroke-width="0.5" />
<line x1="763.1" y1="305.6" x2="791.1" y2="305.0" stroke="#000" stroke-width="0.5" />
<line x1="763.3" y1="307.2" x2="791.3" y2="306.6" stroke="#000" stroke-width="0.5" />
<line x1="763.5" y1="308.8" x2="791.5" y2="308.2" stroke="#000" stroke-width="0.5" />
<line x1="763.7" y1="310.4" x2="791.7" y2="309.8" stroke="#000" stroke-width="0.5" />
<line x1="763.8" y1="312.0" x2="791.8" y2="311.4" stroke="#000" stroke-width="0.5" />
<line x1="764.0" y1="313.6" x2="792.0" y2="313.0" stroke="#000" stroke-width="0.5" />
<line x1="764.2" y1="315.2" x2="792.2" y2="314.6" stroke="#000" stroke-width="0.5" />
<line x1="764.4" y1="316.8" x2="792.4" y2="316.2" stroke="#000" stroke-width="0.5" />
<line x1="764.6" y1="318.4" x2="792.6" y2="317.8" stroke="#000" stroke-width="0.5" />
<line x1="764.7" y1="320.0" x2="792.7" y2="319.4" stroke="#000" stroke-width="0.5" />
<line x1="764.9" y1="321.6" x2="792.9" y2="321.0" stroke="#000" stroke-width="0.5" />
<line x1="765.1" y1="323.2" x2="793.1" y2="322.6" stroke="#000" stroke-width="0.5" />
<line x1="765.3" y1="324.8" x2="793.3" y2="324.2" stroke="#000" stroke-width="0.5" />
<line x1="765.5" y1="326.4" x2="793.5" y2="325.8" stroke="#000" stroke-width="0.5" />
<polyline points="700.0,192.0 702.2,191.0 705.3,189.6 708.9,187.9 712.7,186.2 716.6,184.6 720.0,183.5 723.1,182.6 726.1,181.9 729.1,181.3 732.1,181.0 735.0,181.0 738.0,181.5 741.0,182.4 744.0,183.7 746.9,185.4 749.9,187.3 752.9,189.6 756.0,192.0 759.2,194.8 762.4,198.0 765.7,201.4 768.9,205.0 772.1,208.6 775.0,212.0 777.7,215.3 780.3,218.7 782.7,222.0 785.1,225.3 787.5,228.7 790.0,232.0 792.7,235.4 795.5,238.7 798.3,242.1 801.1,245.5 803.7,248.8 806.0,252.0 808.1,255.1 810.0,258.1 811.7,261.0 813.3,263.9 814.7,266.9 816.0,270.0 817.2,273.2 818.2,276.5 819.1,279.9 819.8,283.3 820.5,286.6 821.0,290.0 821.5,293.4 821.9,296.7 822.1,300.1 822.3,303.5 822.2,306.8 822.0,310.0 821.6,313.1 821.0,316.1 820.2,319.1 819.3,322.1 818.2,325.0 817.0,328.0 815.5,331.1 813.8,334.2 811.9,337.4 809.9,340.4 807.9,343.3 806.0,346.0 804.0,348.5 801.9,350.9 799.8,353.1 797.9,355.1 796.2,356.8 795.0,358.0" fill="none" stroke="#000" stroke-width="0.9" />
<polyline points="742.0,186.0 744.2,187.9 747.3,190.5 750.9,193.6 754.7,197.0 758.6,200.6 762.0,204.0 765.1,207.4 768.2,211.0 771.2,214.6 774.2,218.4 777.1,222.2 780.0,226.0 783.0,230.2 786.1,234.7 789.1,239.4 791.9,243.7 794.3,247.4 796.0,250.0" fill="none" stroke="#000" stroke-width="0.7" />
<line x1="696.0" y1="291.0" x2="842.0" y2="306.0" stroke="#000" stroke-width="0.7" stroke-dasharray="6 2 1.5 2"/>
<line x1="696.0" y1="296.0" x2="842.0" y2="318.0" stroke="#000" stroke-width="0.7" stroke-dasharray="6 2 1.5 2"/>
<line x1="790.0" y1="238.0" x2="832.0" y2="240.0" stroke="#000" stroke-width="0.7" stroke-dasharray="6 2 1.5 2"/>
<line x1="691.5" y1="375.4" x2="674.8" y2="494.3" stroke="#000" stroke-width="0.9" />
<line x1="700.0" y1="375.4" x2="683.0" y2="494.3" stroke="#000" stroke-width="0.9" />
<line x1="705.5" y1="374.0" x2="690.0" y2="494.3" stroke="#000" stroke-width="0.9" />
<line x1="714.0" y1="371.2" x2="702.7" y2="472.0" stroke="#000" stroke-width="0.9" />
<polygon points="741,381 795,375 797,388 738,392" fill="#D4D4D4" stroke="#000" stroke-width="0.8"/>
<line x1="762.0" y1="378.5" x2="762.5" y2="390.0" stroke="#000" stroke-width="1.0" />
<line x1="765.8" y1="378.1" x2="766.3" y2="389.6" stroke="#000" stroke-width="1.0" />
<line x1="769.6" y1="377.7" x2="770.1" y2="389.2" stroke="#000" stroke-width="1.0" />
<line x1="773.4" y1="377.3" x2="773.9" y2="388.8" stroke="#000" stroke-width="1.0" />
<line x1="777.2" y1="376.9" x2="777.7" y2="388.4" stroke="#000" stroke-width="1.0" />
<line x1="781.0" y1="376.5" x2="781.5" y2="388.0" stroke="#000" stroke-width="1.0" />
<line x1="784.8" y1="376.1" x2="785.3" y2="387.6" stroke="#000" stroke-width="1.0" />
<line x1="788.6" y1="375.7" x2="789.1" y2="387.2" stroke="#000" stroke-width="1.0" />
<line x1="792.4" y1="375.3" x2="792.9" y2="386.8" stroke="#000" stroke-width="1.0" />
<line x1="655.0" y1="198.0" x2="797.0" y2="143.3" stroke="#000" stroke-width="1.1" />
<line x1="386.0" y1="-2.4" x2="1086.5" y2="422.9" stroke="#000" stroke-width="0.9" />
<line x1="430.5" y1="0.0" x2="1210.0" y2="358.6" stroke="#000" stroke-width="0.9" />
<line x1="445.5" y1="0.0" x2="1236.6" y2="331.2" stroke="#000" stroke-width="0.9" />
<line x1="873.6" y1="272.6" x2="1236.6" y2="291.0" stroke="#000" stroke-width="0.8" />
<line x1="873.6" y1="272.6" x2="1231.4" y2="320.0" stroke="#000" stroke-width="0.8" />
<line x1="873.6" y1="272.6" x2="1226.0" y2="327.8" stroke="#000" stroke-width="0.8" />
<line x1="1126.0" y1="367.0" x2="1189.0" y2="440.0" stroke="#C4C44A" stroke-width="0.8" />
<line x1="1189.0" y1="440.0" x2="1241.0" y2="505.0" stroke="#C4C44A" stroke-width="0.8" />
<line x1="1200.0" y1="285.8" x2="1242.0" y2="301.5" stroke="#C4C44A" stroke-width="0.8" />
<line x1="1080.0" y1="540.0" x2="1264.0" y2="505.0" stroke="#C4C44A" stroke-width="0.8" />
<line x1="1064.0" y1="546.0" x2="1090.0" y2="541.0" stroke="#C4C44A" stroke-width="0.8" />
<circle cx="1090.3" cy="292.2" r="4.2" fill="none" stroke="#000" stroke-width="1.2"/>
<line x1="1081.5" y1="292.2" x2="1099.0" y2="292.2" stroke="#000" stroke-width="1.0" />
<line x1="1090.3" y1="283.3" x2="1090.3" y2="301.0" stroke="#000" stroke-width="1.0" />
<path d="M996.0,175.0C994.4,176.7 989.8,181.4 986.5,185.0C983.2,188.6 979.7,192.1 976.0,196.5C972.3,200.9 968.0,206.2 964.5,211.5C961.0,216.8 958.0,221.9 955.2,228.5C952.4,235.1 949.5,243.6 947.7,251.0C945.9,258.4 945.1,266.5 944.6,273.0C944.1,279.5 944.3,284.0 944.6,290.0C944.9,296.0 945.6,300.8 946.6,309.0C947.6,317.2 949.0,330.2 950.6,339.5C952.2,348.8 954.6,358.7 956.3,364.5C958.0,370.3 958.2,370.6 961.0,374.5C963.8,378.4 967.2,381.9 973.0,388.0C978.8,394.1 988.7,404.8 996.0,411.3C1003.3,417.8 1011.3,423.4 1017.0,426.8C1022.7,430.2 1026.0,430.5 1030.0,431.8C1034.0,433.1 1036.2,433.2 1041.0,434.6C1045.8,436.1 1052.9,438.8 1058.9,440.5C1065.0,442.2 1074.2,444.0 1077.3,444.7" fill="none" stroke="#000" stroke-width="1.7"/>
<line x1="1076.0" y1="415.4" x2="1087.0" y2="423.2" stroke="#000" stroke-width="0.9" />
<path d="M1086.5,422.9 L1076.2,444.7 M1087.8,423.5 L1077.5,445.3" fill="none" stroke="#000" stroke-width="0.9"/>
<path d="M1087.5,424 q8,5 3,12 q-4,3 -8,-1 M1082,435 q8,2 4,10 q-4,4 -9,0 M1077.5,445.5 q10,4 13,17" fill="none" stroke="#000" stroke-width="0.9"/>
<rect x="1072" y="413.2" width="5" height="3" fill="#111"/><rect x="1063" y="417.5" width="14" height="0.9" fill="#000"/><rect x="1058" y="420" width="19" height="1.3" fill="#000"/><rect x="1061" y="422.8" width="16" height="1.2" fill="#000"/>
<line x1="1087.0" y1="425.0" x2="1240.0" y2="510.0" stroke="#000" stroke-width="0.9" />
<polyline points="736.9,173.8 81.6,392.8 81.6,427.0 478.7,497.3 484.6,458.6 715.4,518.0 726.0,456.4 745.0,458.5 749.9,440.0 757.3,399.5 799.5,398.5 795.5,375.5 805.3,349.6 818.8,320.0 826.4,299.6 829.3,280.0 828.3,272.0 823.4,263.4 817.0,249.6 800.7,233.8 785.5,220.0 736.9,173.8" fill="none" stroke="#FFC40E" stroke-width="5.3" stroke-linejoin="miter" shape-rendering="crispEdges"/>
<line x1="78.7" y1="392.0" x2="78.7" y2="428.0" stroke="#000" stroke-width="1.0" />
<polyline points="740.4,174.8 800.6,144.0 990.0,144.0 994.6,172.6 984.0,184.0 973.6,195.0 962.0,210.0 952.6,227.0 945.0,250.0 941.5,272.6 941.5,290.0 943.5,309.4 947.0,340.0 952.6,367.3 981.6,396.7 1022.4,427.3 1055.0,447.8 1091.8,463.0 1079.5,514.8 972.8,485.5 970.5,501.0 912.8,488.6 903.0,535.0 824.6,509.0 812.7,440.0 801.7,376.1 811.2,349.6 824.7,320.0 831.1,299.6 834.3,280.0 833.3,272.0 830.0,263.4 825.2,249.6 809.6,233.8 794.5,220.0 740.4,174.8" fill="none" stroke="#FF8020" stroke-width="5.3" stroke-linejoin="miter" shape-rendering="crispEdges"/>
<polygon points="283.6,230.2 294.8,230.2 294.8,250.5 300.2,250.5 289.2,270.3 278.2,250.5 283.6,250.5" fill="#fff" stroke="#FFC40E" stroke-width="4.6" stroke-linejoin="round"/>
<polygon points="886.6,101.3 895.6,101.3 895.6,117.5 901,117.5 891.1,133.2 881.2,117.5 886.6,117.5" fill="#fff" stroke="#FF8020" stroke-width="4.2" stroke-linejoin="round"/>
<text x="833.7" y="244.2" font-family="Liberation Sans, sans-serif" font-size="9" fill="#141428" textLength="10.3" lengthAdjust="spacingAndGlyphs">M3</text>
<text x="843.6" y="310.9" font-family="Liberation Sans, sans-serif" font-size="7" fill="#141428" textLength="9.9" lengthAdjust="spacingAndGlyphs">M2</text>
<text x="843.6" y="321.8" font-family="Liberation Sans, sans-serif" font-size="7" fill="#141428" textLength="9.5" lengthAdjust="spacingAndGlyphs">M1</text>
<text x="843.7" y="402.7" font-family="Liberation Sans, sans-serif" font-size="9.6" fill="#141428" textLength="16.8" lengthAdjust="spacingAndGlyphs">PM1</text>
<text x="849.6" y="492.3" font-family="Liberation Sans, sans-serif" font-size="9.6" fill="#141428" textLength="16.2" lengthAdjust="spacingAndGlyphs">PM2</text>
<text x="1084.3" y="280.9" font-family="Liberation Sans, sans-serif" font-size="6" fill="#5a6478" textLength="15.8" lengthAdjust="spacingAndGlyphs">REF 2</text>
<text x="603.5" y="153" font-family="Liberation Sans, sans-serif" font-size="8.5" fill="#141428" transform="rotate(72 603.5 153)">M5</text>
<text x="525" y="193" font-family="Liberation Sans, sans-serif" font-size="8.5" fill="#141428" transform="rotate(72 525 193)">M4</text>
<text x="254" y="321" font-family="Liberation Sans, sans-serif" font-size="8.5" fill="#141428" transform="rotate(72 254 321)">M6</text>
<text x="793" y="603" font-family="Liberation Sans, sans-serif" font-size="7" fill="#141428">v</text>
<text x="237.6" y="203.6" font-family="Liberation Sans, sans-serif" font-weight="bold" font-size="10.3" fill="#000" stroke="#000" stroke-width="0.5" textLength="82" lengthAdjust="spacingAndGlyphs">CROSS PISTE</text>
<text x="237.6" y="218.6" font-family="Liberation Sans, sans-serif" font-weight="bold" font-size="10.3" fill="#000" stroke="#000" stroke-width="0.5" textLength="83" lengthAdjust="spacingAndGlyphs">PISTA CROSS</text>
<text x="905.6" y="25.9" font-family="Liberation Sans, sans-serif" font-weight="bold" font-size="10.3" fill="#000" stroke="#000" stroke-width="0.5" textLength="62" lengthAdjust="spacingAndGlyphs">OFF ROAD</text>
<text x="905.6" y="40.8" font-family="Liberation Sans, sans-serif" font-weight="bold" font-size="10.3" fill="#000" stroke="#000" stroke-width="0.5" textLength="113" lengthAdjust="spacingAndGlyphs">SAB.&amp;DOM: per gli</text>
<text x="905.6" y="55.9" font-family="Liberation Sans, sans-serif" font-weight="bold" font-size="10.3" fill="#000" stroke="#000" stroke-width="0.5" textLength="103" lengthAdjust="spacingAndGlyphs">altri giorni previo</text>
<text x="905.6" y="70.8" font-family="Liberation Sans, sans-serif" font-weight="bold" font-size="10.3" fill="#000" stroke="#000" stroke-width="0.5" textLength="110" lengthAdjust="spacingAndGlyphs">accordi con Safety</text>
<text x="905.6" y="85.7" font-family="Liberation Sans, sans-serif" font-weight="bold" font-size="10.3" fill="#000" stroke="#000" stroke-width="0.5" textLength="26.4" lengthAdjust="spacingAndGlyphs">Park</text>
<text x="1042.4" y="24.7" font-family="Liberation Sans, sans-serif" font-weight="bold" font-size="10.3" fill="#000" stroke="#000" stroke-width="0.5" textLength="61.8" lengthAdjust="spacingAndGlyphs">OFF ROAD</text>
<text x="1042.4" y="39.6" font-family="Liberation Sans, sans-serif" font-weight="bold" font-size="10.3" fill="#000" stroke="#000" stroke-width="0.5" textLength="98.7" lengthAdjust="spacingAndGlyphs">SA&amp;SO: an allen</text>
<text x="1042.4" y="54.4" font-family="Liberation Sans, sans-serif" font-weight="bold" font-size="10.3" fill="#000" stroke="#000" stroke-width="0.5" textLength="109.5" lengthAdjust="spacingAndGlyphs">anderen Tagen nur</text>
<text x="1042.4" y="69.2" font-family="Liberation Sans, sans-serif" font-weight="bold" font-size="10.3" fill="#000" stroke="#000" stroke-width="0.5" textLength="92" lengthAdjust="spacingAndGlyphs">nach vorheriger</text>
<text x="1042.4" y="84.1" font-family="Liberation Sans, sans-serif" font-weight="bold" font-size="10.3" fill="#000" stroke="#000" stroke-width="0.5" textLength="102.6" lengthAdjust="spacingAndGlyphs">Vereinbarung mit</text>
<text x="1042.4" y="99.2" font-family="Liberation Sans, sans-serif" font-weight="bold" font-size="10.3" fill="#000" stroke="#000" stroke-width="0.5" textLength="69" lengthAdjust="spacingAndGlyphs">Safety Park</text>
</svg>

</body></html>
